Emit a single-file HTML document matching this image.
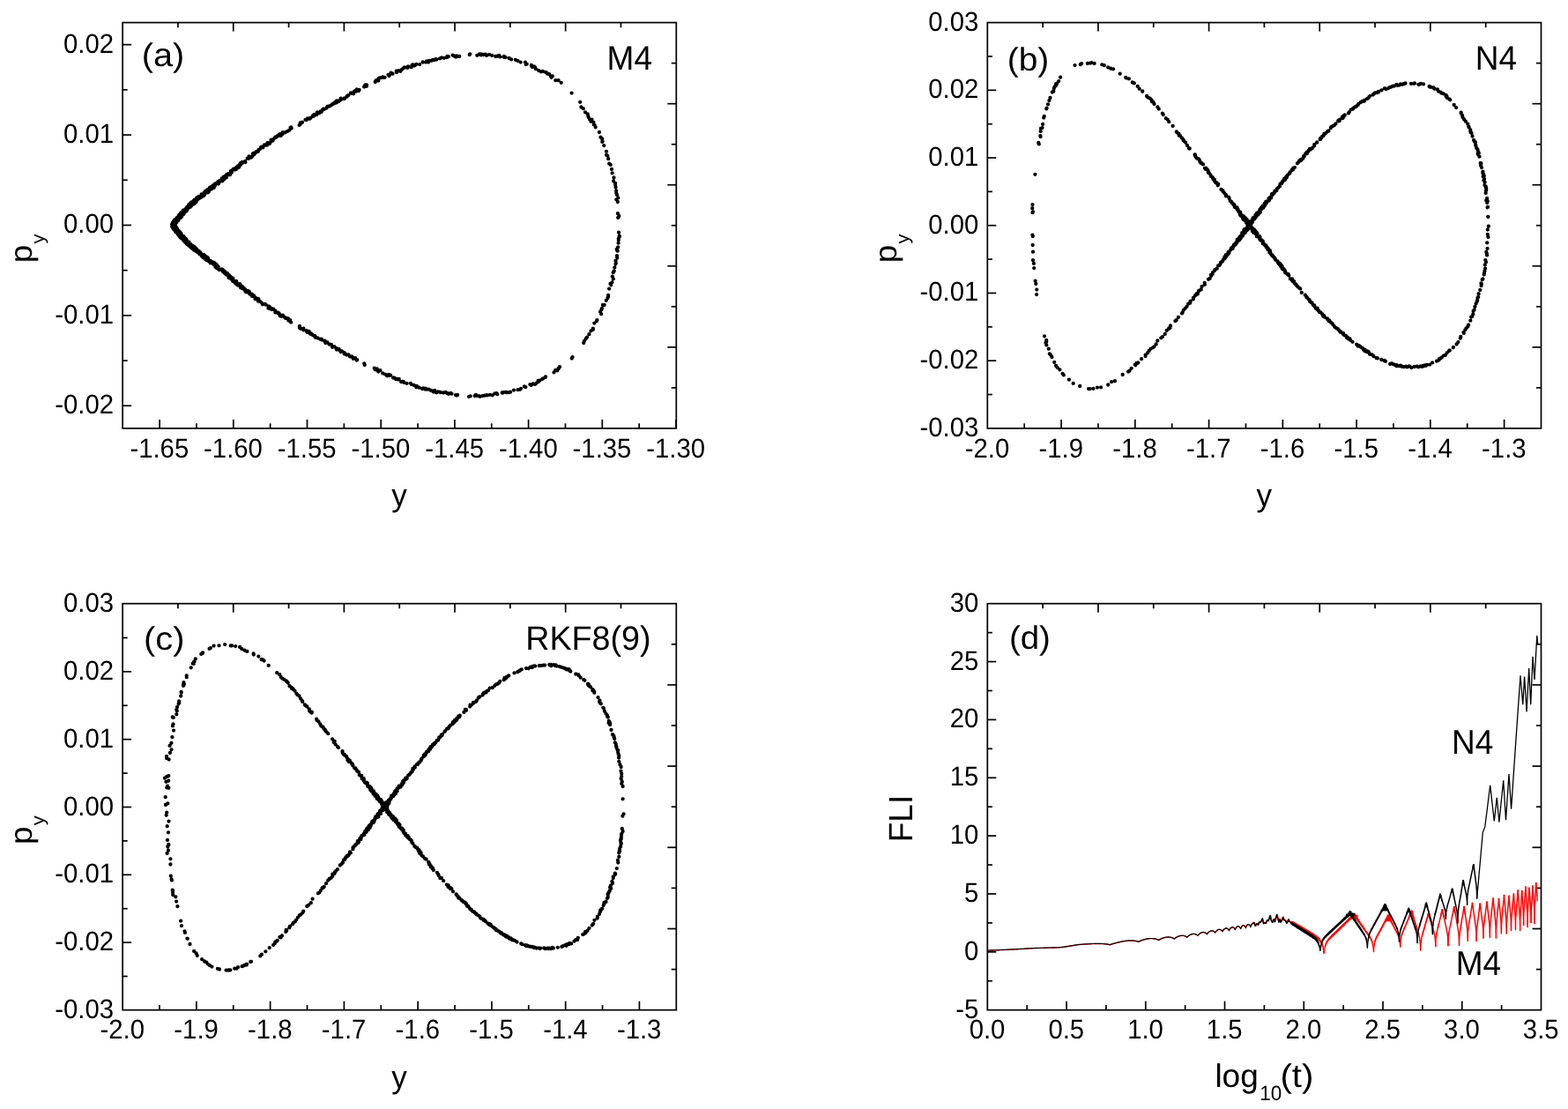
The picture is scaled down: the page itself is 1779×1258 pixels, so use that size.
<!DOCTYPE html>
<html><head><meta charset="utf-8"><title>Figure</title>
<style>
html,body{margin:0;padding:0;background:#fff;}
body{width:1779px;height:1258px;overflow:hidden;}
svg{display:block;}
svg text{font-family:"Liberation Sans",Arial,Helvetica,sans-serif;fill:#000;text-rendering:geometricPrecision;}
</style></head><body>
<svg width="1779" height="1258" viewBox="0 0 1779 1258">
<rect width="1779" height="1258" fill="#fff"/>
<rect x="139.10" y="25.60" width="628.20" height="460.30" fill="none" stroke="#000" stroke-width="1.7"/>
<line x1="181.10" y1="485.90" x2="181.10" y2="475.90" stroke="#000" stroke-width="1.7"/>
<line x1="222.95" y1="485.90" x2="222.95" y2="480.30" stroke="#000" stroke-width="1.7"/>
<line x1="264.80" y1="485.90" x2="264.80" y2="475.90" stroke="#000" stroke-width="1.7"/>
<line x1="306.65" y1="485.90" x2="306.65" y2="480.30" stroke="#000" stroke-width="1.7"/>
<line x1="348.50" y1="485.90" x2="348.50" y2="475.90" stroke="#000" stroke-width="1.7"/>
<line x1="390.35" y1="485.90" x2="390.35" y2="480.30" stroke="#000" stroke-width="1.7"/>
<line x1="432.20" y1="485.90" x2="432.20" y2="475.90" stroke="#000" stroke-width="1.7"/>
<line x1="474.05" y1="485.90" x2="474.05" y2="480.30" stroke="#000" stroke-width="1.7"/>
<line x1="515.90" y1="485.90" x2="515.90" y2="475.90" stroke="#000" stroke-width="1.7"/>
<line x1="557.75" y1="485.90" x2="557.75" y2="480.30" stroke="#000" stroke-width="1.7"/>
<line x1="599.60" y1="485.90" x2="599.60" y2="475.90" stroke="#000" stroke-width="1.7"/>
<line x1="641.45" y1="485.90" x2="641.45" y2="480.30" stroke="#000" stroke-width="1.7"/>
<line x1="683.30" y1="485.90" x2="683.30" y2="475.90" stroke="#000" stroke-width="1.7"/>
<line x1="725.15" y1="485.90" x2="725.15" y2="480.30" stroke="#000" stroke-width="1.7"/>
<line x1="767.00" y1="485.90" x2="767.00" y2="475.90" stroke="#000" stroke-width="1.7"/>
<line x1="139.10" y1="460.25" x2="149.10" y2="460.25" stroke="#000" stroke-width="1.7"/>
<line x1="139.10" y1="409.05" x2="144.70" y2="409.05" stroke="#000" stroke-width="1.7"/>
<line x1="139.10" y1="357.85" x2="149.10" y2="357.85" stroke="#000" stroke-width="1.7"/>
<line x1="139.10" y1="306.65" x2="144.70" y2="306.65" stroke="#000" stroke-width="1.7"/>
<line x1="139.10" y1="255.45" x2="149.10" y2="255.45" stroke="#000" stroke-width="1.7"/>
<line x1="139.10" y1="204.25" x2="144.70" y2="204.25" stroke="#000" stroke-width="1.7"/>
<line x1="139.10" y1="153.05" x2="149.10" y2="153.05" stroke="#000" stroke-width="1.7"/>
<line x1="139.10" y1="101.85" x2="144.70" y2="101.85" stroke="#000" stroke-width="1.7"/>
<line x1="139.10" y1="50.65" x2="149.10" y2="50.65" stroke="#000" stroke-width="1.7"/>
<line x1="201.92" y1="25.60" x2="201.92" y2="31.20" stroke="#000" stroke-width="1.7"/>
<line x1="767.30" y1="71.63" x2="761.70" y2="71.63" stroke="#000" stroke-width="1.7"/>
<line x1="264.74" y1="25.60" x2="264.74" y2="35.60" stroke="#000" stroke-width="1.7"/>
<line x1="767.30" y1="117.66" x2="757.30" y2="117.66" stroke="#000" stroke-width="1.7"/>
<line x1="327.56" y1="25.60" x2="327.56" y2="31.20" stroke="#000" stroke-width="1.7"/>
<line x1="767.30" y1="163.69" x2="761.70" y2="163.69" stroke="#000" stroke-width="1.7"/>
<line x1="390.38" y1="25.60" x2="390.38" y2="35.60" stroke="#000" stroke-width="1.7"/>
<line x1="767.30" y1="209.72" x2="757.30" y2="209.72" stroke="#000" stroke-width="1.7"/>
<line x1="453.20" y1="25.60" x2="453.20" y2="31.20" stroke="#000" stroke-width="1.7"/>
<line x1="767.30" y1="255.75" x2="761.70" y2="255.75" stroke="#000" stroke-width="1.7"/>
<line x1="516.02" y1="25.60" x2="516.02" y2="35.60" stroke="#000" stroke-width="1.7"/>
<line x1="767.30" y1="301.78" x2="757.30" y2="301.78" stroke="#000" stroke-width="1.7"/>
<line x1="578.84" y1="25.60" x2="578.84" y2="31.20" stroke="#000" stroke-width="1.7"/>
<line x1="767.30" y1="347.81" x2="761.70" y2="347.81" stroke="#000" stroke-width="1.7"/>
<line x1="641.66" y1="25.60" x2="641.66" y2="35.60" stroke="#000" stroke-width="1.7"/>
<line x1="767.30" y1="393.84" x2="757.30" y2="393.84" stroke="#000" stroke-width="1.7"/>
<line x1="704.48" y1="25.60" x2="704.48" y2="31.20" stroke="#000" stroke-width="1.7"/>
<line x1="767.30" y1="439.87" x2="761.70" y2="439.87" stroke="#000" stroke-width="1.7"/>
<text transform="translate(180.80,519.20) scale(1,1.055)" font-size="29.3" text-anchor="middle" >-1.65</text>
<text transform="translate(264.50,519.20) scale(1,1.055)" font-size="29.3" text-anchor="middle" >-1.60</text>
<text transform="translate(348.20,519.20) scale(1,1.055)" font-size="29.3" text-anchor="middle" >-1.55</text>
<text transform="translate(431.90,519.20) scale(1,1.055)" font-size="29.3" text-anchor="middle" >-1.50</text>
<text transform="translate(515.60,519.20) scale(1,1.055)" font-size="29.3" text-anchor="middle" >-1.45</text>
<text transform="translate(599.30,519.20) scale(1,1.055)" font-size="29.3" text-anchor="middle" >-1.40</text>
<text transform="translate(683.00,519.20) scale(1,1.055)" font-size="29.3" text-anchor="middle" >-1.35</text>
<text transform="translate(766.70,519.20) scale(1,1.055)" font-size="29.3" text-anchor="middle" >-1.30</text>
<text transform="translate(129.10,59.65) scale(1,1.055)" font-size="29.3" text-anchor="end" >0.02</text>
<text transform="translate(129.10,162.05) scale(1,1.055)" font-size="29.3" text-anchor="end" >0.01</text>
<text transform="translate(129.10,264.45) scale(1,1.055)" font-size="29.3" text-anchor="end" >0.00</text>
<text transform="translate(129.10,366.85) scale(1,1.055)" font-size="29.3" text-anchor="end" >-0.01</text>
<text transform="translate(129.10,469.25) scale(1,1.055)" font-size="29.3" text-anchor="end" >-0.02</text>
<rect x="1120.30" y="25.60" width="628.20" height="460.30" fill="none" stroke="#000" stroke-width="1.7"/>
<line x1="1162.18" y1="485.90" x2="1162.18" y2="480.30" stroke="#000" stroke-width="1.7"/>
<line x1="1204.06" y1="485.90" x2="1204.06" y2="475.90" stroke="#000" stroke-width="1.7"/>
<line x1="1245.94" y1="485.90" x2="1245.94" y2="480.30" stroke="#000" stroke-width="1.7"/>
<line x1="1287.82" y1="485.90" x2="1287.82" y2="475.90" stroke="#000" stroke-width="1.7"/>
<line x1="1329.70" y1="485.90" x2="1329.70" y2="480.30" stroke="#000" stroke-width="1.7"/>
<line x1="1371.58" y1="485.90" x2="1371.58" y2="475.90" stroke="#000" stroke-width="1.7"/>
<line x1="1413.46" y1="485.90" x2="1413.46" y2="480.30" stroke="#000" stroke-width="1.7"/>
<line x1="1455.34" y1="485.90" x2="1455.34" y2="475.90" stroke="#000" stroke-width="1.7"/>
<line x1="1497.22" y1="485.90" x2="1497.22" y2="480.30" stroke="#000" stroke-width="1.7"/>
<line x1="1539.10" y1="485.90" x2="1539.10" y2="475.90" stroke="#000" stroke-width="1.7"/>
<line x1="1580.98" y1="485.90" x2="1580.98" y2="480.30" stroke="#000" stroke-width="1.7"/>
<line x1="1622.86" y1="485.90" x2="1622.86" y2="475.90" stroke="#000" stroke-width="1.7"/>
<line x1="1664.74" y1="485.90" x2="1664.74" y2="480.30" stroke="#000" stroke-width="1.7"/>
<line x1="1706.62" y1="485.90" x2="1706.62" y2="475.90" stroke="#000" stroke-width="1.7"/>
<line x1="1120.30" y1="447.54" x2="1125.90" y2="447.54" stroke="#000" stroke-width="1.7"/>
<line x1="1120.30" y1="409.18" x2="1130.30" y2="409.18" stroke="#000" stroke-width="1.7"/>
<line x1="1120.30" y1="370.82" x2="1125.90" y2="370.82" stroke="#000" stroke-width="1.7"/>
<line x1="1120.30" y1="332.47" x2="1130.30" y2="332.47" stroke="#000" stroke-width="1.7"/>
<line x1="1120.30" y1="294.11" x2="1125.90" y2="294.11" stroke="#000" stroke-width="1.7"/>
<line x1="1120.30" y1="255.75" x2="1130.30" y2="255.75" stroke="#000" stroke-width="1.7"/>
<line x1="1120.30" y1="217.39" x2="1125.90" y2="217.39" stroke="#000" stroke-width="1.7"/>
<line x1="1120.30" y1="179.03" x2="1130.30" y2="179.03" stroke="#000" stroke-width="1.7"/>
<line x1="1120.30" y1="140.68" x2="1125.90" y2="140.68" stroke="#000" stroke-width="1.7"/>
<line x1="1120.30" y1="102.32" x2="1130.30" y2="102.32" stroke="#000" stroke-width="1.7"/>
<line x1="1120.30" y1="63.96" x2="1125.90" y2="63.96" stroke="#000" stroke-width="1.7"/>
<line x1="1183.12" y1="25.60" x2="1183.12" y2="31.20" stroke="#000" stroke-width="1.7"/>
<line x1="1748.50" y1="71.63" x2="1742.90" y2="71.63" stroke="#000" stroke-width="1.7"/>
<line x1="1245.94" y1="25.60" x2="1245.94" y2="35.60" stroke="#000" stroke-width="1.7"/>
<line x1="1748.50" y1="117.66" x2="1738.50" y2="117.66" stroke="#000" stroke-width="1.7"/>
<line x1="1308.76" y1="25.60" x2="1308.76" y2="31.20" stroke="#000" stroke-width="1.7"/>
<line x1="1748.50" y1="163.69" x2="1742.90" y2="163.69" stroke="#000" stroke-width="1.7"/>
<line x1="1371.58" y1="25.60" x2="1371.58" y2="35.60" stroke="#000" stroke-width="1.7"/>
<line x1="1748.50" y1="209.72" x2="1738.50" y2="209.72" stroke="#000" stroke-width="1.7"/>
<line x1="1434.40" y1="25.60" x2="1434.40" y2="31.20" stroke="#000" stroke-width="1.7"/>
<line x1="1748.50" y1="255.75" x2="1742.90" y2="255.75" stroke="#000" stroke-width="1.7"/>
<line x1="1497.22" y1="25.60" x2="1497.22" y2="35.60" stroke="#000" stroke-width="1.7"/>
<line x1="1748.50" y1="301.78" x2="1738.50" y2="301.78" stroke="#000" stroke-width="1.7"/>
<line x1="1560.04" y1="25.60" x2="1560.04" y2="31.20" stroke="#000" stroke-width="1.7"/>
<line x1="1748.50" y1="347.81" x2="1742.90" y2="347.81" stroke="#000" stroke-width="1.7"/>
<line x1="1622.86" y1="25.60" x2="1622.86" y2="35.60" stroke="#000" stroke-width="1.7"/>
<line x1="1748.50" y1="393.84" x2="1738.50" y2="393.84" stroke="#000" stroke-width="1.7"/>
<line x1="1685.68" y1="25.60" x2="1685.68" y2="31.20" stroke="#000" stroke-width="1.7"/>
<line x1="1748.50" y1="439.87" x2="1742.90" y2="439.87" stroke="#000" stroke-width="1.7"/>
<text transform="translate(1120.00,519.20) scale(1,1.055)" font-size="29.3" text-anchor="middle" >-2.0</text>
<text transform="translate(1203.76,519.20) scale(1,1.055)" font-size="29.3" text-anchor="middle" >-1.9</text>
<text transform="translate(1287.52,519.20) scale(1,1.055)" font-size="29.3" text-anchor="middle" >-1.8</text>
<text transform="translate(1371.28,519.20) scale(1,1.055)" font-size="29.3" text-anchor="middle" >-1.7</text>
<text transform="translate(1455.04,519.20) scale(1,1.055)" font-size="29.3" text-anchor="middle" >-1.6</text>
<text transform="translate(1538.80,519.20) scale(1,1.055)" font-size="29.3" text-anchor="middle" >-1.5</text>
<text transform="translate(1622.56,519.20) scale(1,1.055)" font-size="29.3" text-anchor="middle" >-1.4</text>
<text transform="translate(1706.32,519.20) scale(1,1.055)" font-size="29.3" text-anchor="middle" >-1.3</text>
<text transform="translate(1110.30,34.60) scale(1,1.055)" font-size="29.3" text-anchor="end" >0.03</text>
<text transform="translate(1110.30,111.32) scale(1,1.055)" font-size="29.3" text-anchor="end" >0.02</text>
<text transform="translate(1110.30,188.03) scale(1,1.055)" font-size="29.3" text-anchor="end" >0.01</text>
<text transform="translate(1110.30,264.75) scale(1,1.055)" font-size="29.3" text-anchor="end" >0.00</text>
<text transform="translate(1110.30,341.47) scale(1,1.055)" font-size="29.3" text-anchor="end" >-0.01</text>
<text transform="translate(1110.30,418.18) scale(1,1.055)" font-size="29.3" text-anchor="end" >-0.02</text>
<text transform="translate(1110.30,494.90) scale(1,1.055)" font-size="29.3" text-anchor="end" >-0.03</text>
<rect x="139.10" y="684.70" width="628.20" height="461.00" fill="none" stroke="#000" stroke-width="1.7"/>
<line x1="180.98" y1="1145.70" x2="180.98" y2="1140.10" stroke="#000" stroke-width="1.7"/>
<line x1="222.86" y1="1145.70" x2="222.86" y2="1135.70" stroke="#000" stroke-width="1.7"/>
<line x1="264.74" y1="1145.70" x2="264.74" y2="1140.10" stroke="#000" stroke-width="1.7"/>
<line x1="306.62" y1="1145.70" x2="306.62" y2="1135.70" stroke="#000" stroke-width="1.7"/>
<line x1="348.50" y1="1145.70" x2="348.50" y2="1140.10" stroke="#000" stroke-width="1.7"/>
<line x1="390.38" y1="1145.70" x2="390.38" y2="1135.70" stroke="#000" stroke-width="1.7"/>
<line x1="432.26" y1="1145.70" x2="432.26" y2="1140.10" stroke="#000" stroke-width="1.7"/>
<line x1="474.14" y1="1145.70" x2="474.14" y2="1135.70" stroke="#000" stroke-width="1.7"/>
<line x1="516.02" y1="1145.70" x2="516.02" y2="1140.10" stroke="#000" stroke-width="1.7"/>
<line x1="557.90" y1="1145.70" x2="557.90" y2="1135.70" stroke="#000" stroke-width="1.7"/>
<line x1="599.78" y1="1145.70" x2="599.78" y2="1140.10" stroke="#000" stroke-width="1.7"/>
<line x1="641.66" y1="1145.70" x2="641.66" y2="1135.70" stroke="#000" stroke-width="1.7"/>
<line x1="683.54" y1="1145.70" x2="683.54" y2="1140.10" stroke="#000" stroke-width="1.7"/>
<line x1="725.42" y1="1145.70" x2="725.42" y2="1135.70" stroke="#000" stroke-width="1.7"/>
<line x1="139.10" y1="1107.50" x2="144.70" y2="1107.50" stroke="#000" stroke-width="1.7"/>
<line x1="139.10" y1="1069.10" x2="149.10" y2="1069.10" stroke="#000" stroke-width="1.7"/>
<line x1="139.10" y1="1030.70" x2="144.70" y2="1030.70" stroke="#000" stroke-width="1.7"/>
<line x1="139.10" y1="992.30" x2="149.10" y2="992.30" stroke="#000" stroke-width="1.7"/>
<line x1="139.10" y1="953.90" x2="144.70" y2="953.90" stroke="#000" stroke-width="1.7"/>
<line x1="139.10" y1="915.50" x2="149.10" y2="915.50" stroke="#000" stroke-width="1.7"/>
<line x1="139.10" y1="877.10" x2="144.70" y2="877.10" stroke="#000" stroke-width="1.7"/>
<line x1="139.10" y1="838.70" x2="149.10" y2="838.70" stroke="#000" stroke-width="1.7"/>
<line x1="139.10" y1="800.30" x2="144.70" y2="800.30" stroke="#000" stroke-width="1.7"/>
<line x1="139.10" y1="761.90" x2="149.10" y2="761.90" stroke="#000" stroke-width="1.7"/>
<line x1="139.10" y1="723.50" x2="144.70" y2="723.50" stroke="#000" stroke-width="1.7"/>
<line x1="201.92" y1="684.70" x2="201.92" y2="690.30" stroke="#000" stroke-width="1.7"/>
<line x1="767.30" y1="730.80" x2="761.70" y2="730.80" stroke="#000" stroke-width="1.7"/>
<line x1="264.74" y1="684.70" x2="264.74" y2="694.70" stroke="#000" stroke-width="1.7"/>
<line x1="767.30" y1="776.90" x2="757.30" y2="776.90" stroke="#000" stroke-width="1.7"/>
<line x1="327.56" y1="684.70" x2="327.56" y2="690.30" stroke="#000" stroke-width="1.7"/>
<line x1="767.30" y1="823.00" x2="761.70" y2="823.00" stroke="#000" stroke-width="1.7"/>
<line x1="390.38" y1="684.70" x2="390.38" y2="694.70" stroke="#000" stroke-width="1.7"/>
<line x1="767.30" y1="869.10" x2="757.30" y2="869.10" stroke="#000" stroke-width="1.7"/>
<line x1="453.20" y1="684.70" x2="453.20" y2="690.30" stroke="#000" stroke-width="1.7"/>
<line x1="767.30" y1="915.20" x2="761.70" y2="915.20" stroke="#000" stroke-width="1.7"/>
<line x1="516.02" y1="684.70" x2="516.02" y2="694.70" stroke="#000" stroke-width="1.7"/>
<line x1="767.30" y1="961.30" x2="757.30" y2="961.30" stroke="#000" stroke-width="1.7"/>
<line x1="578.84" y1="684.70" x2="578.84" y2="690.30" stroke="#000" stroke-width="1.7"/>
<line x1="767.30" y1="1007.40" x2="761.70" y2="1007.40" stroke="#000" stroke-width="1.7"/>
<line x1="641.66" y1="684.70" x2="641.66" y2="694.70" stroke="#000" stroke-width="1.7"/>
<line x1="767.30" y1="1053.50" x2="757.30" y2="1053.50" stroke="#000" stroke-width="1.7"/>
<line x1="704.48" y1="684.70" x2="704.48" y2="690.30" stroke="#000" stroke-width="1.7"/>
<line x1="767.30" y1="1099.60" x2="761.70" y2="1099.60" stroke="#000" stroke-width="1.7"/>
<text transform="translate(138.80,1178.10) scale(1,1.055)" font-size="29.3" text-anchor="middle" >-2.0</text>
<text transform="translate(222.56,1178.10) scale(1,1.055)" font-size="29.3" text-anchor="middle" >-1.9</text>
<text transform="translate(306.32,1178.10) scale(1,1.055)" font-size="29.3" text-anchor="middle" >-1.8</text>
<text transform="translate(390.08,1178.10) scale(1,1.055)" font-size="29.3" text-anchor="middle" >-1.7</text>
<text transform="translate(473.84,1178.10) scale(1,1.055)" font-size="29.3" text-anchor="middle" >-1.6</text>
<text transform="translate(557.60,1178.10) scale(1,1.055)" font-size="29.3" text-anchor="middle" >-1.5</text>
<text transform="translate(641.36,1178.10) scale(1,1.055)" font-size="29.3" text-anchor="middle" >-1.4</text>
<text transform="translate(725.12,1178.10) scale(1,1.055)" font-size="29.3" text-anchor="middle" >-1.3</text>
<text transform="translate(129.10,694.10) scale(1,1.055)" font-size="29.3" text-anchor="end" >0.03</text>
<text transform="translate(129.10,770.90) scale(1,1.055)" font-size="29.3" text-anchor="end" >0.02</text>
<text transform="translate(129.10,847.70) scale(1,1.055)" font-size="29.3" text-anchor="end" >0.01</text>
<text transform="translate(129.10,924.50) scale(1,1.055)" font-size="29.3" text-anchor="end" >0.00</text>
<text transform="translate(129.10,1001.30) scale(1,1.055)" font-size="29.3" text-anchor="end" >-0.01</text>
<text transform="translate(129.10,1078.10) scale(1,1.055)" font-size="29.3" text-anchor="end" >-0.02</text>
<text transform="translate(129.10,1154.90) scale(1,1.055)" font-size="29.3" text-anchor="end" >-0.03</text>
<rect x="1120.30" y="684.70" width="628.20" height="461.00" fill="none" stroke="#000" stroke-width="1.7"/>
<line x1="1165.17" y1="1145.70" x2="1165.17" y2="1140.10" stroke="#000" stroke-width="1.7"/>
<line x1="1210.04" y1="1145.70" x2="1210.04" y2="1135.70" stroke="#000" stroke-width="1.7"/>
<line x1="1254.91" y1="1145.70" x2="1254.91" y2="1140.10" stroke="#000" stroke-width="1.7"/>
<line x1="1299.79" y1="1145.70" x2="1299.79" y2="1135.70" stroke="#000" stroke-width="1.7"/>
<line x1="1344.66" y1="1145.70" x2="1344.66" y2="1140.10" stroke="#000" stroke-width="1.7"/>
<line x1="1389.53" y1="1145.70" x2="1389.53" y2="1135.70" stroke="#000" stroke-width="1.7"/>
<line x1="1434.40" y1="1145.70" x2="1434.40" y2="1140.10" stroke="#000" stroke-width="1.7"/>
<line x1="1479.27" y1="1145.70" x2="1479.27" y2="1135.70" stroke="#000" stroke-width="1.7"/>
<line x1="1524.14" y1="1145.70" x2="1524.14" y2="1140.10" stroke="#000" stroke-width="1.7"/>
<line x1="1569.01" y1="1145.70" x2="1569.01" y2="1135.70" stroke="#000" stroke-width="1.7"/>
<line x1="1613.89" y1="1145.70" x2="1613.89" y2="1140.10" stroke="#000" stroke-width="1.7"/>
<line x1="1658.76" y1="1145.70" x2="1658.76" y2="1135.70" stroke="#000" stroke-width="1.7"/>
<line x1="1703.63" y1="1145.70" x2="1703.63" y2="1140.10" stroke="#000" stroke-width="1.7"/>
<line x1="1120.30" y1="1112.77" x2="1125.90" y2="1112.77" stroke="#000" stroke-width="1.7"/>
<line x1="1120.30" y1="1079.84" x2="1130.30" y2="1079.84" stroke="#000" stroke-width="1.7"/>
<line x1="1120.30" y1="1046.91" x2="1125.90" y2="1046.91" stroke="#000" stroke-width="1.7"/>
<line x1="1120.30" y1="1013.99" x2="1130.30" y2="1013.99" stroke="#000" stroke-width="1.7"/>
<line x1="1120.30" y1="981.06" x2="1125.90" y2="981.06" stroke="#000" stroke-width="1.7"/>
<line x1="1120.30" y1="948.13" x2="1130.30" y2="948.13" stroke="#000" stroke-width="1.7"/>
<line x1="1120.30" y1="915.20" x2="1125.90" y2="915.20" stroke="#000" stroke-width="1.7"/>
<line x1="1120.30" y1="882.27" x2="1130.30" y2="882.27" stroke="#000" stroke-width="1.7"/>
<line x1="1120.30" y1="849.34" x2="1125.90" y2="849.34" stroke="#000" stroke-width="1.7"/>
<line x1="1120.30" y1="816.41" x2="1130.30" y2="816.41" stroke="#000" stroke-width="1.7"/>
<line x1="1120.30" y1="783.49" x2="1125.90" y2="783.49" stroke="#000" stroke-width="1.7"/>
<line x1="1120.30" y1="750.56" x2="1130.30" y2="750.56" stroke="#000" stroke-width="1.7"/>
<line x1="1120.30" y1="717.63" x2="1125.90" y2="717.63" stroke="#000" stroke-width="1.7"/>
<line x1="1183.12" y1="684.70" x2="1183.12" y2="690.30" stroke="#000" stroke-width="1.7"/>
<line x1="1748.50" y1="730.80" x2="1742.90" y2="730.80" stroke="#000" stroke-width="1.7"/>
<line x1="1245.94" y1="684.70" x2="1245.94" y2="694.70" stroke="#000" stroke-width="1.7"/>
<line x1="1748.50" y1="776.90" x2="1738.50" y2="776.90" stroke="#000" stroke-width="1.7"/>
<line x1="1308.76" y1="684.70" x2="1308.76" y2="690.30" stroke="#000" stroke-width="1.7"/>
<line x1="1748.50" y1="823.00" x2="1742.90" y2="823.00" stroke="#000" stroke-width="1.7"/>
<line x1="1371.58" y1="684.70" x2="1371.58" y2="694.70" stroke="#000" stroke-width="1.7"/>
<line x1="1748.50" y1="869.10" x2="1738.50" y2="869.10" stroke="#000" stroke-width="1.7"/>
<line x1="1434.40" y1="684.70" x2="1434.40" y2="690.30" stroke="#000" stroke-width="1.7"/>
<line x1="1748.50" y1="915.20" x2="1742.90" y2="915.20" stroke="#000" stroke-width="1.7"/>
<line x1="1497.22" y1="684.70" x2="1497.22" y2="694.70" stroke="#000" stroke-width="1.7"/>
<line x1="1748.50" y1="961.30" x2="1738.50" y2="961.30" stroke="#000" stroke-width="1.7"/>
<line x1="1560.04" y1="684.70" x2="1560.04" y2="690.30" stroke="#000" stroke-width="1.7"/>
<line x1="1748.50" y1="1007.40" x2="1742.90" y2="1007.40" stroke="#000" stroke-width="1.7"/>
<line x1="1622.86" y1="684.70" x2="1622.86" y2="694.70" stroke="#000" stroke-width="1.7"/>
<line x1="1748.50" y1="1053.50" x2="1738.50" y2="1053.50" stroke="#000" stroke-width="1.7"/>
<line x1="1685.68" y1="684.70" x2="1685.68" y2="690.30" stroke="#000" stroke-width="1.7"/>
<line x1="1748.50" y1="1099.60" x2="1742.90" y2="1099.60" stroke="#000" stroke-width="1.7"/>
<text transform="translate(1120.00,1178.10) scale(1,1.055)" font-size="29.3" text-anchor="middle" >0.0</text>
<text transform="translate(1209.74,1178.10) scale(1,1.055)" font-size="29.3" text-anchor="middle" >0.5</text>
<text transform="translate(1299.49,1178.10) scale(1,1.055)" font-size="29.3" text-anchor="middle" >1.0</text>
<text transform="translate(1389.23,1178.10) scale(1,1.055)" font-size="29.3" text-anchor="middle" >1.5</text>
<text transform="translate(1478.97,1178.10) scale(1,1.055)" font-size="29.3" text-anchor="middle" >2.0</text>
<text transform="translate(1568.71,1178.10) scale(1,1.055)" font-size="29.3" text-anchor="middle" >2.5</text>
<text transform="translate(1658.46,1178.10) scale(1,1.055)" font-size="29.3" text-anchor="middle" >3.0</text>
<text transform="translate(1748.20,1178.10) scale(1,1.055)" font-size="29.3" text-anchor="middle" >3.5</text>
<text transform="translate(1110.30,693.70) scale(1,1.055)" font-size="29.3" text-anchor="end" >30</text>
<text transform="translate(1110.30,759.56) scale(1,1.055)" font-size="29.3" text-anchor="end" >25</text>
<text transform="translate(1110.30,825.41) scale(1,1.055)" font-size="29.3" text-anchor="end" >20</text>
<text transform="translate(1110.30,891.27) scale(1,1.055)" font-size="29.3" text-anchor="end" >15</text>
<text transform="translate(1110.30,957.13) scale(1,1.055)" font-size="29.3" text-anchor="end" >10</text>
<text transform="translate(1110.30,1022.99) scale(1,1.055)" font-size="29.3" text-anchor="end" >5</text>
<text transform="translate(1110.30,1088.84) scale(1,1.055)" font-size="29.3" text-anchor="end" >0</text>
<text transform="translate(1110.30,1154.70) scale(1,1.055)" font-size="29.3" text-anchor="end" >-5</text>
<text transform="translate(160.80,75.10) scale(1.07,1.0)" font-size="37.0" text-anchor="start">(a)</text>
<text transform="translate(688.60,78.95) scale(1.0,1.045)" font-size="37.0" text-anchor="start">M4</text>
<text transform="translate(1142.80,79.70) scale(1.05,1.0)" font-size="37.0" text-anchor="start">(b)</text>
<text transform="translate(1673.70,78.85) scale(1.0,1.045)" font-size="37.0" text-anchor="start">N4</text>
<text transform="translate(163.00,736.90) scale(1.075,1.0)" font-size="37.0" text-anchor="start">(c)</text>
<text transform="translate(596.20,736.60) scale(1.018,1.035)" font-size="37.0" text-anchor="start">RKF8(9)</text>
<text transform="translate(1144.90,735.90) scale(1.04,1.0)" font-size="37.0" text-anchor="start">(d)</text>
<text transform="translate(1647.00,854.85) scale(1.0,1.05)" font-size="37.0" text-anchor="start">N4</text>
<text transform="translate(1651.80,1105.50) scale(1.0,1.05)" font-size="37.0" text-anchor="start">M4</text>
<text transform="translate(453.00,573.90) scale(0.95,0.975)" font-size="37.0" text-anchor="middle">y</text>
<text transform="translate(1434.30,573.90) scale(0.95,0.975)" font-size="37.0" text-anchor="middle">y</text>
<text transform="translate(453.00,1233.70) scale(0.95,0.975)" font-size="37.0" text-anchor="middle">y</text>
<text transform="translate(1378.40,1233.20) scale(1.0,1.0)" font-size="37.0" text-anchor="start">log</text>
<text transform="translate(1429.30,1247.80) scale(1.0,1.05)" font-size="22.5" text-anchor="start">10</text>
<text transform="translate(1452.40,1233.20) scale(1.09,1.0)" font-size="37.0" text-anchor="start">(t)</text>
<text transform="translate(36.1,298.2) rotate(-90) scale(1.0,0.955)" font-size="37.0" text-anchor="start">p<tspan dx="1.2" dy="14.6" font-size="22">y</tspan></text>
<text transform="translate(1017.3,298.2) rotate(-90) scale(1.0,0.955)" font-size="37.0" text-anchor="start">p<tspan dx="1.2" dy="14.6" font-size="22">y</tspan></text>
<text transform="translate(36.1,958.0) rotate(-90) scale(1.0,0.955)" font-size="37.0" text-anchor="start">p<tspan dx="1.2" dy="14.6" font-size="22">y</tspan></text>
<text transform="translate(1035,955.3) rotate(-90) scale(1.0,1.03)" font-size="37.0" text-anchor="start">FLI</text>
<path d="M197.2 255.4h0M196.2 255.4h0M196.4 255.2h0M198.5 255.3h0M195.8 254.8h0M195.1 254.6h0M197.1 254.8h0M197.6 254.7h0M196.8 254.3h0M197.0 254.0h0M196.5 253.4h0M195.8 252.8h0M196.4 253.1h0M196.3 252.5h0M198.9 253.8h0M197.4 252.7h0M199.1 253.8h0M197.7 252.5h0M196.9 251.9h0M198.1 252.6h0M198.4 252.3h0M199.5 253.1h0M197.0 250.8h0M198.1 251.4h0M199.0 251.9h0M198.1 250.8h0M199.0 251.3h0M198.8 250.8h0M200.5 252.1h0M200.5 251.8h0M198.1 249.5h0M198.1 249.5h0M198.9 249.8h0M199.7 250.2h0M199.7 250.1h0M199.5 249.7h0M200.5 250.5h0M201.1 250.4h0M200.4 249.7h0M200.2 249.3h0M200.5 249.5h0M199.8 248.8h0M201.3 250.0h0M201.5 249.8h0M200.0 248.3h0M202.4 249.9h0M201.2 248.6h0M202.1 249.2h0M201.4 248.5h0M201.3 248.2h0M202.2 248.8h0M200.8 247.3h0M201.6 247.8h0M200.8 246.9h0M202.7 247.8h0M202.2 247.1h0M202.2 246.9h0M202.3 246.4h0M203.5 247.1h0M203.3 246.7h0M203.1 246.1h0M203.0 245.7h0M204.9 247.1h0M204.9 247.0h0M202.6 244.9h0M205.1 246.3h0M204.6 245.7h0M204.5 245.3h0M204.9 245.1h0M203.3 243.7h0M205.9 245.8h0M206.2 245.5h0M205.0 244.2h0M205.2 244.0h0M205.3 244.1h0M204.8 243.3h0M205.9 244.1h0M205.5 243.5h0M204.7 242.7h0M205.2 243.0h0M205.2 242.7h0M205.4 242.6h0M205.7 242.7h0M206.8 243.1h0M206.0 242.2h0M205.4 241.1h0M208.1 243.1h0M206.5 241.3h0M208.6 242.5h0M207.8 241.4h0M208.4 241.2h0M207.4 240.0h0M208.3 240.6h0M208.0 240.1h0M208.3 240.3h0M208.9 240.5h0M208.4 239.6h0M209.7 240.2h0M208.0 238.4h0M208.3 238.7h0M209.7 239.6h0M210.0 239.5h0M210.8 239.5h0M211.4 239.5h0M210.7 238.6h0M211.0 238.8h0M210.7 238.3h0M210.8 238.1h0M210.9 237.6h0M211.2 237.5h0M210.8 236.9h0M211.2 237.2h0M212.0 237.8h0M211.9 237.5h0M212.5 237.9h0M211.7 236.2h0M212.3 235.8h0M213.0 236.3h0M212.1 235.2h0M212.4 234.8h0M213.8 235.8h0M213.4 234.7h0M214.4 235.6h0M214.0 234.8h0M214.0 234.0h0M213.8 233.2h0M215.7 234.9h0M214.8 233.8h0M214.2 233.1h0M214.5 232.0h0M214.9 232.0h0M215.6 232.5h0M216.9 233.7h0M215.5 231.9h0M216.6 232.6h0M216.7 232.4h0M216.0 230.7h0M216.2 230.7h0M218.1 232.0h0M216.9 229.9h0M219.1 231.6h0M218.3 230.6h0M217.4 229.5h0M220.1 231.3h0M219.3 229.6h0M220.6 230.8h0M219.9 229.5h0M219.4 228.6h0M220.7 230.1h0M221.2 230.3h0M221.2 229.9h0M219.8 227.7h0M221.3 228.9h0M220.4 227.2h0M220.9 227.6h0M222.4 229.0h0M220.5 226.8h0M222.6 229.1h0M220.7 226.6h0M221.2 226.4h0M222.7 227.9h0M222.1 227.1h0M222.5 226.9h0M222.0 226.2h0M223.4 227.2h0M223.4 226.6h0M223.6 226.0h0M223.3 225.3h0M223.2 224.6h0M224.2 225.6h0M223.7 224.2h0M224.3 224.6h0M225.5 225.4h0M225.9 225.1h0M226.0 223.6h0M225.5 222.8h0M226.9 224.1h0M227.6 224.0h0M227.8 222.8h0M229.4 223.1h0M229.8 222.5h0M228.6 220.3h0M229.8 220.9h0M229.8 220.5h0M231.5 221.8h0M231.3 221.3h0M231.0 220.3h0M231.8 220.3h0M232.2 220.4h0M231.4 219.0h0M231.9 219.3h0M232.1 219.2h0M232.2 218.7h0M232.4 218.6h0M232.9 219.0h0M232.8 217.1h0M233.4 216.9h0M234.8 218.2h0M235.7 218.4h0M236.8 217.6h0M235.3 215.1h0M237.3 215.7h0M236.8 214.6h0M237.1 214.7h0M237.7 214.6h0M238.2 215.0h0M238.4 215.0h0M237.8 213.1h0M238.5 213.5h0M240.0 214.4h0M239.6 213.6h0M239.4 211.8h0M240.0 211.8h0M240.5 211.7h0M242.1 212.7h0M242.7 212.9h0M241.6 210.5h0M243.3 211.0h0M242.9 210.4h0M243.8 210.8h0M244.2 209.5h0M244.0 208.5h0M245.2 208.1h0M245.6 207.8h0M247.8 208.6h0M247.2 206.4h0M248.8 206.7h0M248.2 205.6h0M248.7 205.3h0M250.0 205.3h0M249.8 204.6h0M252.1 205.4h0M252.4 204.8h0M251.8 202.3h0M253.1 203.3h0M254.1 203.6h0M253.6 200.7h0M255.6 200.1h0M256.8 201.4h0M256.0 199.4h0M256.9 200.4h0M256.8 199.5h0M257.3 199.5h0M257.3 198.0h0M258.9 197.9h0M259.5 197.0h0M260.9 198.3h0M260.6 197.4h0M260.9 196.5h0M261.9 195.6h0M262.8 195.7h0M262.0 193.9h0M262.6 193.8h0M263.6 193.1h0M264.4 192.6h0M264.7 191.8h0M266.2 192.6h0M266.4 191.4h0M267.8 192.2h0M267.2 191.1h0M267.3 190.7h0M268.2 191.0h0M268.6 190.7h0M268.7 189.7h0M269.9 189.8h0M270.5 190.0h0M270.0 188.5h0M271.0 189.7h0M270.5 188.4h0M271.5 188.8h0M271.4 187.8h0M271.8 187.1h0M273.0 186.9h0M272.7 185.5h0M273.3 184.8h0M274.6 185.2h0M274.9 184.8h0M274.7 183.9h0M278.4 184.1h0M278.1 182.9h0M280.6 179.6h0M282.1 179.8h0M282.6 179.4h0M282.5 178.5h0M282.8 178.4h0M282.5 177.4h0M283.7 178.2h0M285.1 178.6h0M285.4 177.9h0M286.5 176.9h0M286.8 174.9h0M287.3 174.0h0M288.6 175.1h0M289.6 173.6h0M290.3 172.6h0M291.1 171.8h0M292.8 171.9h0M293.0 171.4h0M293.8 169.6h0M295.0 169.1h0M296.1 167.0h0M296.8 166.6h0M298.2 167.4h0M299.6 165.3h0M300.0 164.5h0M301.9 164.4h0M302.9 164.7h0M303.4 162.1h0M303.9 162.3h0M304.3 162.1h0M305.9 162.9h0M306.4 161.9h0M308.1 160.0h0M307.5 158.7h0M309.2 159.7h0M309.6 159.2h0M310.0 158.2h0M311.4 156.7h0M312.4 156.3h0M312.5 155.3h0M314.0 155.3h0M314.2 155.1h0M315.0 154.1h0M316.6 153.7h0M316.8 152.6h0M318.5 153.9h0M318.1 152.9h0M318.1 151.9h0M319.1 153.2h0M320.5 152.1h0M320.6 151.0h0M320.8 150.1h0M322.1 150.5h0M323.1 150.4h0M324.8 149.6h0M326.9 148.6h0M328.1 147.8h0M329.5 144.8h0M330.7 145.6h0M330.3 144.4h0M339.6 141.9h0M340.7 140.9h0M340.7 139.5h0M342.9 138.7h0M343.0 138.8h0M346.5 135.8h0M347.1 136.0h0M347.8 135.9h0M349.0 134.5h0M350.4 134.6h0M351.4 134.7h0M352.2 133.9h0M354.6 132.0h0M355.2 131.2h0M356.1 131.5h0M356.3 130.2h0M356.9 129.8h0M359.2 130.2h0M360.0 128.2h0M359.9 127.4h0M361.9 128.3h0M362.0 128.0h0M362.7 128.1h0M363.7 126.3h0M364.8 126.8h0M365.5 125.2h0M366.8 123.6h0M367.7 123.9h0M370.5 122.6h0M371.4 120.8h0M373.4 120.5h0M375.7 119.6h0M376.7 118.4h0M377.9 118.1h0M378.8 117.5h0M379.5 116.4h0M380.8 116.7h0M381.7 116.4h0M381.5 114.7h0M382.9 114.5h0M384.4 115.1h0M385.7 113.9h0M386.7 111.7h0M388.2 112.3h0M390.8 111.9h0M390.9 111.3h0M393.6 109.7h0M394.2 108.6h0M395.3 108.1h0M398.0 105.5h0M399.4 105.8h0M401.1 106.3h0M401.3 104.7h0M402.2 103.4h0M404.2 103.6h0M404.7 101.5h0M406.7 103.2h0M407.6 101.9h0M413.1 98.5h0M413.5 98.2h0M414.4 96.4h0M415.9 97.8h0M416.1 96.5h0M425.7 93.0h0M426.5 91.3h0M427.1 91.5h0M429.3 91.5h0M429.4 89.1h0M430.5 88.4h0M432.5 88.1h0M434.4 87.4h0M434.8 87.8h0M436.6 87.8h0M440.5 84.8h0M441.5 86.1h0M442.7 84.4h0M443.5 82.6h0M444.6 83.4h0M445.5 83.7h0M449.9 82.2h0M449.7 80.7h0M452.3 80.2h0M454.3 80.9h0M455.7 79.1h0M457.4 77.6h0M458.9 76.5h0M461.2 76.6h0M462.6 76.8h0M463.1 75.3h0M466.7 76.2h0M467.5 74.1h0M468.2 73.3h0M470.0 74.5h0M471.6 73.5h0M472.4 73.0h0M476.2 73.1h0M479.7 70.5h0M483.1 70.6h0M484.0 69.3h0M486.1 70.5h0M486.6 69.1h0M487.6 68.9h0M489.8 68.8h0M491.0 68.0h0M492.7 68.0h0M494.1 67.1h0M495.3 67.5h0M499.1 66.3h0M501.1 65.4h0M503.8 65.8h0M506.9 65.2h0M507.3 63.9h0M508.8 64.2h0M513.6 62.6h0M515.4 63.6h0M516.3 64.1h0M517.0 64.5h0M518.0 63.4h0M518.7 64.0h0M521.2 64.0h0M532.7 62.1h0M533.2 61.3h0M541.3 62.8h0M543.9 61.5h0M545.8 62.4h0M546.0 61.5h0M548.7 62.0h0M550.8 61.7h0M552.0 62.9h0M555.1 61.8h0M558.2 62.9h0M562.3 64.0h0M564.7 63.7h0M566.1 62.9h0M567.5 64.4h0M571.6 64.7h0M571.9 63.9h0M573.4 65.1h0M577.5 66.0h0M580.1 67.4h0M584.8 67.8h0M587.6 69.1h0M590.7 70.6h0M595.9 70.7h0M596.7 73.1h0M597.7 72.7h0M602.9 73.9h0M603.1 75.0h0M604.2 76.2h0M606.0 75.5h0M606.9 76.1h0M607.9 78.2h0M611.1 79.9h0M613.8 81.3h0M615.8 81.0h0M618.9 81.8h0M619.9 82.4h0M621.0 83.5h0M623.2 84.2h0M624.8 86.5h0M625.6 87.8h0M626.8 86.4h0M630.3 91.2h0M633.6 91.2h0M636.7 93.8h0M648.6 105.6h0M658.2 115.8h0M659.4 121.5h0M661.8 123.2h0M664.0 127.3h0M666.8 129.4h0M667.3 132.0h0M667.7 133.1h0M669.1 135.5h0M671.5 135.7h0M670.4 137.8h0M673.4 138.8h0M673.8 141.4h0M674.6 141.9h0M675.7 144.3h0M679.9 150.0h0M681.5 155.7h0M683.1 157.5h0M683.6 160.5h0M683.3 160.9h0M685.3 165.1h0M688.0 171.8h0M688.1 175.9h0M689.3 176.8h0M690.2 180.2h0M691.2 185.7h0M692.7 186.9h0M694.0 191.9h0M694.6 196.3h0M696.5 201.5h0M696.1 205.4h0M698.1 207.9h0M698.1 210.1h0M698.5 212.5h0M699.2 216.5h0M699.3 219.1h0M700.0 221.0h0M701.3 224.4h0M699.3 226.3h0M700.8 229.0h0M700.9 242.2h0M702.4 245.1h0M701.2 246.9h0M702.0 263.7h0M702.8 267.7h0M702.7 268.7h0M701.8 270.8h0M701.8 272.2h0M701.6 275.7h0M701.1 280.5h0M699.7 283.0h0M700.6 284.7h0M700.0 290.1h0M700.1 290.9h0M700.2 292.5h0M698.5 295.9h0M698.8 298.4h0M698.5 299.6h0M697.3 303.4h0M696.7 307.5h0M695.7 309.2h0M694.8 313.7h0M695.8 316.4h0M694.4 320.3h0M692.5 321.9h0M693.2 323.3h0M691.1 327.6h0M690.1 334.8h0M690.1 336.4h0M689.4 338.2h0M687.8 340.8h0M685.6 346.0h0M683.9 346.0h0M682.9 350.0h0M682.4 351.3h0M681.1 353.7h0M682.1 356.2h0M677.4 363.1h0M676.9 364.3h0M674.3 366.6h0M672.8 372.7h0M672.9 373.8h0M670.5 375.4h0M668.4 379.2h0M666.0 382.6h0M664.6 384.4h0M663.0 386.8h0M662.2 389.1h0M649.5 405.1h0M648.8 406.5h0M635.1 416.2h0M633.6 417.6h0M633.6 418.4h0M632.3 420.4h0M630.2 419.9h0M628.5 422.4h0M619.0 427.3h0M618.7 428.0h0M616.2 429.3h0M615.1 430.1h0M612.3 431.7h0M611.2 432.8h0M610.6 431.8h0M608.6 434.7h0M607.0 435.9h0M604.8 435.4h0M602.7 437.1h0M601.4 436.2h0M596.4 439.1h0M594.9 438.5h0M591.0 440.8h0M590.0 441.8h0M587.5 442.2h0M583.0 442.6h0M579.1 444.7h0M577.9 445.2h0M575.3 445.2h0M574.2 445.0h0M571.9 444.8h0M570.3 445.7h0M569.7 445.5h0M564.3 447.2h0M563.2 446.2h0M561.3 446.4h0M558.7 448.3h0M555.9 447.8h0M553.0 448.4h0M552.2 448.1h0M549.9 448.7h0M547.3 449.2h0M544.5 449.8h0M543.3 449.2h0M540.9 448.8h0M539.9 448.0h0M539.7 448.4h0M538.7 449.1h0M533.7 449.3h0M532.1 449.9h0M519.1 448.0h0M518.0 448.5h0M517.0 448.1h0M512.5 446.7h0M511.2 445.8h0M509.1 446.8h0M507.2 446.0h0M505.6 444.9h0M503.2 445.5h0M500.0 445.2h0M498.7 444.7h0M496.7 444.5h0M495.1 445.3h0M493.2 442.9h0M491.9 444.6h0M490.2 443.3h0M489.0 442.9h0M486.5 441.6h0M484.4 441.6h0M483.0 441.4h0M482.4 441.6h0M482.6 440.7h0M480.0 440.5h0M479.5 440.7h0M479.0 441.1h0M475.7 439.7h0M472.9 438.0h0M472.3 439.2h0M469.6 436.9h0M466.9 436.1h0M465.8 434.8h0M461.5 434.9h0M458.4 433.9h0M457.7 432.9h0M456.7 432.8h0M455.2 433.2h0M452.7 429.9h0M452.0 430.5h0M450.7 430.0h0M449.3 430.2h0M447.6 428.6h0M446.1 428.5h0M443.1 425.6h0M442.2 425.9h0M441.1 424.8h0M439.3 426.3h0M438.4 425.6h0M437.1 424.6h0M434.2 423.4h0M431.4 420.2h0M430.2 420.7h0M429.3 421.5h0M427.1 419.7h0M427.7 418.4h0M425.6 419.0h0M424.7 417.7h0M413.7 414.0h0M413.2 412.3h0M405.2 408.2h0M404.9 408.3h0M404.7 408.6h0M403.1 406.1h0M400.9 406.9h0M400.3 405.8h0M399.9 405.3h0M399.2 404.3h0M398.4 404.6h0M396.8 404.3h0M395.5 402.3h0M393.2 402.5h0M391.8 401.4h0M390.6 401.4h0M390.5 399.8h0M387.9 398.4h0M386.5 399.1h0M385.6 397.4h0M384.4 396.0h0M382.8 396.3h0M381.9 396.5h0M381.4 395.0h0M379.2 393.1h0M377.1 393.8h0M375.9 391.0h0M373.5 390.5h0M371.5 388.5h0M369.4 389.1h0M368.9 387.0h0M368.4 387.3h0M368.0 386.6h0M365.1 385.6h0M364.8 384.6h0M363.2 384.7h0M360.4 383.4h0M358.4 382.8h0M357.7 382.7h0M357.4 381.2h0M356.0 380.8h0M354.2 379.5h0M353.9 379.5h0M353.0 378.4h0M352.3 378.3h0M351.7 378.5h0M351.1 376.9h0M350.5 375.8h0M348.8 377.1h0M348.1 376.2h0M347.9 375.2h0M344.5 374.4h0M344.4 372.7h0M342.0 372.9h0M341.1 372.8h0M339.8 371.8h0M339.9 370.0h0M330.1 365.6h0M329.1 363.2h0M327.3 363.5h0M327.0 361.5h0M325.2 360.9h0M323.7 360.8h0M323.0 359.8h0M321.1 358.6h0M320.5 358.5h0M320.9 357.6h0M319.4 358.9h0M318.2 358.6h0M317.8 358.4h0M317.5 357.0h0M316.8 356.4h0M316.5 355.5h0M315.6 354.6h0M315.0 354.9h0M314.5 354.7h0M312.3 354.3h0M312.2 352.3h0M310.3 350.7h0M308.5 351.0h0M308.1 349.8h0M306.8 350.3h0M307.0 349.8h0M305.9 348.9h0M305.9 348.2h0M304.4 349.5h0M304.7 348.1h0M304.6 347.3h0M301.6 345.7h0M300.8 344.9h0M298.0 345.3h0M297.0 343.8h0M296.0 342.6h0M294.6 341.9h0M292.9 341.7h0M293.4 339.2h0M291.5 338.6h0M289.5 339.2h0M289.5 337.9h0M289.4 337.3h0M288.0 335.3h0M287.1 334.9h0M286.0 335.9h0M285.7 335.2h0M285.6 334.3h0M285.8 333.6h0M284.6 334.3h0M283.3 333.4h0M283.2 332.0h0M282.4 331.9h0M282.6 330.7h0M281.6 330.9h0M281.2 330.0h0M279.4 331.4h0M278.9 330.8h0M278.4 330.6h0M278.5 329.8h0M278.3 328.5h0M277.2 328.3h0M276.7 327.0h0M275.4 327.4h0M275.3 325.4h0M275.1 325.3h0M273.2 326.4h0M273.2 325.9h0M272.7 325.0h0M273.3 323.9h0M272.2 323.0h0M272.1 322.1h0M269.7 323.6h0M270.5 322.3h0M269.9 322.1h0M269.7 322.2h0M269.1 321.5h0M268.0 322.2h0M268.4 320.5h0M267.6 320.6h0M266.8 320.9h0M268.0 318.8h0M266.6 320.1h0M266.6 319.1h0M265.5 319.2h0M264.3 319.1h0M264.2 317.9h0M264.4 317.1h0M263.4 317.8h0M264.0 316.6h0M264.2 315.6h0M263.2 315.1h0M261.5 315.4h0M260.9 315.5h0M261.5 314.0h0M259.5 315.1h0M259.6 314.7h0M259.8 311.9h0M258.9 312.4h0M258.7 312.1h0M257.1 311.7h0M257.8 310.2h0M257.6 310.0h0M256.3 310.9h0M256.4 309.7h0M254.7 309.7h0M254.8 308.8h0M254.7 307.7h0M254.5 307.6h0M252.9 308.1h0M252.6 307.1h0M252.6 305.8h0M252.0 305.9h0M251.8 305.3h0M251.1 305.6h0M250.1 305.7h0M249.0 306.0h0M248.3 305.3h0M247.8 305.5h0M247.2 304.5h0M247.2 304.2h0M247.6 302.6h0M245.7 303.9h0M246.2 301.8h0M244.4 302.9h0M246.0 300.6h0M244.5 301.7h0M244.5 300.8h0M244.7 299.5h0M243.8 300.7h0M243.6 300.2h0M243.2 299.9h0M243.2 299.3h0M242.1 299.8h0M243.1 298.2h0M242.5 298.1h0M241.7 298.6h0M242.1 297.6h0M240.7 298.2h0M239.9 298.1h0M239.7 297.4h0M240.0 296.9h0M238.6 298.3h0M239.1 297.2h0M239.4 296.5h0M237.7 297.1h0M238.4 295.9h0M237.0 296.6h0M236.9 294.9h0M236.5 294.9h0M236.2 294.1h0M235.2 294.7h0M234.4 295.2h0M234.3 295.1h0M235.9 292.6h0M233.9 294.7h0M234.2 294.2h0M233.2 294.2h0M234.8 291.7h0M234.2 292.1h0M233.9 291.7h0M232.1 292.9h0M232.8 290.6h0M231.6 292.0h0M232.5 290.2h0M231.4 291.0h0M230.4 292.1h0M230.9 290.6h0M230.0 290.9h0M231.3 289.0h0M229.3 290.9h0M229.8 290.0h0M229.2 289.5h0M228.4 289.7h0M228.4 289.5h0M228.5 288.7h0M228.5 288.1h0M227.8 288.7h0M227.6 288.3h0M227.4 287.7h0M226.4 288.2h0M226.7 287.5h0M226.5 287.0h0M227.0 286.1h0M226.5 286.1h0M226.0 285.9h0M226.0 285.4h0M224.3 286.3h0M225.4 284.6h0M223.9 285.4h0M223.9 285.1h0M223.6 285.3h0M224.3 284.4h0M223.4 285.4h0M223.8 284.0h0M222.7 284.4h0M222.5 284.5h0M223.1 283.7h0M221.9 284.5h0M222.9 282.5h0M221.5 283.9h0M221.5 283.6h0M222.0 281.7h0M220.0 283.7h0M221.3 281.5h0M220.6 282.1h0M220.4 281.9h0M220.4 281.7h0M219.4 282.4h0M220.9 280.4h0M220.1 281.0h0M220.0 280.7h0M219.9 280.5h0M219.9 280.2h0M219.3 280.6h0M218.2 281.5h0M217.7 281.5h0M217.4 281.4h0M217.7 280.4h0M218.6 279.0h0M216.5 280.5h0M217.1 279.6h0M217.5 278.7h0M216.4 279.1h0M216.3 278.8h0M215.6 279.4h0M216.5 278.4h0M215.8 278.9h0M215.5 278.8h0M215.5 278.3h0M216.0 277.6h0M216.4 277.1h0M214.8 278.8h0M215.7 277.2h0M214.5 278.5h0M214.1 278.6h0M214.4 277.7h0M214.4 276.7h0M213.7 276.2h0M214.0 275.8h0M212.4 277.0h0M214.4 274.7h0M213.8 274.9h0M213.4 274.8h0M211.7 276.4h0M213.0 274.7h0M212.1 275.4h0M211.8 275.0h0M212.0 274.5h0M210.4 275.1h0M211.7 272.5h0M211.6 272.5h0M211.3 272.5h0M211.6 271.8h0M209.0 273.8h0M209.7 272.6h0M209.6 272.6h0M208.8 273.2h0M210.2 271.4h0M210.6 270.6h0M208.0 272.2h0M209.2 270.7h0M208.6 270.9h0M208.5 270.6h0M208.3 270.5h0M208.6 269.9h0M207.5 270.8h0M207.5 270.5h0M208.9 268.8h0M207.5 269.8h0M207.4 269.8h0M206.0 270.6h0M207.4 269.0h0M207.4 268.7h0M207.1 268.9h0M208.0 267.8h0M205.1 269.8h0M207.1 267.9h0M205.0 269.6h0M205.3 269.3h0M204.8 269.4h0M206.7 267.6h0M205.7 268.2h0M205.3 268.3h0M205.5 267.7h0M204.2 268.7h0M204.7 268.0h0M205.2 267.1h0M204.5 267.7h0M204.9 267.2h0M203.5 267.9h0M204.6 266.5h0M204.0 266.6h0M204.4 266.2h0M205.5 265.1h0M204.1 266.1h0M203.5 266.6h0M204.1 265.5h0M202.7 266.6h0M205.0 264.4h0M203.4 265.4h0M203.3 265.3h0M203.6 264.8h0M202.0 266.1h0M203.0 265.0h0M202.5 264.9h0M204.1 263.4h0M203.9 263.4h0M203.8 263.0h0M202.3 264.1h0M202.2 263.8h0M202.9 262.9h0M201.1 264.0h0M200.8 264.0h0M202.8 261.9h0M201.7 262.6h0M201.4 262.2h0M199.5 263.3h0M200.3 262.6h0M200.1 262.3h0M199.7 262.3h0M200.4 261.2h0M199.0 261.9h0M198.7 262.0h0M201.3 259.9h0M200.1 260.5h0M198.5 261.4h0M201.0 259.5h0M199.8 259.8h0M199.5 259.9h0M197.4 260.6h0M200.1 258.3h0M198.7 259.1h0M199.7 258.3h0M200.0 257.9h0M197.0 259.8h0M199.8 257.6h0M198.9 258.0h0M198.0 258.1h0M196.3 259.1h0M199.3 257.0h0M197.9 257.5h0M198.1 257.2h0M196.1 258.1h0M197.8 256.6h0M197.7 256.4h0M198.7 255.9h0M195.9 256.9h0M195.2 257.0h0M196.1 256.4h0M195.6 256.4h0M197.1 256.0h0M196.6 255.8h0M197.0 255.7h0M198.3 255.4h0" fill="none" stroke="#000" stroke-width="4.3" stroke-linecap="round"/>
<path d="M1171.5 241.2h0M1171.9 240.2h0M1171.2 236.2h0M1171.5 232.1h0M1174.4 197.8h0M1178.8 163.4h0M1178.2 162.0h0M1180.6 155.0h0M1180.3 154.1h0M1180.7 149.0h0M1181.0 145.7h0M1182.5 145.1h0M1183.1 140.9h0M1184.2 133.6h0M1184.7 132.0h0M1187.3 123.4h0M1187.6 122.6h0M1189.0 118.3h0M1190.4 114.1h0M1191.5 111.0h0M1193.8 104.5h0M1195.3 103.7h0M1195.8 100.5h0M1196.6 98.4h0M1197.9 97.2h0M1198.0 95.5h0M1198.8 95.4h0M1199.1 94.6h0M1201.2 92.1h0M1203.1 87.7h0M1219.5 74.1h0M1225.8 73.2h0M1227.1 72.1h0M1233.9 72.0h0M1237.0 71.6h0M1238.3 71.1h0M1241.6 71.9h0M1250.3 73.3h0M1252.9 74.2h0M1257.2 76.4h0M1260.1 77.7h0M1263.1 78.3h0M1270.7 83.7h0M1277.2 87.8h0M1277.6 88.4h0M1280.9 89.3h0M1284.8 93.5h0M1286.8 94.4h0M1290.7 97.9h0M1292.7 100.8h0M1296.2 103.4h0M1296.2 103.8h0M1301.1 109.0h0M1302.6 110.7h0M1304.8 111.6h0M1306.5 113.5h0M1306.8 114.8h0M1307.2 115.4h0M1308.3 115.6h0M1309.5 117.9h0M1313.4 121.5h0M1314.8 123.6h0M1318.9 128.7h0M1319.7 130.0h0M1322.8 134.2h0M1324.6 135.6h0M1326.3 138.2h0M1330.6 142.9h0M1334.8 149.5h0M1335.6 150.4h0M1337.5 151.9h0M1337.7 153.7h0M1339.0 154.2h0M1340.9 156.5h0M1342.5 158.4h0M1342.7 159.4h0M1343.5 160.2h0M1345.2 161.8h0M1347.1 165.1h0M1348.9 167.9h0M1349.2 168.5h0M1349.7 168.5h0M1355.6 175.4h0M1355.9 175.4h0M1355.8 176.3h0M1356.6 177.9h0M1357.9 179.6h0M1359.1 179.9h0M1359.8 180.2h0M1360.7 181.4h0M1361.5 183.5h0M1362.3 184.8h0M1363.5 185.2h0M1364.5 186.2h0M1365.1 186.4h0M1366.9 190.8h0M1368.2 190.6h0M1367.9 191.9h0M1368.5 192.0h0M1369.9 192.5h0M1370.9 194.2h0M1370.8 195.8h0M1371.8 196.4h0M1373.4 198.3h0M1374.0 200.1h0M1375.3 200.8h0M1376.0 201.8h0M1376.1 201.9h0M1376.4 202.3h0M1376.5 203.4h0M1377.8 203.6h0M1378.3 205.7h0M1379.2 207.1h0M1380.6 207.3h0M1380.5 207.9h0M1382.2 208.8h0M1382.1 209.6h0M1381.8 210.3h0M1385.5 214.9h0M1387.4 216.1h0M1387.6 217.2h0M1389.0 218.9h0M1390.5 220.6h0M1391.0 221.2h0M1391.0 222.4h0M1394.1 223.6h0M1394.7 225.3h0M1395.7 228.1h0M1397.0 228.7h0M1397.7 230.1h0M1397.9 230.4h0M1399.2 231.5h0M1399.3 231.9h0M1400.4 232.5h0M1400.9 233.9h0M1400.7 234.5h0M1401.0 235.1h0M1401.6 235.4h0M1402.3 235.4h0M1402.5 235.5h0M1403.5 235.4h0M1403.6 237.2h0M1404.4 237.3h0M1404.6 237.8h0M1404.6 238.3h0M1404.8 239.1h0M1405.4 239.9h0M1405.9 240.3h0M1407.2 240.7h0M1406.9 241.1h0M1406.6 242.1h0M1407.2 241.9h0M1407.2 242.6h0M1407.6 242.6h0M1407.0 243.8h0M1407.1 243.9h0M1407.5 244.5h0M1409.4 244.4h0M1409.0 245.6h0M1411.1 245.3h0M1410.3 247.1h0M1410.6 247.1h0M1411.3 246.8h0M1410.1 248.1h0M1411.4 247.8h0M1412.9 247.2h0M1411.0 249.3h0M1412.0 248.6h0M1411.7 249.2h0M1412.9 248.5h0M1413.1 248.6h0M1413.5 248.4h0M1413.6 248.7h0M1412.5 250.1h0M1412.7 250.2h0M1414.6 249.0h0M1413.4 250.2h0M1413.8 250.7h0M1414.8 250.6h0M1414.0 251.5h0M1415.1 250.9h0M1413.9 252.5h0M1415.0 251.7h0M1414.7 252.1h0M1416.4 251.1h0M1415.6 252.0h0M1415.3 252.5h0M1416.3 252.6h0M1416.2 253.2h0M1417.0 252.8h0M1415.6 254.4h0M1417.5 253.3h0M1416.9 253.8h0M1415.5 255.4h0M1416.1 255.7h0M1417.4 255.0h0M1418.8 254.3h0M1419.4 254.6h0M1417.7 256.2h0M1418.4 256.7h0M1419.3 256.9h0M1419.3 256.9h0M1417.6 258.4h0M1418.8 258.5h0M1420.1 258.6h0M1420.5 258.7h0M1420.6 258.6h0M1420.4 259.6h0M1421.2 259.5h0M1421.1 260.1h0M1421.6 259.8h0M1420.8 260.7h0M1421.6 261.0h0M1423.0 260.5h0M1420.9 262.3h0M1422.3 261.9h0M1423.0 261.6h0M1424.0 261.8h0M1423.1 262.6h0M1423.8 262.4h0M1422.3 263.9h0M1423.6 264.0h0M1424.7 263.7h0M1425.4 263.3h0M1423.9 264.7h0M1425.8 263.8h0M1424.7 265.3h0M1425.1 265.3h0M1426.5 264.8h0M1426.5 266.6h0M1425.9 268.3h0M1428.1 267.8h0M1429.0 268.2h0M1429.5 268.9h0M1429.0 270.1h0M1429.1 270.7h0M1429.6 272.0h0M1430.0 271.8h0M1431.6 272.4h0M1431.4 272.8h0M1431.6 273.3h0M1431.8 273.6h0M1432.8 273.7h0M1432.8 275.8h0M1432.9 276.4h0M1433.9 276.4h0M1434.9 278.0h0M1436.3 278.3h0M1436.7 280.4h0M1437.7 280.6h0M1438.9 282.2h0M1438.4 283.1h0M1438.7 283.0h0M1439.4 283.2h0M1440.9 284.2h0M1440.8 285.5h0M1440.3 286.3h0M1441.1 286.2h0M1441.4 286.6h0M1441.5 287.6h0M1442.7 289.4h0M1443.5 289.5h0M1443.9 290.5h0M1445.4 291.7h0M1445.9 292.6h0M1446.7 293.5h0M1447.1 294.7h0M1449.5 296.4h0M1449.5 297.1h0M1449.7 297.3h0M1450.6 298.2h0M1450.9 298.1h0M1450.6 299.0h0M1451.5 299.1h0M1452.3 299.1h0M1451.7 300.2h0M1453.3 300.5h0M1453.3 302.4h0M1454.5 302.0h0M1454.9 303.8h0M1454.7 304.8h0M1455.5 304.3h0M1455.5 305.4h0M1456.6 305.5h0M1457.5 306.4h0M1458.0 307.4h0M1458.0 308.5h0M1457.9 308.7h0M1458.3 309.3h0M1459.3 310.1h0M1460.6 310.9h0M1461.5 310.8h0M1462.3 312.5h0M1464.0 316.4h0M1466.0 316.4h0M1466.0 318.1h0M1466.9 319.2h0M1468.2 319.1h0M1468.5 321.1h0M1470.0 322.2h0M1470.7 323.6h0M1471.3 324.1h0M1472.5 325.4h0M1474.1 326.7h0M1475.2 327.6h0M1476.8 331.9h0M1480.8 334.7h0M1482.3 336.9h0M1483.0 337.6h0M1484.5 339.3h0M1485.8 340.5h0M1486.2 342.0h0M1487.3 342.8h0M1488.0 343.2h0M1488.6 343.7h0M1489.9 346.0h0M1491.2 346.4h0M1491.5 347.8h0M1492.8 349.7h0M1493.0 349.8h0M1493.7 350.2h0M1494.6 349.6h0M1495.0 351.6h0M1496.0 352.4h0M1496.9 354.1h0M1498.4 354.3h0M1500.1 356.2h0M1501.2 358.6h0M1502.2 358.1h0M1501.7 358.9h0M1503.1 359.8h0M1506.1 361.4h0M1506.0 362.1h0M1507.2 363.2h0M1507.7 363.1h0M1508.0 363.3h0M1507.8 364.2h0M1509.8 365.3h0M1510.1 365.9h0M1511.2 366.8h0M1512.1 368.0h0M1513.8 370.1h0M1515.1 371.6h0M1515.9 372.1h0M1517.6 373.0h0M1519.1 374.5h0M1520.2 376.0h0M1520.5 376.7h0M1521.3 376.5h0M1523.9 377.9h0M1523.8 378.9h0M1525.0 380.1h0M1526.9 381.0h0M1527.9 382.9h0M1528.6 382.3h0M1529.4 383.3h0M1529.4 383.5h0M1529.5 384.3h0M1531.3 384.1h0M1532.2 385.9h0M1534.5 387.8h0M1539.1 390.7h0M1540.6 392.5h0M1541.3 392.0h0M1542.2 392.3h0M1542.9 392.8h0M1543.6 393.6h0M1545.9 395.0h0M1547.0 396.7h0M1547.5 396.7h0M1548.6 396.6h0M1548.6 398.3h0M1550.7 399.0h0M1551.4 398.4h0M1552.7 399.2h0M1553.4 400.6h0M1554.1 401.8h0M1556.7 402.4h0M1558.5 404.2h0M1561.7 406.2h0M1562.9 406.4h0M1567.3 408.0h0M1570.7 409.0h0M1572.0 409.9h0M1577.1 412.9h0M1578.2 412.6h0M1579.3 412.4h0M1580.6 413.1h0M1581.9 413.6h0M1583.9 414.8h0M1584.6 414.1h0M1584.8 415.2h0M1586.1 414.8h0M1587.4 415.2h0M1589.0 414.7h0M1590.1 415.7h0M1591.7 415.8h0M1592.7 416.2h0M1595.2 415.7h0M1596.4 416.3h0M1598.8 415.5h0M1599.8 415.8h0M1601.4 417.0h0M1604.6 416.0h0M1607.5 415.6h0M1609.3 416.3h0M1611.8 415.4h0M1613.4 415.9h0M1614.7 415.0h0M1615.7 415.1h0M1616.2 414.5h0M1617.9 414.8h0M1618.9 413.9h0M1622.2 413.6h0M1625.1 411.4h0M1630.0 409.7h0M1632.5 408.5h0M1633.0 407.1h0M1634.5 406.4h0M1635.8 405.4h0M1638.1 403.3h0M1640.0 402.8h0M1641.6 400.3h0M1644.0 398.2h0M1644.8 397.5h0M1648.8 394.3h0M1649.0 393.8h0M1652.6 390.4h0M1654.4 388.1h0M1656.8 383.7h0M1657.3 382.0h0M1660.8 377.9h0M1660.4 377.1h0M1662.3 374.3h0M1663.5 372.3h0M1665.3 370.5h0M1666.1 368.7h0M1668.3 363.7h0M1669.2 359.6h0M1670.2 359.0h0M1671.3 356.5h0M1671.6 352.8h0M1672.6 351.6h0M1673.4 347.9h0M1674.6 344.5h0M1675.7 342.1h0M1676.2 340.4h0M1676.5 337.9h0M1677.2 336.9h0M1677.6 333.2h0M1679.3 328.9h0M1680.6 324.1h0M1680.8 321.9h0M1680.4 321.3h0M1681.7 317.2h0M1682.4 316.5h0M1683.7 311.6h0M1684.0 310.0h0M1684.5 307.3h0M1685.1 304.7h0M1684.8 300.4h0M1686.0 297.3h0M1685.3 295.1h0M1687.1 289.4h0M1687.0 288.1h0M1686.3 285.9h0M1687.5 281.9h0M1687.2 275.4h0M1688.4 268.9h0M1687.8 265.8h0M1687.8 260.6h0M1688.9 256.7h0M1688.4 246.1h0M1688.2 245.8h0M1687.6 235.3h0M1688.0 234.8h0M1687.2 230.0h0M1687.8 228.2h0M1686.3 227.4h0M1687.1 225.0h0M1685.7 218.9h0M1686.0 216.5h0M1686.2 216.1h0M1686.3 214.6h0M1685.8 212.7h0M1685.9 212.0h0M1684.5 210.0h0M1684.6 206.7h0M1683.4 204.6h0M1684.1 203.0h0M1682.7 200.4h0M1683.8 199.5h0M1683.0 197.6h0M1682.6 196.9h0M1682.3 196.3h0M1682.4 194.7h0M1681.0 190.1h0M1680.1 187.7h0M1680.4 185.2h0M1679.7 184.9h0M1678.5 177.7h0M1677.1 175.6h0M1676.7 174.7h0M1677.8 173.4h0M1676.8 171.6h0M1676.4 169.4h0M1675.2 168.0h0M1674.4 165.3h0M1674.2 164.6h0M1673.9 161.5h0M1673.2 160.7h0M1672.6 159.9h0M1672.1 158.9h0M1670.5 154.5h0M1669.5 150.8h0M1668.8 150.4h0M1668.3 149.1h0M1668.3 147.5h0M1666.7 144.4h0M1666.3 143.7h0M1665.3 140.7h0M1662.9 137.7h0M1661.1 135.5h0M1659.5 133.0h0M1659.0 130.8h0M1657.7 128.4h0M1657.7 127.7h0M1652.2 122.1h0M1649.7 119.0h0M1645.3 113.3h0M1644.2 112.3h0M1641.8 110.9h0M1641.3 109.7h0M1641.5 109.3h0M1640.6 109.2h0M1640.6 108.0h0M1637.8 106.3h0M1635.6 105.7h0M1634.6 104.7h0M1631.9 103.6h0M1631.0 101.4h0M1627.9 100.8h0M1627.2 100.5h0M1626.4 99.5h0M1623.5 98.8h0M1622.2 98.5h0M1621.6 97.9h0M1615.0 95.4h0M1612.1 94.9h0M1610.3 95.8h0M1609.4 95.8h0M1605.0 94.4h0M1604.4 94.8h0M1601.1 94.9h0M1594.5 94.5h0M1593.1 95.0h0M1590.9 95.8h0M1589.1 95.5h0M1587.4 96.5h0M1585.4 96.9h0M1584.4 96.0h0M1581.8 97.6h0M1580.2 97.7h0M1578.5 98.6h0M1576.6 99.2h0M1575.4 100.1h0M1572.8 101.1h0M1571.5 100.3h0M1570.8 100.4h0M1567.3 102.4h0M1563.9 104.0h0M1563.9 104.7h0M1562.5 105.1h0M1560.5 105.3h0M1559.6 105.7h0M1558.6 106.7h0M1557.6 107.5h0M1554.2 109.1h0M1553.3 110.1h0M1552.3 111.3h0M1551.1 112.1h0M1548.2 113.7h0M1548.1 113.9h0M1548.0 114.6h0M1547.7 114.8h0M1545.5 114.9h0M1544.0 115.9h0M1541.4 117.9h0M1540.6 119.1h0M1539.1 120.5h0M1537.4 121.4h0M1535.5 122.7h0M1535.1 123.6h0M1532.9 124.3h0M1530.9 127.1h0M1530.0 128.4h0M1525.8 130.5h0M1524.6 131.4h0M1524.7 132.1h0M1523.6 132.2h0M1522.8 132.8h0M1523.5 134.0h0M1520.1 135.7h0M1519.7 137.1h0M1519.1 136.4h0M1518.5 137.3h0M1518.2 137.2h0M1515.5 140.4h0M1513.9 142.1h0M1512.3 142.9h0M1510.2 144.1h0M1510.0 145.0h0M1507.5 148.5h0M1506.4 148.8h0M1504.5 150.8h0M1502.4 151.9h0M1502.1 153.0h0M1501.3 154.1h0M1499.8 155.2h0M1499.4 156.3h0M1498.0 156.9h0M1497.8 158.2h0M1494.2 161.5h0M1491.3 164.0h0M1491.0 165.6h0M1488.7 168.1h0M1487.0 169.5h0M1485.9 169.0h0M1485.1 170.3h0M1484.3 171.8h0M1483.0 172.5h0M1482.5 173.1h0M1482.9 173.8h0M1482.9 174.3h0M1481.1 174.5h0M1479.7 177.5h0M1479.1 177.1h0M1478.2 179.9h0M1476.6 180.6h0M1476.3 181.8h0M1475.2 181.5h0M1474.2 182.6h0M1473.5 183.8h0M1471.9 185.3h0M1468.9 189.9h0M1467.6 190.7h0M1467.0 191.2h0M1467.0 192.4h0M1466.2 192.2h0M1465.5 193.3h0M1463.6 195.5h0M1462.9 196.9h0M1462.4 197.3h0M1460.7 199.0h0M1460.6 199.3h0M1460.2 199.5h0M1459.8 201.5h0M1458.5 201.3h0M1458.4 202.8h0M1457.0 203.0h0M1457.9 204.0h0M1456.8 204.7h0M1456.1 204.8h0M1454.9 206.2h0M1454.7 207.2h0M1454.2 208.2h0M1452.9 208.5h0M1452.5 208.7h0M1452.1 210.9h0M1451.9 211.4h0M1450.1 213.1h0M1448.9 214.1h0M1448.3 216.2h0M1447.8 216.4h0M1446.4 216.7h0M1445.8 218.7h0M1445.3 219.5h0M1443.4 219.8h0M1443.3 220.3h0M1442.9 220.4h0M1443.2 221.4h0M1442.8 222.1h0M1442.5 222.7h0M1442.3 224.0h0M1442.0 224.5h0M1441.1 224.3h0M1441.3 224.6h0M1440.4 224.4h0M1439.5 225.2h0M1440.0 227.0h0M1439.4 227.7h0M1437.4 228.6h0M1436.4 228.8h0M1436.2 229.0h0M1436.9 230.3h0M1436.3 230.3h0M1434.7 230.9h0M1435.3 232.5h0M1434.5 233.7h0M1432.6 233.6h0M1433.2 235.3h0M1433.3 235.7h0M1431.1 235.4h0M1431.8 236.7h0M1431.6 236.9h0M1430.3 237.4h0M1429.5 237.5h0M1429.4 238.3h0M1429.7 238.7h0M1429.1 239.2h0M1429.0 239.3h0M1429.1 239.4h0M1430.0 240.6h0M1428.5 240.2h0M1429.4 241.2h0M1428.8 241.1h0M1427.9 241.2h0M1427.9 241.5h0M1427.3 241.6h0M1427.5 241.9h0M1427.0 241.8h0M1426.2 241.6h0M1427.4 243.5h0M1425.6 242.8h0M1424.3 244.0h0M1425.2 245.5h0M1425.1 245.6h0M1424.6 245.8h0M1424.1 245.7h0M1424.6 246.8h0M1424.2 246.8h0M1423.6 247.1h0M1423.3 247.3h0M1421.8 247.1h0M1423.1 248.5h0M1421.0 249.0h0M1420.7 249.4h0M1421.0 250.1h0M1420.6 250.7h0M1420.9 252.0h0M1420.8 252.0h0M1419.4 251.8h0M1419.3 252.1h0M1419.7 252.6h0M1418.4 251.6h0M1418.9 252.9h0M1418.5 253.6h0M1418.4 254.1h0M1417.1 253.4h0M1417.2 254.2h0M1417.2 254.7h0M1418.6 256.3h0M1415.7 254.5h0M1418.1 257.1h0M1416.2 256.0h0M1417.7 257.3h0M1417.8 257.8h0M1417.3 258.6h0M1415.4 257.7h0M1415.2 257.6h0M1415.7 258.3h0M1415.7 258.5h0M1416.0 259.8h0M1414.6 259.2h0M1414.7 259.5h0M1415.6 260.5h0M1414.7 259.9h0M1414.2 260.3h0M1414.7 261.1h0M1412.5 259.9h0M1414.5 261.6h0M1411.8 260.3h0M1411.9 260.8h0M1413.0 262.0h0M1411.3 261.0h0M1411.4 261.5h0M1411.3 261.5h0M1412.0 262.3h0M1412.5 263.6h0M1412.7 264.0h0M1411.3 263.1h0M1410.8 264.4h0M1410.8 265.1h0M1409.2 264.1h0M1409.2 265.6h0M1410.2 267.1h0M1408.4 267.5h0M1407.6 267.7h0M1408.8 268.6h0M1407.5 268.4h0M1407.4 269.2h0M1408.1 269.8h0M1406.8 268.9h0M1406.2 269.4h0M1407.1 271.0h0M1405.8 270.3h0M1406.1 271.2h0M1405.6 271.6h0M1405.9 272.6h0M1405.5 272.5h0M1403.8 271.6h0M1404.2 272.1h0M1404.1 273.3h0M1403.3 274.0h0M1403.5 274.9h0M1402.4 275.5h0M1402.4 276.4h0M1401.4 276.3h0M1401.7 277.6h0M1400.6 277.5h0M1399.9 277.8h0M1400.1 278.8h0M1399.5 279.1h0M1398.4 280.4h0M1398.8 280.7h0M1398.6 281.9h0M1397.1 281.3h0M1396.2 283.5h0M1394.5 286.1h0M1393.6 285.8h0M1394.3 287.0h0M1393.9 287.1h0M1393.9 287.3h0M1393.7 287.9h0M1392.8 288.2h0M1392.4 289.2h0M1390.9 289.2h0M1391.2 290.9h0M1389.4 291.4h0M1389.8 292.9h0M1389.0 293.4h0M1387.9 294.5h0M1387.0 296.6h0M1385.1 297.7h0M1384.5 299.6h0M1383.6 300.9h0M1382.1 301.5h0M1380.7 304.7h0M1379.1 305.6h0M1378.5 306.0h0M1377.7 307.3h0M1376.1 308.8h0M1375.7 310.9h0M1374.0 311.7h0M1374.1 313.1h0M1372.6 315.9h0M1371.0 316.8h0M1366.7 321.0h0M1366.9 322.8h0M1363.6 325.0h0M1362.7 328.5h0M1360.3 329.7h0M1359.9 330.6h0M1358.7 332.9h0M1358.8 333.6h0M1357.5 333.5h0M1356.1 335.2h0M1356.0 335.5h0M1354.0 337.6h0M1353.8 339.4h0M1350.5 341.7h0M1350.5 342.2h0M1350.3 343.7h0M1348.1 344.7h0M1346.5 347.8h0M1344.6 349.8h0M1342.7 351.9h0M1341.6 354.6h0M1341.0 355.4h0M1336.9 359.9h0M1334.7 363.2h0M1333.4 364.2h0M1328.0 369.4h0M1327.5 371.9h0M1326.2 372.5h0M1326.4 372.8h0M1323.7 375.0h0M1321.7 378.9h0M1318.9 382.1h0M1317.3 383.3h0M1313.3 386.5h0M1311.6 390.4h0M1309.4 393.3h0M1308.4 394.1h0M1305.8 395.6h0M1303.6 397.9h0M1302.0 400.4h0M1299.6 402.7h0M1299.5 404.0h0M1295.1 407.2h0M1291.2 411.4h0M1290.7 412.1h0M1289.6 412.0h0M1287.8 413.7h0M1288.2 414.3h0M1283.7 417.8h0M1281.5 420.7h0M1280.1 421.6h0M1273.7 425.0h0M1265.0 432.2h0M1264.7 432.3h0M1261.0 433.2h0M1257.2 436.5h0M1249.1 439.3h0M1245.0 439.6h0M1240.4 440.8h0M1236.7 441.1h0M1235.1 441.1h0M1225.2 438.0h0M1217.7 434.9h0M1212.9 430.7h0M1206.8 425.4h0M1205.6 424.0h0M1202.4 419.4h0M1199.6 416.8h0M1198.1 415.0h0M1196.2 411.0h0M1193.4 405.0h0M1192.0 402.5h0M1190.8 401.3h0M1189.8 395.7h0M1187.3 391.4h0M1186.5 388.9h0M1187.3 387.5h0M1187.2 385.9h0M1185.0 381.3h0M1176.1 334.1h0M1176.3 328.6h0M1175.3 321.9h0M1174.6 318.7h0M1173.2 304.1h0M1172.9 298.9h0M1172.0 295.2h0M1172.0 285.7h0M1171.7 278.0h0M1171.8 268.0h0M1171.4 266.6h0" fill="none" stroke="#000" stroke-width="4.3" stroke-linecap="round"/>
<path d="M187.9 913.0h0M190.3 911.5h0M187.7 904.2h0M191.4 893.8h0M189.3 893.4h0M190.0 891.7h0M188.4 886.8h0M191.1 885.7h0M186.9 882.7h0M189.3 880.9h0M191.3 880.1h0M191.6 861.5h0M189.0 860.1h0M189.0 857.9h0M192.9 854.0h0M194.5 850.3h0M192.6 845.9h0M194.4 842.8h0M195.4 836.2h0M197.0 828.6h0M196.0 823.4h0M196.5 821.4h0M196.8 813.9h0M195.8 813.5h0M200.3 810.3h0M200.8 806.6h0M200.3 805.1h0M201.0 802.1h0M202.6 798.6h0M203.2 797.4h0M203.1 795.5h0M205.2 789.6h0M205.7 785.7h0M205.6 784.8h0M208.0 777.9h0M208.0 776.5h0M208.9 776.2h0M208.4 774.2h0M211.7 768.2h0M211.7 766.5h0M216.7 757.3h0M218.8 752.7h0M219.7 752.9h0M219.8 751.2h0M220.6 750.4h0M221.8 747.4h0M228.3 741.9h0M230.0 740.9h0M230.0 740.5h0M237.6 735.9h0M238.9 735.1h0M242.6 732.6h0M248.5 732.3h0M255.2 731.1h0M261.7 732.4h0M263.0 732.4h0M267.2 733.1h0M272.1 734.0h0M274.2 736.0h0M277.4 737.7h0M280.4 738.9h0M287.6 741.5h0M287.8 742.6h0M293.3 744.6h0M296.6 748.0h0M297.8 748.2h0M299.5 749.5h0M304.7 754.9h0M314.2 763.2h0M317.3 765.2h0M318.7 767.9h0M320.2 769.6h0M322.2 770.7h0M324.7 772.5h0M325.5 773.2h0M326.7 774.5h0M328.5 778.2h0M330.5 779.7h0M331.0 781.1h0M331.9 780.9h0M332.9 782.1h0M334.4 783.6h0M336.4 786.7h0M337.2 787.9h0M339.4 789.5h0M341.1 792.4h0M342.7 794.8h0M343.2 796.0h0M345.9 799.4h0M346.8 800.6h0M348.4 801.5h0M350.8 804.4h0M351.1 806.4h0M351.9 807.3h0M352.2 807.6h0M353.8 807.7h0M353.6 808.7h0M359.2 815.7h0M359.5 817.0h0M361.4 818.5h0M363.3 821.3h0M364.3 823.5h0M366.5 824.7h0M367.5 826.7h0M368.8 827.9h0M369.2 829.0h0M370.5 830.3h0M372.2 832.2h0M377.1 838.5h0M379.7 840.8h0M378.7 841.9h0M380.6 844.4h0M383.0 847.0h0M384.0 848.1h0M388.5 852.1h0M388.5 852.7h0M388.7 853.9h0M389.6 855.3h0M390.8 855.9h0M390.6 856.6h0M392.9 858.0h0M393.7 859.6h0M394.6 861.0h0M394.4 862.3h0M395.1 862.4h0M396.7 862.6h0M395.7 863.9h0M397.3 864.0h0M399.3 866.4h0M399.7 866.5h0M400.4 868.4h0M402.2 871.3h0M403.3 871.3h0M404.4 873.3h0M404.7 873.7h0M405.1 874.7h0M405.9 875.2h0M407.0 875.9h0M407.7 878.9h0M408.0 879.3h0M408.5 879.4h0M409.0 879.8h0M410.2 880.0h0M410.6 881.8h0M411.0 883.0h0M410.6 883.3h0M412.7 883.1h0M412.7 883.9h0M412.9 884.6h0M412.7 885.6h0M413.7 887.3h0M414.7 888.0h0M415.8 887.6h0M416.8 888.3h0M416.5 889.8h0M417.1 890.4h0M417.3 891.4h0M417.4 892.2h0M418.4 891.9h0M419.4 892.1h0M419.1 892.9h0M419.5 893.7h0M420.6 893.5h0M420.3 894.1h0M421.5 894.4h0M421.4 894.7h0M420.2 895.9h0M421.5 895.9h0M421.4 897.6h0M423.9 897.5h0M423.3 898.1h0M424.2 898.7h0M424.0 900.0h0M423.6 900.6h0M425.1 900.5h0M426.2 900.6h0M426.6 901.0h0M425.5 902.9h0M426.1 902.7h0M427.6 902.2h0M427.0 902.9h0M427.2 903.4h0M428.3 902.7h0M428.5 902.9h0M428.1 903.6h0M428.5 904.5h0M427.6 905.9h0M429.3 905.0h0M428.8 906.4h0M429.6 906.1h0M429.3 906.8h0M430.5 907.0h0M429.9 907.6h0M431.1 907.3h0M430.6 907.8h0M431.8 906.9h0M430.6 908.9h0M431.4 909.3h0M432.9 908.4h0M432.8 910.0h0M432.6 910.9h0M433.7 910.6h0M433.8 911.4h0M435.1 910.8h0M433.6 913.1h0M434.4 912.5h0M435.7 911.9h0M435.9 912.1h0M435.9 912.3h0M435.3 913.1h0M434.7 913.6h0M435.8 914.0h0M437.0 914.8h0M435.0 916.6h0M437.4 915.3h0M437.7 915.2h0M437.4 915.7h0M437.8 915.7h0M436.4 917.4h0M436.4 917.4h0M437.7 916.8h0M439.2 915.9h0M438.2 917.0h0M438.5 917.2h0M437.7 918.1h0M438.0 918.0h0M438.9 918.0h0M439.0 918.5h0M439.8 919.0h0M439.3 920.0h0M439.1 921.2h0M439.7 921.5h0M440.7 921.0h0M440.5 921.7h0M441.9 921.7h0M441.9 922.0h0M441.9 922.4h0M441.2 923.9h0M442.9 923.6h0M443.3 924.1h0M443.3 924.7h0M443.4 924.9h0M443.3 925.4h0M444.5 925.3h0M443.7 926.5h0M444.0 926.9h0M446.0 926.3h0M445.7 927.0h0M444.8 928.2h0M444.8 928.2h0M446.1 928.0h0M446.5 928.6h0M446.6 928.9h0M447.1 928.8h0M448.1 928.5h0M446.4 930.0h0M448.5 929.8h0M449.1 929.8h0M449.6 930.5h0M450.0 931.0h0M449.0 932.2h0M450.1 932.6h0M450.2 933.5h0M450.7 934.1h0M452.0 934.1h0M452.4 934.3h0M451.5 935.4h0M452.1 935.9h0M452.4 936.2h0M453.5 935.7h0M452.8 936.7h0M452.8 937.9h0M454.1 939.1h0M455.5 939.3h0M456.2 940.0h0M455.5 940.7h0M456.4 940.3h0M457.7 941.6h0M457.6 942.1h0M457.8 942.5h0M457.4 942.9h0M458.2 944.7h0M459.1 945.6h0M460.1 945.7h0M460.2 947.5h0M461.5 948.3h0M462.6 948.2h0M462.0 949.4h0M463.2 949.4h0M463.7 949.6h0M463.5 950.8h0M465.1 952.3h0M466.0 952.6h0M467.0 953.9h0M467.4 955.8h0M468.3 956.7h0M470.3 959.9h0M470.4 960.0h0M470.8 960.2h0M471.9 961.3h0M473.1 961.6h0M473.8 962.8h0M475.2 964.1h0M474.7 964.6h0M474.9 965.6h0M476.3 965.5h0M476.7 967.1h0M476.2 967.9h0M477.7 967.4h0M477.2 968.7h0M478.6 970.6h0M479.9 971.5h0M482.1 973.9h0M483.6 974.7h0M486.2 978.0h0M486.3 978.1h0M486.7 978.6h0M487.0 980.7h0M487.6 980.4h0M488.8 982.2h0M488.8 983.5h0M490.8 984.4h0M490.9 985.5h0M491.8 987.0h0M495.9 989.8h0M497.2 991.8h0M497.8 993.3h0M499.3 996.0h0M500.9 995.8h0M503.1 999.2h0M506.9 1003.6h0M508.5 1004.1h0M508.5 1005.2h0M508.5 1006.0h0M509.7 1006.4h0M510.8 1006.8h0M510.9 1008.2h0M512.3 1008.2h0M514.0 1011.3h0M517.6 1014.4h0M518.2 1015.5h0M519.5 1016.6h0M520.3 1018.7h0M520.9 1018.7h0M521.5 1019.1h0M523.4 1020.9h0M524.4 1021.6h0M525.4 1022.8h0M527.1 1023.4h0M527.1 1023.6h0M528.2 1024.4h0M528.3 1025.0h0M529.2 1025.3h0M529.9 1027.8h0M530.6 1027.6h0M531.4 1028.2h0M532.7 1030.1h0M533.5 1031.3h0M534.7 1031.8h0M535.0 1032.4h0M536.2 1033.8h0M538.2 1034.3h0M538.9 1035.5h0M540.0 1036.6h0M540.5 1036.7h0M540.8 1037.4h0M543.0 1038.6h0M544.2 1039.6h0M545.1 1041.3h0M546.1 1041.9h0M548.5 1042.8h0M548.6 1043.7h0M549.7 1044.1h0M550.1 1044.1h0M550.3 1044.7h0M551.1 1045.3h0M553.7 1047.7h0M554.8 1047.9h0M555.2 1049.1h0M556.7 1048.8h0M557.1 1050.0h0M559.4 1051.7h0M560.8 1052.7h0M561.5 1053.4h0M562.4 1053.8h0M562.7 1054.9h0M564.8 1055.7h0M565.0 1056.1h0M566.6 1056.9h0M568.3 1058.7h0M568.9 1058.1h0M569.7 1059.2h0M571.3 1060.6h0M572.4 1060.4h0M573.5 1061.1h0M573.8 1062.2h0M574.8 1061.6h0M574.6 1062.7h0M575.4 1062.1h0M576.7 1062.8h0M577.2 1063.7h0M578.0 1064.6h0M578.3 1064.8h0M579.7 1064.4h0M580.9 1066.2h0M581.9 1066.2h0M584.0 1066.9h0M586.5 1068.5h0M591.2 1070.3h0M592.4 1071.2h0M595.9 1072.2h0M597.0 1073.0h0M597.8 1072.5h0M599.1 1073.2h0M599.9 1073.3h0M601.0 1073.7h0M601.9 1073.8h0M603.9 1074.0h0M605.6 1075.0h0M606.5 1074.6h0M606.8 1074.9h0M608.7 1075.5h0M611.6 1075.3h0M612.6 1076.0h0M613.1 1075.6h0M617.2 1075.5h0M618.5 1076.2h0M620.1 1075.9h0M621.5 1075.7h0M622.6 1076.1h0M622.8 1076.1h0M623.5 1075.6h0M625.2 1076.2h0M626.7 1075.0h0M627.9 1075.6h0M632.8 1074.8h0M637.4 1073.9h0M638.7 1073.1h0M641.2 1072.1h0M642.6 1072.8h0M643.1 1071.1h0M645.3 1071.2h0M646.2 1069.8h0M648.1 1070.4h0M651.6 1067.7h0M653.2 1066.1h0M655.2 1066.0h0M655.8 1063.8h0M661.2 1060.1h0M662.0 1059.7h0M662.5 1059.6h0M663.8 1058.7h0M664.6 1058.0h0M664.1 1057.0h0M666.5 1055.7h0M668.5 1052.8h0M671.8 1049.5h0M673.2 1047.8h0M674.4 1043.8h0M677.7 1041.6h0M677.8 1039.9h0M680.0 1036.9h0M680.9 1034.2h0M681.2 1032.5h0M682.0 1032.0h0M683.1 1030.7h0M684.7 1027.0h0M685.3 1025.4h0M685.5 1023.8h0M687.5 1023.0h0M688.9 1019.1h0M689.7 1017.7h0M689.8 1015.3h0M689.6 1014.4h0M690.3 1013.0h0M690.7 1012.5h0M691.7 1010.5h0M693.1 1007.9h0M692.1 1006.6h0M692.4 1005.8h0M693.0 1004.3h0M695.0 1001.9h0M694.4 999.9h0M695.7 996.1h0M695.8 994.6h0M697.5 992.3h0M698.2 991.6h0M697.8 990.7h0M699.8 985.1h0M701.3 978.5h0M700.9 975.8h0M702.3 971.9h0M702.3 967.5h0M703.1 965.4h0M702.8 965.1h0M703.2 962.6h0M704.1 960.3h0M704.6 957.5h0M704.9 956.8h0M704.4 955.7h0M704.0 953.4h0M704.3 952.0h0M704.8 951.5h0M704.9 949.4h0M705.0 946.8h0M705.4 945.6h0M706.6 943.0h0M705.8 940.0h0M706.4 925.7h0M707.6 923.3h0M706.6 906.3h0M706.6 892.0h0M705.3 888.9h0M705.8 886.8h0M704.8 883.7h0M704.7 883.1h0M705.2 880.9h0M705.2 877.6h0M704.5 874.7h0M704.6 870.0h0M703.4 867.2h0M702.3 863.8h0M702.1 859.5h0M702.2 857.2h0M701.5 855.0h0M700.9 852.5h0M701.2 851.1h0M700.5 850.6h0M699.4 848.1h0M699.4 847.2h0M699.0 846.0h0M698.8 844.1h0M697.8 842.4h0M697.2 838.1h0M696.7 836.6h0M696.5 835.6h0M696.2 834.5h0M695.0 833.2h0M693.5 828.0h0M692.1 822.2h0M692.1 821.2h0M690.6 820.0h0M691.7 819.3h0M690.8 818.0h0M689.8 813.6h0M689.1 812.8h0M688.9 811.3h0M687.5 809.6h0M685.9 806.7h0M684.9 803.3h0M684.3 802.8h0M681.8 798.3h0M680.6 796.9h0M680.1 796.1h0M680.5 794.6h0M678.5 791.1h0M674.3 785.8h0M674.2 785.0h0M673.5 783.5h0M672.8 783.3h0M672.4 783.4h0M672.7 782.4h0M672.4 782.1h0M670.1 779.3h0M668.7 778.3h0M667.8 777.5h0M668.1 776.6h0M667.1 776.4h0M667.1 775.7h0M663.4 771.8h0M662.3 771.2h0M658.7 768.7h0M656.9 766.6h0M656.0 765.2h0M653.3 764.7h0M647.3 761.5h0M646.6 761.0h0M645.6 759.2h0M644.8 759.8h0M644.6 759.7h0M642.8 758.9h0M642.5 759.3h0M640.8 758.2h0M638.8 757.4h0M636.1 756.7h0M634.8 756.1h0M631.5 755.5h0M630.4 754.5h0M630.1 755.2h0M628.3 754.2h0M626.1 754.3h0M625.3 755.3h0M625.0 754.0h0M623.3 754.0h0M618.2 754.6h0M616.4 754.7h0M613.7 755.2h0M611.8 755.2h0M607.2 755.6h0M606.0 755.5h0M605.1 755.8h0M603.7 757.2h0M602.8 756.4h0M601.5 756.8h0M599.6 758.3h0M596.9 758.1h0M591.8 759.4h0M590.0 760.3h0M589.1 761.2h0M587.3 762.2h0M583.5 763.4h0M577.2 766.5h0M575.1 767.7h0M574.8 768.2h0M574.2 768.9h0M573.1 769.0h0M573.4 769.8h0M572.5 769.0h0M572.5 770.2h0M571.7 771.2h0M567.3 772.8h0M566.2 774.7h0M564.3 775.9h0M562.4 776.6h0M561.3 777.8h0M558.7 780.2h0M555.8 780.6h0M554.0 783.1h0M552.6 783.8h0M551.5 785.5h0M550.2 785.4h0M549.3 785.8h0M548.6 786.4h0M547.9 787.5h0M547.7 788.4h0M544.2 790.4h0M543.5 791.3h0M542.7 791.4h0M540.9 794.6h0M540.0 795.9h0M537.0 797.0h0M537.3 797.6h0M535.0 799.6h0M533.5 799.7h0M533.5 800.6h0M533.2 801.5h0M528.8 804.9h0M529.0 805.7h0M527.9 804.9h0M527.8 806.2h0M526.4 807.9h0M521.8 811.6h0M521.4 812.9h0M520.2 812.5h0M519.5 814.3h0M518.1 815.2h0M518.1 816.8h0M516.2 816.7h0M515.8 818.9h0M514.2 819.0h0M513.7 819.7h0M513.9 820.2h0M513.9 820.4h0M513.6 821.2h0M511.4 822.6h0M510.5 823.3h0M510.2 823.7h0M509.4 825.0h0M508.7 826.3h0M507.2 826.6h0M505.2 829.1h0M504.5 829.8h0M502.0 832.8h0M500.8 833.6h0M501.2 834.6h0M500.6 834.7h0M499.2 836.3h0M498.8 836.1h0M498.3 836.5h0M498.1 837.0h0M497.1 839.5h0M495.8 840.0h0M494.5 841.8h0M493.9 842.6h0M492.5 843.5h0M492.9 844.1h0M491.0 844.7h0M490.6 845.9h0M489.5 847.7h0M488.5 847.2h0M487.8 848.6h0M488.1 849.7h0M486.3 850.5h0M486.2 851.3h0M486.4 852.1h0M484.0 852.8h0M484.1 853.3h0M483.2 855.1h0M482.3 855.2h0M482.6 856.6h0M480.8 856.7h0M480.7 858.2h0M478.5 860.5h0M478.0 861.3h0M477.7 862.5h0M476.2 864.5h0M474.7 865.4h0M474.1 867.0h0M473.1 866.8h0M470.6 869.4h0M470.8 870.4h0M468.5 871.6h0M469.1 872.6h0M468.5 872.8h0M468.3 873.0h0M468.0 873.5h0M467.7 874.5h0M467.5 875.5h0M466.8 875.9h0M465.6 877.2h0M464.5 878.7h0M463.2 879.6h0M461.7 882.1h0M461.5 883.3h0M460.2 882.7h0M460.7 883.8h0M458.0 885.4h0M458.4 886.0h0M457.2 886.3h0M458.0 887.2h0M457.8 888.0h0M456.8 888.4h0M456.8 889.1h0M455.8 889.1h0M456.4 890.1h0M456.0 890.7h0M454.6 891.5h0M454.5 892.7h0M452.7 891.7h0M453.3 893.1h0M452.2 893.3h0M451.6 894.0h0M451.3 894.5h0M450.6 894.4h0M450.7 894.8h0M450.1 895.9h0M450.6 897.4h0M450.0 897.4h0M449.8 897.5h0M448.9 897.0h0M448.2 897.6h0M449.1 898.8h0M448.4 898.8h0M449.0 899.5h0M447.8 899.1h0M448.9 900.3h0M448.1 900.0h0M447.1 900.0h0M446.7 901.1h0M447.0 902.0h0M446.2 901.9h0M446.0 902.5h0M446.0 903.2h0M444.2 902.7h0M444.9 903.6h0M444.3 903.9h0M444.6 904.3h0M444.2 904.8h0M443.9 904.8h0M443.4 905.2h0M443.3 906.5h0M442.4 907.0h0M441.5 907.4h0M441.1 907.6h0M441.9 908.3h0M440.4 908.9h0M440.3 909.6h0M440.3 910.0h0M441.4 911.0h0M441.2 911.1h0M439.9 911.0h0M438.4 910.2h0M439.7 911.6h0M439.4 911.7h0M438.0 911.3h0M438.2 911.5h0M438.4 911.9h0M439.8 913.3h0M439.6 913.6h0M439.3 913.5h0M437.5 912.7h0M437.1 912.6h0M437.1 913.1h0M436.1 912.5h0M438.7 915.0h0M437.9 914.9h0M437.2 914.6h0M436.9 914.7h0M435.1 913.6h0M436.6 915.2h0M436.5 915.6h0M437.3 916.9h0M435.3 915.6h0M436.4 916.6h0M436.2 916.8h0M434.5 915.8h0M433.9 916.2h0M433.7 916.3h0M435.8 918.0h0M434.1 916.9h0M433.6 917.3h0M434.8 918.9h0M432.9 918.5h0M432.6 920.0h0M431.2 919.6h0M431.3 920.2h0M431.0 920.7h0M431.8 921.8h0M430.8 921.2h0M431.9 922.9h0M430.9 922.6h0M430.3 922.5h0M429.4 923.0h0M429.8 924.1h0M428.5 923.4h0M428.7 924.0h0M428.9 924.7h0M428.5 925.3h0M429.3 926.6h0M427.6 926.0h0M428.5 926.7h0M427.6 927.1h0M427.2 926.9h0M426.1 926.5h0M426.5 927.0h0M426.2 928.1h0M425.3 928.7h0M425.2 929.4h0M424.9 930.1h0M424.8 930.3h0M424.7 930.6h0M424.4 931.2h0M424.5 931.8h0M422.9 931.5h0M422.4 931.8h0M423.7 933.0h0M422.4 933.0h0M421.7 933.3h0M421.3 934.8h0M420.4 935.3h0M420.7 935.7h0M420.5 937.0h0M419.1 936.4h0M419.8 937.2h0M419.8 938.0h0M418.5 937.3h0M419.6 939.0h0M418.8 939.1h0M418.3 939.4h0M418.3 939.5h0M417.9 939.8h0M416.8 939.4h0M417.8 941.2h0M416.6 940.6h0M416.0 940.5h0M415.8 942.5h0M415.9 943.2h0M414.5 942.6h0M414.3 942.8h0M414.9 944.4h0M413.1 945.4h0M413.3 947.1h0M412.5 947.0h0M410.5 947.9h0M410.3 949.0h0M409.6 949.8h0M409.5 950.8h0M409.0 951.1h0M408.4 951.2h0M409.3 952.2h0M408.2 951.9h0M408.1 952.6h0M407.0 953.7h0M405.9 954.1h0M407.0 955.3h0M406.4 956.1h0M405.4 956.1h0M404.1 957.8h0M403.3 958.1h0M403.0 959.0h0M402.6 959.4h0M401.0 961.0h0M400.5 961.3h0M400.4 963.2h0M397.1 966.5h0M397.8 967.4h0M396.7 968.2h0M395.6 969.9h0M394.6 970.9h0M393.8 970.8h0M393.9 971.5h0M392.5 972.3h0M392.0 973.3h0M391.2 974.9h0M390.1 975.5h0M389.0 978.2h0M387.9 979.8h0M385.8 981.5h0M382.9 986.2h0M381.3 987.9h0M379.9 989.5h0M379.5 991.0h0M377.3 991.6h0M377.2 993.9h0M375.7 995.8h0M373.7 996.9h0M372.2 998.6h0M370.0 1002.2h0M367.7 1005.9h0M366.5 1007.2h0M365.5 1007.5h0M363.7 1010.4h0M362.3 1012.6h0M360.9 1013.3h0M354.6 1019.7h0M352.8 1024.2h0M350.1 1026.7h0M348.3 1028.0h0M344.2 1033.7h0M343.3 1035.6h0M341.0 1037.6h0M339.7 1038.5h0M337.9 1040.8h0M336.0 1043.6h0M334.8 1045.4h0M333.0 1046.6h0M332.0 1048.2h0M329.0 1050.7h0M328.3 1052.4h0M324.7 1054.8h0M324.9 1055.2h0M325.1 1055.9h0M324.3 1056.9h0M320.0 1061.5h0M318.5 1063.4h0M317.4 1063.0h0M314.7 1066.9h0M313.4 1067.9h0M313.0 1068.2h0M312.4 1068.5h0M311.8 1070.3h0M310.1 1071.9h0M305.7 1075.2h0M301.3 1079.3h0M296.9 1082.7h0M295.3 1084.4h0M285.0 1090.8h0M284.3 1091.0h0M280.1 1093.7h0M279.7 1094.5h0M278.1 1094.6h0M276.1 1095.7h0M274.6 1096.2h0M270.0 1097.2h0M268.5 1098.6h0M266.2 1098.7h0M261.3 1100.3h0M259.1 1100.4h0M256.6 1100.6h0M249.0 1099.5h0M246.9 1098.8h0M240.4 1096.6h0M237.9 1095.1h0M235.9 1093.6h0M234.2 1091.7h0M232.0 1090.5h0M229.1 1088.2h0M223.7 1084.0h0M222.6 1081.5h0M220.1 1078.9h0M215.5 1070.9h0M212.8 1064.8h0M212.4 1064.6h0M209.9 1057.9h0M209.5 1056.5h0M206.0 1050.2h0M205.1 1044.7h0M201.4 1028.2h0M200.1 1022.6h0M199.3 1017.3h0M196.2 1015.1h0M196.1 1012.4h0M196.0 1010.0h0M195.7 1009.7h0M194.9 998.4h0M194.6 997.3h0M193.8 993.7h0M193.4 980.5h0M193.4 974.3h0M189.6 968.0h0M191.0 964.7h0M190.3 960.5h0M191.4 958.2h0M191.3 957.8h0M189.9 952.9h0M191.0 944.3h0M189.7 937.2h0M191.5 931.6h0M188.7 924.8h0M189.2 921.7h0" fill="none" stroke="#000" stroke-width="4.3" stroke-linecap="round"/>
<path d="M1120.5 1078.3 L1120.6 1078.3 L1120.7 1078.3 L1120.8 1078.2 L1121.0 1078.2 L1121.1 1078.2 L1121.2 1078.2 L1121.3 1078.2 L1121.4 1078.2 L1121.5 1078.2 L1121.7 1078.2 L1121.8 1078.2 L1121.9 1078.2 L1122.0 1078.2 L1122.1 1078.2 L1122.2 1078.2 L1122.3 1078.2 L1122.5 1078.2 L1122.6 1078.2 L1122.7 1078.2 L1122.8 1078.2 L1122.9 1078.2 L1123.0 1078.2 L1123.2 1078.2 L1123.3 1078.2 L1123.4 1078.2 L1123.5 1078.2 L1123.6 1078.1 L1123.7 1078.1 L1123.8 1078.1 L1124.0 1078.1 L1124.1 1078.1 L1124.2 1078.1 L1124.3 1078.1 L1124.4 1078.1 L1124.5 1078.1 L1124.7 1078.1 L1124.8 1078.1 L1124.9 1078.1 L1125.0 1078.1 L1125.1 1078.1 L1125.2 1078.1 L1125.3 1078.1 L1125.5 1078.1 L1125.6 1078.1 L1125.7 1078.1 L1125.8 1078.1 L1125.9 1078.1 L1126.0 1078.1 L1126.2 1078.1 L1126.3 1078.1 L1126.4 1078.0 L1126.5 1078.0 L1126.6 1078.0 L1126.7 1078.0 L1126.8 1078.0 L1127.0 1078.0 L1127.1 1078.0 L1127.2 1078.0 L1127.3 1078.0 L1127.4 1078.0 L1127.5 1078.0 L1127.6 1078.0 L1127.8 1078.0 L1127.9 1078.0 L1128.0 1078.0 L1128.1 1078.0 L1128.2 1078.0 L1128.3 1078.0 L1128.5 1078.0 L1128.6 1078.0 L1128.7 1078.0 L1128.8 1078.0 L1128.9 1077.9 L1129.0 1077.9 L1129.1 1077.9 L1129.3 1077.9 L1129.4 1077.9 L1129.5 1077.9 L1129.6 1077.9 L1129.7 1077.9 L1129.8 1077.9 L1130.0 1077.9 L1130.1 1077.9 L1130.2 1077.9 L1130.3 1077.9 L1130.4 1077.9 L1130.5 1077.9 L1130.6 1077.9 L1130.8 1077.9 L1130.9 1077.9 L1131.0 1077.9 L1131.1 1077.9 L1131.2 1077.9 L1131.3 1077.9 L1131.5 1077.8 L1131.6 1077.8 L1131.7 1077.8 L1131.8 1077.8 L1131.9 1077.8 L1132.0 1077.8 L1132.1 1077.8 L1132.3 1077.8 L1132.4 1077.8 L1132.5 1077.8 L1132.6 1077.8 L1132.7 1077.8 L1132.8 1077.8 L1133.0 1077.8 L1133.1 1077.8 L1133.2 1077.8 L1133.3 1077.8 L1133.4 1077.8 L1133.5 1077.8 L1133.6 1077.8 L1133.8 1077.8 L1133.9 1077.7 L1134.0 1077.7 L1134.1 1077.7 L1134.2 1077.7 L1134.3 1077.7 L1134.5 1077.7 L1134.6 1077.7 L1134.7 1077.7 L1134.8 1077.7 L1134.9 1077.7 L1135.0 1077.7 L1135.1 1077.7 L1135.3 1077.7 L1135.4 1077.7 L1135.5 1077.7 L1135.6 1077.7 L1135.7 1077.7 L1135.8 1077.7 L1136.0 1077.7 L1136.1 1077.7 L1136.2 1077.6 L1136.3 1077.6 L1136.4 1077.6 L1136.5 1077.6 L1136.6 1077.6 L1136.8 1077.6 L1136.9 1077.6 L1137.0 1077.6 L1137.1 1077.6 L1137.2 1077.6 L1137.3 1077.6 L1137.5 1077.6 L1137.6 1077.6 L1137.7 1077.6 L1137.8 1077.6 L1137.9 1077.6 L1138.0 1077.6 L1138.1 1077.6 L1138.3 1077.6 L1138.4 1077.6 L1138.5 1077.5 L1138.6 1077.5 L1138.7 1077.5 L1138.8 1077.5 L1139.0 1077.5 L1139.1 1077.5 L1139.2 1077.5 L1139.3 1077.5 L1139.4 1077.5 L1139.5 1077.5 L1139.6 1077.5 L1139.8 1077.5 L1139.9 1077.5 L1140.0 1077.5 L1140.1 1077.5 L1140.2 1077.5 L1140.3 1077.5 L1140.4 1077.5 L1140.6 1077.5 L1140.7 1077.4 L1140.8 1077.4 L1140.9 1077.4 L1141.0 1077.4 L1141.1 1077.4 L1141.3 1077.4 L1141.4 1077.4 L1141.5 1077.4 L1141.6 1077.4 L1141.7 1077.4 L1141.8 1077.4 L1141.9 1077.4 L1142.1 1077.4 L1142.2 1077.4 L1142.3 1077.4 L1142.4 1077.4 L1142.5 1077.4 L1142.6 1077.4 L1142.8 1077.4 L1142.9 1077.3 L1143.0 1077.3 L1143.1 1077.3 L1143.2 1077.3 L1143.3 1077.3 L1143.4 1077.3 L1143.6 1077.3 L1143.7 1077.3 L1143.8 1077.3 L1143.9 1077.3 L1144.0 1077.3 L1144.1 1077.3 L1144.3 1077.3 L1144.4 1077.3 L1144.5 1077.3 L1144.6 1077.3 L1144.7 1077.3 L1144.8 1077.3 L1144.9 1077.2 L1145.1 1077.2 L1145.2 1077.2 L1145.3 1077.2 L1145.4 1077.2 L1145.5 1077.2 L1145.6 1077.2 L1145.8 1077.2 L1145.9 1077.2 L1146.0 1077.2 L1146.1 1077.2 L1146.2 1077.2 L1146.3 1077.2 L1146.4 1077.2 L1146.6 1077.2 L1146.7 1077.2 L1146.8 1077.2 L1146.9 1077.2 L1147.0 1077.1 L1147.1 1077.1 L1147.3 1077.1 L1147.4 1077.1 L1147.5 1077.1 L1147.6 1077.1 L1147.7 1077.1 L1147.8 1077.1 L1147.9 1077.1 L1148.1 1077.1 L1148.2 1077.1 L1148.3 1077.1 L1148.4 1077.1 L1148.5 1077.1 L1148.6 1077.1 L1148.8 1077.1 L1148.9 1077.1 L1149.0 1077.1 L1149.1 1077.0 L1149.2 1077.0 L1149.3 1077.0 L1149.4 1077.0 L1149.6 1077.0 L1149.7 1077.0 L1149.8 1077.0 L1149.9 1077.0 L1150.0 1077.0 L1150.1 1077.0 L1150.3 1077.0 L1150.4 1077.0 L1150.5 1077.0 L1150.6 1077.0 L1150.7 1077.0 L1150.8 1077.0 L1150.9 1077.0 L1151.1 1077.0 L1151.2 1076.9 L1151.3 1076.9 L1151.4 1076.9 L1151.5 1076.9 L1151.6 1076.9 L1151.7 1076.9 L1151.9 1076.9 L1152.0 1076.9 L1152.1 1076.9 L1152.2 1076.9 L1152.3 1076.9 L1152.4 1076.9 L1152.6 1076.9 L1152.7 1076.9 L1152.8 1076.9 L1152.9 1076.9 L1153.0 1076.9 L1153.1 1076.8 L1153.2 1076.8 L1153.4 1076.8 L1153.5 1076.8 L1153.6 1076.8 L1153.7 1076.8 L1153.8 1076.8 L1153.9 1076.8 L1154.1 1076.8 L1154.2 1076.8 L1154.3 1076.8 L1154.4 1076.8 L1154.5 1076.8 L1154.6 1076.8 L1154.7 1076.8 L1154.9 1076.8 L1155.0 1076.8 L1155.1 1076.7 L1155.2 1076.7 L1155.3 1076.7 L1155.4 1076.7 L1155.6 1076.7 L1155.7 1076.7 L1155.8 1076.7 L1155.9 1076.7 L1156.0 1076.7 L1156.1 1076.7 L1156.2 1076.7 L1156.4 1076.7 L1156.5 1076.7 L1156.6 1076.7 L1156.7 1076.7 L1156.8 1076.7 L1156.9 1076.7 L1157.1 1076.6 L1157.2 1076.6 L1157.3 1076.6 L1157.4 1076.6 L1157.5 1076.6 L1157.6 1076.6 L1157.7 1076.6 L1157.9 1076.6 L1158.0 1076.6 L1158.1 1076.6 L1158.2 1076.6 L1158.3 1076.6 L1158.4 1076.6 L1158.6 1076.6 L1158.7 1076.6 L1158.8 1076.6 L1158.9 1076.5 L1159.0 1076.5 L1159.1 1076.5 L1159.2 1076.5 L1159.4 1076.5 L1159.5 1076.5 L1159.6 1076.5 L1159.7 1076.5 L1159.8 1076.5 L1159.9 1076.5 L1160.1 1076.5 L1160.2 1076.5 L1160.3 1076.5 L1160.4 1076.5 L1160.5 1076.4 L1160.6 1076.4 L1160.7 1076.4 L1160.9 1076.4 L1161.0 1076.4 L1161.1 1076.4 L1161.2 1076.4 L1161.3 1076.4 L1161.4 1076.4 L1161.6 1076.4 L1161.7 1076.4 L1161.8 1076.4 L1161.9 1076.4 L1162.0 1076.4 L1162.1 1076.3 L1162.2 1076.3 L1162.4 1076.3 L1162.5 1076.3 L1162.6 1076.3 L1162.7 1076.3 L1162.8 1076.3 L1162.9 1076.3 L1163.1 1076.3 L1163.2 1076.3 L1163.3 1076.3 L1163.4 1076.3 L1163.5 1076.3 L1163.6 1076.2 L1163.7 1076.2 L1163.9 1076.2 L1164.0 1076.2 L1164.1 1076.2 L1164.2 1076.2 L1164.3 1076.2 L1164.4 1076.2 L1164.5 1076.2 L1164.7 1076.2 L1164.8 1076.2 L1164.9 1076.2 L1165.0 1076.2 L1165.1 1076.1 L1165.2 1076.1 L1165.4 1076.1 L1165.5 1076.1 L1165.6 1076.1 L1165.7 1076.1 L1165.8 1076.1 L1165.9 1076.1 L1166.0 1076.1 L1166.2 1076.1 L1166.3 1076.1 L1166.4 1076.1 L1166.5 1076.1 L1166.6 1076.1 L1166.7 1076.0 L1166.9 1076.0 L1167.0 1076.0 L1167.1 1076.0 L1167.2 1076.0 L1167.3 1076.0 L1167.4 1076.0 L1167.5 1076.0 L1167.7 1076.0 L1167.8 1076.0 L1167.9 1076.0 L1168.0 1076.0 L1168.1 1076.0 L1168.2 1076.0 L1168.4 1075.9 L1168.5 1075.9 L1168.6 1075.9 L1168.7 1075.9 L1168.8 1075.9 L1168.9 1075.9 L1169.0 1075.9 L1169.2 1075.9 L1169.3 1075.9 L1169.4 1075.9 L1169.5 1075.9 L1169.6 1075.9 L1169.7 1075.9 L1169.9 1075.9 L1170.0 1075.8 L1170.1 1075.8 L1170.2 1075.8 L1170.3 1075.8 L1170.4 1075.8 L1170.5 1075.8 L1170.7 1075.8 L1170.8 1075.8 L1170.9 1075.8 L1171.0 1075.8 L1171.1 1075.8 L1171.2 1075.8 L1171.4 1075.8 L1171.5 1075.8 L1171.6 1075.8 L1171.7 1075.8 L1171.8 1075.7 L1171.9 1075.7 L1172.0 1075.7 L1172.2 1075.7 L1172.3 1075.7 L1172.4 1075.7 L1172.5 1075.7 L1172.6 1075.7 L1172.7 1075.7 L1172.9 1075.7 L1173.0 1075.7 L1173.1 1075.7 L1173.2 1075.7 L1173.3 1075.7 L1173.4 1075.7 L1173.5 1075.7 L1173.7 1075.7 L1173.8 1075.7 L1173.9 1075.7 L1174.0 1075.6 L1174.1 1075.6 L1174.2 1075.6 L1174.4 1075.6 L1174.5 1075.6 L1174.6 1075.6 L1174.7 1075.6 L1174.8 1075.6 L1174.9 1075.6 L1175.0 1075.6 L1175.2 1075.6 L1175.3 1075.6 L1175.4 1075.6 L1175.5 1075.6 L1175.6 1075.6 L1175.7 1075.6 L1175.9 1075.6 L1176.0 1075.6 L1176.1 1075.6 L1176.2 1075.6 L1176.3 1075.6 L1176.4 1075.6 L1176.5 1075.6 L1176.7 1075.5 L1176.8 1075.5 L1176.9 1075.5 L1177.0 1075.5 L1177.1 1075.5 L1177.2 1075.5 L1177.3 1075.5 L1177.5 1075.5 L1177.6 1075.5 L1177.7 1075.5 L1177.8 1075.5 L1177.9 1075.5 L1178.0 1075.5 L1178.2 1075.5 L1178.3 1075.5 L1178.4 1075.5 L1178.5 1075.5 L1178.6 1075.5 L1178.7 1075.5 L1178.8 1075.5 L1179.0 1075.5 L1179.1 1075.5 L1179.2 1075.5 L1179.3 1075.5 L1179.4 1075.5 L1179.5 1075.5 L1179.7 1075.5 L1179.8 1075.5 L1179.9 1075.5 L1180.0 1075.4 L1180.1 1075.4 L1180.2 1075.4 L1180.3 1075.4 L1180.5 1075.4 L1180.6 1075.4 L1180.7 1075.4 L1180.8 1075.4 L1180.9 1075.4 L1181.0 1075.4 L1181.2 1075.4 L1181.3 1075.4 L1181.4 1075.4 L1181.5 1075.4 L1181.6 1075.4 L1181.7 1075.4 L1181.8 1075.4 L1182.0 1075.4 L1182.1 1075.4 L1182.2 1075.4 L1182.3 1075.4 L1182.4 1075.4 L1182.5 1075.4 L1182.7 1075.4 L1182.8 1075.4 L1182.9 1075.4 L1183.0 1075.4 L1183.1 1075.4 L1183.2 1075.4 L1183.3 1075.4 L1183.5 1075.4 L1183.6 1075.4 L1183.7 1075.4 L1183.8 1075.4 L1183.9 1075.4 L1184.0 1075.4 L1184.2 1075.3 L1184.3 1075.3 L1184.4 1075.3 L1184.5 1075.3 L1184.6 1075.3 L1184.7 1075.3 L1184.8 1075.3 L1185.0 1075.3 L1185.1 1075.3 L1185.2 1075.3 L1185.3 1075.3 L1185.4 1075.3 L1185.5 1075.3 L1185.7 1075.3 L1185.8 1075.3 L1185.9 1075.3 L1186.0 1075.3 L1186.1 1075.3 L1186.2 1075.3 L1186.3 1075.3 L1186.5 1075.3 L1186.6 1075.3 L1186.7 1075.3 L1186.8 1075.3 L1186.9 1075.3 L1187.0 1075.3 L1187.2 1075.3 L1187.3 1075.3 L1187.4 1075.3 L1187.5 1075.3 L1187.6 1075.3 L1187.7 1075.3 L1187.8 1075.3 L1188.0 1075.3 L1188.1 1075.3 L1188.2 1075.3 L1188.3 1075.3 L1188.4 1075.3 L1188.5 1075.3 L1188.7 1075.3 L1188.8 1075.2 L1188.9 1075.2 L1189.0 1075.2 L1189.1 1075.2 L1189.2 1075.2 L1189.3 1075.2 L1189.5 1075.2 L1189.6 1075.2 L1189.7 1075.2 L1189.8 1075.2 L1189.9 1075.2 L1190.0 1075.2 L1190.1 1075.2 L1190.3 1075.2 L1190.4 1075.2 L1190.5 1075.2 L1190.6 1075.2 L1190.7 1075.2 L1190.8 1075.2 L1191.0 1075.2 L1191.1 1075.2 L1191.2 1075.2 L1191.3 1075.2 L1191.4 1075.2 L1191.5 1075.2 L1191.6 1075.2 L1191.8 1075.2 L1191.9 1075.2 L1192.0 1075.2 L1192.1 1075.2 L1192.2 1075.2 L1192.3 1075.2 L1192.5 1075.2 L1192.6 1075.2 L1192.7 1075.2 L1192.8 1075.2 L1192.9 1075.1 L1193.0 1075.1 L1193.1 1075.1 L1193.3 1075.1 L1193.4 1075.1 L1193.5 1075.1 L1193.6 1075.1 L1193.7 1075.1 L1193.8 1075.1 L1194.0 1075.1 L1194.1 1075.1 L1194.2 1075.1 L1194.3 1075.1 L1194.4 1075.1 L1194.5 1075.1 L1194.6 1075.1 L1194.8 1075.1 L1194.9 1075.1 L1195.0 1075.1 L1195.1 1075.1 L1195.2 1075.1 L1195.3 1075.1 L1195.5 1075.1 L1195.6 1075.1 L1195.7 1075.1 L1195.8 1075.1 L1195.9 1075.1 L1196.0 1075.1 L1196.1 1075.1 L1196.3 1075.0 L1196.4 1075.0 L1196.5 1075.0 L1196.6 1075.0 L1196.7 1075.0 L1196.8 1075.0 L1197.0 1075.0 L1197.1 1075.0 L1197.2 1075.0 L1197.3 1075.0 L1197.4 1075.0 L1197.5 1075.0 L1197.6 1075.0 L1197.8 1075.0 L1197.9 1075.0 L1198.0 1075.0 L1198.1 1075.0 L1198.2 1075.0 L1198.3 1075.0 L1198.5 1075.0 L1198.6 1075.0 L1198.7 1075.0 L1198.8 1075.0 L1198.9 1075.0 L1199.0 1074.9 L1199.1 1074.9 L1199.3 1074.9 L1199.4 1074.9 L1199.5 1074.9 L1199.6 1074.9 L1199.7 1074.9 L1199.8 1074.9 L1200.0 1074.9 L1200.1 1074.9 L1200.2 1074.9 L1200.3 1074.9 L1200.4 1074.9 L1200.5 1074.9 L1200.6 1074.9 L1200.8 1074.9 L1200.9 1074.9 L1201.0 1074.9 L1201.1 1074.9 L1201.2 1074.8 L1201.3 1074.8 L1201.5 1074.8 L1201.6 1074.8 L1201.7 1074.8 L1201.8 1074.8 L1201.9 1074.8 L1202.0 1074.8 L1202.1 1074.8 L1202.3 1074.8 L1202.4 1074.8 L1202.5 1074.8 L1202.6 1074.8 L1202.7 1074.8 L1202.8 1074.7 L1202.9 1074.7 L1203.1 1074.7 L1203.2 1074.7 L1203.3 1074.7 L1203.4 1074.7 L1203.5 1074.7 L1203.6 1074.7 L1203.8 1074.7 L1203.9 1074.7 L1204.0 1074.7 L1204.1 1074.6 L1204.2 1074.6 L1204.3 1074.6 L1204.4 1074.6 L1204.6 1074.6 L1204.7 1074.6 L1204.8 1074.6 L1204.9 1074.6 L1205.0 1074.5 L1205.1 1074.5 L1205.3 1074.5 L1205.4 1074.5 L1205.5 1074.5 L1205.6 1074.5 L1205.7 1074.5 L1205.8 1074.5 L1205.9 1074.4 L1206.1 1074.4 L1206.2 1074.4 L1206.3 1074.4 L1206.4 1074.4 L1206.5 1074.4 L1206.6 1074.4 L1206.8 1074.3 L1206.9 1074.3 L1207.0 1074.3 L1207.1 1074.3 L1207.2 1074.3 L1207.3 1074.3 L1207.4 1074.3 L1207.6 1074.2 L1207.7 1074.2 L1207.8 1074.2 L1207.9 1074.2 L1208.0 1074.2 L1208.1 1074.2 L1208.3 1074.1 L1208.4 1074.1 L1208.5 1074.1 L1208.6 1074.1 L1208.7 1074.1 L1208.8 1074.1 L1208.9 1074.0 L1209.1 1074.0 L1209.2 1074.0 L1209.3 1074.0 L1209.4 1074.0 L1209.5 1074.0 L1209.6 1073.9 L1209.8 1073.9 L1209.9 1073.9 L1210.0 1073.9 L1210.1 1073.9 L1210.2 1073.8 L1210.3 1073.8 L1210.4 1073.8 L1210.6 1073.8 L1210.7 1073.8 L1210.8 1073.8 L1210.9 1073.7 L1211.0 1073.7 L1211.1 1073.7 L1211.3 1073.7 L1211.4 1073.7 L1211.5 1073.6 L1211.6 1073.6 L1211.7 1073.6 L1211.8 1073.6 L1211.9 1073.6 L1212.1 1073.5 L1212.2 1073.5 L1212.3 1073.5 L1212.4 1073.5 L1212.5 1073.5 L1212.6 1073.4 L1212.8 1073.4 L1212.9 1073.4 L1213.0 1073.4 L1213.1 1073.4 L1213.2 1073.3 L1213.3 1073.3 L1213.4 1073.3 L1213.6 1073.3 L1213.7 1073.3 L1213.8 1073.2 L1213.9 1073.2 L1214.0 1073.2 L1214.1 1073.2 L1214.2 1073.2 L1214.4 1073.2 L1214.5 1073.1 L1214.6 1073.1 L1214.7 1073.1 L1214.8 1073.1 L1214.9 1073.1 L1215.1 1073.0 L1215.2 1073.0 L1215.3 1073.0 L1215.4 1073.0 L1215.5 1073.0 L1215.6 1072.9 L1215.7 1072.9 L1215.9 1072.9 L1216.0 1072.9 L1216.1 1072.9 L1216.2 1072.8 L1216.3 1072.8 L1216.4 1072.8 L1216.6 1072.8 L1216.7 1072.8 L1216.8 1072.7 L1216.9 1072.7 L1217.0 1072.7 L1217.1 1072.7 L1217.2 1072.7 L1217.4 1072.6 L1217.5 1072.6 L1217.6 1072.6 L1217.7 1072.6 L1217.8 1072.6 L1217.9 1072.5 L1218.1 1072.5 L1218.2 1072.5 L1218.3 1072.5 L1218.4 1072.5 L1218.5 1072.5 L1218.6 1072.4 L1218.7 1072.4 L1218.9 1072.4 L1219.0 1072.4 L1219.1 1072.4 L1219.2 1072.3 L1219.3 1072.3 L1219.4 1072.3 L1219.6 1072.3 L1219.7 1072.3 L1219.8 1072.3 L1219.9 1072.2 L1220.0 1072.2 L1220.1 1072.2 L1220.2 1072.2 L1220.4 1072.2 L1220.5 1072.1 L1220.6 1072.1 L1220.7 1072.1 L1220.8 1072.1 L1220.9 1072.1 L1221.1 1072.1 L1221.2 1072.0 L1221.3 1072.0 L1221.4 1072.0 L1221.5 1072.0 L1221.6 1072.0 L1221.7 1072.0 L1221.9 1071.9 L1222.0 1071.9 L1222.1 1071.9 L1222.2 1071.9 L1222.3 1071.9 L1222.4 1071.9 L1222.6 1071.9 L1222.7 1071.8 L1222.8 1071.8 L1222.9 1071.8 L1223.0 1071.8 L1223.1 1071.8 L1223.2 1071.8 L1223.4 1071.8 L1223.5 1071.7 L1223.6 1071.7 L1223.7 1071.7 L1223.8 1071.7 L1223.9 1071.7 L1224.1 1071.7 L1224.2 1071.7 L1224.3 1071.7 L1224.4 1071.6 L1224.5 1071.6 L1224.6 1071.6 L1224.7 1071.6 L1224.9 1071.6 L1225.0 1071.6 L1225.1 1071.6 L1225.2 1071.6 L1225.3 1071.5 L1225.4 1071.5 L1225.6 1071.5 L1225.7 1071.5 L1225.8 1071.5 L1225.9 1071.5 L1226.0 1071.5 L1226.1 1071.5 L1226.2 1071.5 L1226.4 1071.5 L1226.5 1071.4 L1226.6 1071.4 L1226.7 1071.4 L1226.8 1071.4 L1226.9 1071.4 L1227.0 1071.4 L1227.2 1071.4 L1227.3 1071.4 L1227.4 1071.4 L1227.5 1071.4 L1227.6 1071.4 L1227.7 1071.4 L1227.9 1071.3 L1228.0 1071.3 L1228.1 1071.3 L1228.2 1071.3 L1228.3 1071.3 L1228.4 1071.3 L1228.5 1071.3 L1228.7 1071.3 L1228.8 1071.3 L1228.9 1071.3 L1229.0 1071.3 L1229.1 1071.3 L1229.2 1071.3 L1229.4 1071.2 L1229.5 1071.2 L1229.6 1071.2 L1229.7 1071.2 L1229.8 1071.2 L1229.9 1071.2 L1230.0 1071.2 L1230.2 1071.2 L1230.3 1071.2 L1230.4 1071.2 L1230.5 1071.2 L1230.6 1071.2 L1230.7 1071.2 L1230.9 1071.2 L1231.0 1071.1 L1231.1 1071.1 L1231.2 1071.1 L1231.3 1071.1 L1231.4 1071.1 L1231.5 1071.1 L1231.7 1071.1 L1231.8 1071.1 L1231.9 1071.1 L1232.0 1071.1 L1232.1 1071.1 L1232.2 1071.1 L1232.4 1071.1 L1232.5 1071.1 L1232.6 1071.0 L1232.7 1071.0 L1232.8 1071.0 L1232.9 1071.0 L1233.0 1071.0 L1233.2 1071.0 L1233.3 1071.0 L1233.4 1071.0 L1233.5 1071.0 L1233.6 1071.0 L1233.7 1071.0 L1233.9 1071.0 L1234.0 1071.0 L1234.1 1071.0 L1234.2 1071.0 L1234.3 1070.9 L1234.4 1070.9 L1234.5 1070.9 L1234.7 1070.9 L1234.8 1070.9 L1234.9 1070.9 L1235.0 1070.9 L1235.1 1070.9 L1235.2 1070.9 L1235.4 1070.9 L1235.5 1070.9 L1235.6 1070.9 L1235.7 1070.9 L1235.8 1070.9 L1235.9 1070.9 L1236.0 1070.9 L1236.2 1070.9 L1236.3 1070.8 L1236.4 1070.8 L1236.5 1070.8 L1236.6 1070.8 L1236.7 1070.8 L1236.9 1070.8 L1237.0 1070.8 L1237.1 1070.8 L1237.2 1070.8 L1237.3 1070.8 L1237.4 1070.8 L1237.5 1070.8 L1237.7 1070.8 L1237.8 1070.8 L1237.9 1070.8 L1238.0 1070.8 L1238.1 1070.8 L1238.2 1070.8 L1238.4 1070.7 L1238.5 1070.7 L1238.6 1070.7 L1238.7 1070.7 L1238.8 1070.7 L1238.9 1070.7 L1239.0 1070.7 L1239.2 1070.7 L1239.3 1070.7 L1239.4 1070.7 L1239.5 1070.7 L1239.6 1070.7 L1239.7 1070.7 L1239.8 1070.7 L1240.0 1070.7 L1240.1 1070.7 L1240.2 1070.7 L1240.3 1070.7 L1240.4 1070.7 L1240.5 1070.7 L1240.7 1070.7 L1240.8 1070.7 L1240.9 1070.7 L1241.0 1070.6 L1241.1 1070.6 L1241.2 1070.6 L1241.3 1070.6 L1241.5 1070.6 L1241.6 1070.6 L1241.7 1070.6 L1241.8 1070.6 L1241.9 1070.6 L1242.0 1070.6 L1242.2 1070.6 L1242.3 1070.6 L1242.4 1070.6 L1242.5 1070.6 L1242.6 1070.6 L1242.7 1070.6 L1242.8 1070.6 L1243.0 1070.6 L1243.1 1070.6 L1243.2 1070.6 L1243.3 1070.6 L1243.4 1070.6 L1243.5 1070.6 L1243.7 1070.6 L1243.8 1070.6 L1243.9 1070.6 L1244.0 1070.6 L1244.1 1070.6 L1244.2 1070.6 L1244.3 1070.6 L1244.5 1070.6 L1244.6 1070.6 L1244.7 1070.6 L1244.8 1070.6 L1244.9 1070.6 L1245.0 1070.6 L1245.2 1070.6 L1245.3 1070.6 L1245.4 1070.6 L1245.5 1070.6 L1245.6 1070.6 L1245.7 1070.6 L1245.8 1070.6 L1246.0 1070.6 L1246.1 1070.6 L1246.2 1070.6 L1246.3 1070.6 L1246.4 1070.6 L1246.5 1070.6 L1246.7 1070.6 L1246.8 1070.6 L1246.9 1070.6 L1247.0 1070.6 L1247.1 1070.6 L1247.2 1070.6 L1247.3 1070.6 L1247.5 1070.6 L1247.6 1070.6 L1247.7 1070.6 L1247.8 1070.6 L1247.9 1070.6 L1248.0 1070.6 L1248.2 1070.6 L1248.3 1070.6 L1248.4 1070.6 L1248.5 1070.6 L1248.6 1070.6 L1248.7 1070.6 L1248.8 1070.6 L1249.0 1070.6 L1249.1 1070.6 L1249.2 1070.6 L1249.3 1070.6 L1249.4 1070.6 L1249.5 1070.6 L1249.7 1070.6 L1249.8 1070.6 L1249.9 1070.7 L1250.0 1070.7 L1250.1 1070.7 L1250.2 1070.7 L1250.3 1070.7 L1250.5 1070.7 L1250.6 1070.7 L1250.7 1070.7 L1250.8 1070.7 L1250.9 1070.7 L1251.0 1070.7 L1251.2 1070.7 L1251.3 1070.7 L1251.4 1070.7 L1251.5 1070.7 L1251.6 1070.7 L1251.7 1070.7 L1251.8 1070.7 L1252.0 1070.8 L1252.1 1070.8 L1252.2 1070.8 L1252.3 1070.8 L1252.4 1070.8 L1252.5 1070.8 L1252.6 1070.8 L1252.8 1070.8 L1252.9 1070.8 L1253.0 1070.8 L1253.1 1070.8 L1253.2 1070.8 L1253.3 1070.9 L1253.5 1070.9 L1253.6 1070.9 L1253.7 1070.9 L1253.8 1070.9 L1253.9 1070.9 L1254.0 1070.9 L1254.1 1070.9 L1254.3 1070.9 L1254.4 1070.9 L1254.5 1071.0 L1254.6 1071.0 L1254.7 1071.0 L1254.8 1071.0 L1255.0 1071.0 L1255.1 1071.0 L1255.2 1071.0 L1255.3 1071.0 L1255.4 1071.1 L1255.5 1071.1 L1255.6 1071.1 L1255.8 1071.1 L1255.9 1071.1 L1256.0 1071.1 L1256.1 1071.1 L1256.2 1071.2 L1256.3 1071.2 L1256.5 1071.2 L1256.6 1071.2 L1256.7 1071.2 L1256.8 1071.2 L1256.9 1071.3 L1257.0 1071.3 L1257.1 1071.3 L1257.3 1071.3 L1257.4 1071.3 L1257.5 1071.4 L1257.6 1071.4 L1257.7 1071.4 L1257.8 1071.4 L1258.0 1071.4 L1258.1 1071.5 L1258.2 1071.5 L1258.3 1071.5 L1258.4 1071.5 L1258.5 1071.6 L1258.6 1071.6 L1258.8 1071.6 L1258.9 1071.7 L1259.0 1071.7 L1259.1 1071.7 L1259.2 1071.8 L1259.3 1071.8 L1259.5 1071.8 L1259.6 1071.7 L1259.7 1071.7 L1259.8 1071.6 L1259.9 1071.6 L1260.0 1071.5 L1260.1 1071.5 L1260.3 1071.4 L1260.4 1071.4 L1260.5 1071.4 L1260.6 1071.3 L1260.7 1071.3 L1260.8 1071.2 L1261.0 1071.2 L1261.1 1071.2 L1261.2 1071.1 L1261.3 1071.1 L1261.4 1071.1 L1261.5 1071.0 L1261.6 1071.0 L1261.8 1071.0 L1261.9 1070.9 L1262.0 1070.9 L1262.1 1070.9 L1262.2 1070.8 L1262.3 1070.8 L1262.5 1070.8 L1262.6 1070.7 L1262.7 1070.7 L1262.8 1070.7 L1262.9 1070.6 L1263.0 1070.6 L1263.1 1070.6 L1263.3 1070.5 L1263.4 1070.5 L1263.5 1070.5 L1263.6 1070.4 L1263.7 1070.4 L1263.8 1070.4 L1264.0 1070.3 L1264.1 1070.3 L1264.2 1070.3 L1264.3 1070.3 L1264.4 1070.2 L1264.5 1070.2 L1264.6 1070.2 L1264.8 1070.1 L1264.9 1070.1 L1265.0 1070.1 L1265.1 1070.0 L1265.2 1070.0 L1265.3 1070.0 L1265.4 1070.0 L1265.6 1069.9 L1265.7 1069.9 L1265.8 1069.9 L1265.9 1069.8 L1266.0 1069.8 L1266.1 1069.8 L1266.3 1069.7 L1266.4 1069.7 L1266.5 1069.7 L1266.6 1069.7 L1266.7 1069.6 L1266.8 1069.6 L1266.9 1069.6 L1267.1 1069.5 L1267.2 1069.5 L1267.3 1069.5 L1267.4 1069.4 L1267.5 1069.4 L1267.6 1069.4 L1267.8 1069.4 L1267.9 1069.3 L1268.0 1069.3 L1268.1 1069.3 L1268.2 1069.2 L1268.3 1069.2 L1268.4 1069.2 L1268.6 1069.2 L1268.7 1069.1 L1268.8 1069.1 L1268.9 1069.1 L1269.0 1069.0 L1269.1 1069.0 L1269.3 1069.0 L1269.4 1069.0 L1269.5 1068.9 L1269.6 1068.9 L1269.7 1068.9 L1269.8 1068.9 L1269.9 1068.8 L1270.1 1068.8 L1270.2 1068.8 L1270.3 1068.7 L1270.4 1068.7 L1270.5 1068.7 L1270.6 1068.7 L1270.8 1068.6 L1270.9 1068.6 L1271.0 1068.6 L1271.1 1068.6 L1271.2 1068.5 L1271.3 1068.5 L1271.4 1068.5 L1271.6 1068.5 L1271.7 1068.4 L1271.8 1068.4 L1271.9 1068.4 L1272.0 1068.4 L1272.1 1068.3 L1272.3 1068.3 L1272.4 1068.3 L1272.5 1068.3 L1272.6 1068.2 L1272.7 1068.2 L1272.8 1068.2 L1272.9 1068.2 L1273.1 1068.1 L1273.2 1068.1 L1273.3 1068.1 L1273.4 1068.1 L1273.5 1068.1 L1273.6 1068.0 L1273.8 1068.0 L1273.9 1068.0 L1274.0 1068.0 L1274.1 1067.9 L1274.2 1067.9 L1274.3 1067.9 L1274.4 1067.9 L1274.6 1067.9 L1274.7 1067.8 L1274.8 1067.8 L1274.9 1067.8 L1275.0 1067.8 L1275.1 1067.8 L1275.3 1067.7 L1275.4 1067.7 L1275.5 1067.7 L1275.6 1067.7 L1275.7 1067.7 L1275.8 1067.6 L1275.9 1067.6 L1276.1 1067.6 L1276.2 1067.6 L1276.3 1067.6 L1276.4 1067.6 L1276.5 1067.5 L1276.6 1067.5 L1276.7 1067.5 L1276.9 1067.5 L1277.0 1067.5 L1277.1 1067.5 L1277.2 1067.4 L1277.3 1067.4 L1277.4 1067.4 L1277.6 1067.4 L1277.7 1067.4 L1277.8 1067.4 L1277.9 1067.4 L1278.0 1067.3 L1278.1 1067.3 L1278.2 1067.3 L1278.4 1067.3 L1278.5 1067.3 L1278.6 1067.3 L1278.7 1067.3 L1278.8 1067.3 L1278.9 1067.3 L1279.1 1067.2 L1279.2 1067.2 L1279.3 1067.2 L1279.4 1067.2 L1279.5 1067.2 L1279.6 1067.2 L1279.7 1067.2 L1279.9 1067.2 L1280.0 1067.2 L1280.1 1067.2 L1280.2 1067.2 L1280.3 1067.2 L1280.4 1067.1 L1280.6 1067.1 L1280.7 1067.1 L1280.8 1067.1 L1280.9 1067.1 L1281.0 1067.1 L1281.1 1067.1 L1281.2 1067.1 L1281.4 1067.1 L1281.5 1067.1 L1281.6 1067.1 L1281.7 1067.1 L1281.8 1067.1 L1281.9 1067.1 L1282.1 1067.1 L1282.2 1067.1 L1282.3 1067.1 L1282.4 1067.1 L1282.5 1067.1 L1282.6 1067.1 L1282.7 1067.1 L1282.9 1067.1 L1283.0 1067.1 L1283.1 1067.1 L1283.2 1067.1 L1283.3 1067.1 L1283.4 1067.1 L1283.6 1067.1 L1283.7 1067.1 L1283.8 1067.1 L1283.9 1067.1 L1284.0 1067.1 L1284.1 1067.1 L1284.2 1067.1 L1284.4 1067.1 L1284.5 1067.1 L1284.6 1067.1 L1284.7 1067.1 L1284.8 1067.1 L1284.9 1067.1 L1285.1 1067.1 L1285.2 1067.1 L1285.3 1067.2 L1285.4 1067.2 L1285.5 1067.2 L1285.6 1067.2 L1285.7 1067.2 L1285.9 1067.2 L1286.0 1067.2 L1286.1 1067.2 L1286.2 1067.2 L1286.3 1067.2 L1286.4 1067.2 L1286.6 1067.3 L1286.7 1067.3 L1286.8 1067.3 L1286.9 1067.3 L1287.0 1067.3 L1287.1 1067.3 L1287.2 1067.3 L1287.4 1067.3 L1287.5 1067.4 L1287.6 1067.4 L1287.7 1067.4 L1287.8 1067.4 L1287.9 1067.4 L1288.1 1067.4 L1288.2 1067.4 L1288.3 1067.5 L1288.4 1067.5 L1288.5 1067.5 L1288.6 1067.5 L1288.7 1067.5 L1288.9 1067.6 L1289.0 1067.6 L1289.1 1067.6 L1289.2 1067.6 L1289.3 1067.6 L1289.4 1067.7 L1289.5 1067.7 L1289.7 1067.7 L1289.8 1067.7 L1289.9 1067.8 L1290.0 1067.8 L1290.1 1067.8 L1290.2 1067.8 L1290.4 1067.9 L1290.5 1067.9 L1290.6 1067.9 L1290.7 1068.0 L1290.8 1068.0 L1290.9 1068.0 L1291.0 1068.1 L1291.2 1068.1 L1291.3 1068.2 L1291.4 1068.2 L1291.5 1068.2 L1291.6 1068.3 L1291.7 1068.4 L1291.9 1068.4 L1292.0 1068.5 L1292.1 1068.4 L1292.2 1068.3 L1292.3 1068.2 L1292.4 1068.1 L1292.5 1068.1 L1292.7 1068.0 L1292.8 1067.9 L1292.9 1067.9 L1293.0 1067.8 L1293.1 1067.8 L1293.2 1067.7 L1293.4 1067.7 L1293.5 1067.6 L1293.6 1067.5 L1293.7 1067.5 L1293.8 1067.4 L1293.9 1067.4 L1294.0 1067.3 L1294.2 1067.3 L1294.3 1067.3 L1294.4 1067.2 L1294.5 1067.2 L1294.6 1067.1 L1294.7 1067.1 L1294.9 1067.0 L1295.0 1067.0 L1295.1 1066.9 L1295.2 1066.9 L1295.3 1066.8 L1295.4 1066.8 L1295.5 1066.8 L1295.7 1066.7 L1295.8 1066.7 L1295.9 1066.6 L1296.0 1066.6 L1296.1 1066.6 L1296.2 1066.5 L1296.4 1066.5 L1296.5 1066.4 L1296.6 1066.4 L1296.7 1066.4 L1296.8 1066.3 L1296.9 1066.3 L1297.0 1066.3 L1297.2 1066.2 L1297.3 1066.2 L1297.4 1066.1 L1297.5 1066.1 L1297.6 1066.1 L1297.7 1066.0 L1297.9 1066.0 L1298.0 1066.0 L1298.1 1065.9 L1298.2 1065.9 L1298.3 1065.9 L1298.4 1065.8 L1298.5 1065.8 L1298.7 1065.8 L1298.8 1065.7 L1298.9 1065.7 L1299.0 1065.7 L1299.1 1065.7 L1299.2 1065.6 L1299.4 1065.6 L1299.5 1065.6 L1299.6 1065.5 L1299.7 1065.5 L1299.8 1065.5 L1299.9 1065.5 L1300.0 1065.4 L1300.2 1065.4 L1300.3 1065.4 L1300.4 1065.4 L1300.5 1065.3 L1300.6 1065.3 L1300.7 1065.3 L1300.9 1065.3 L1301.0 1065.2 L1301.1 1065.2 L1301.2 1065.2 L1301.3 1065.2 L1301.4 1065.1 L1301.5 1065.1 L1301.7 1065.1 L1301.8 1065.1 L1301.9 1065.1 L1302.0 1065.0 L1302.1 1065.0 L1302.2 1065.0 L1302.3 1065.0 L1302.5 1065.0 L1302.6 1065.0 L1302.7 1064.9 L1302.8 1064.9 L1302.9 1064.9 L1303.0 1064.9 L1303.2 1064.9 L1303.3 1064.9 L1303.4 1064.8 L1303.5 1064.8 L1303.6 1064.8 L1303.7 1064.8 L1303.8 1064.8 L1304.0 1064.8 L1304.1 1064.8 L1304.2 1064.8 L1304.3 1064.8 L1304.4 1064.8 L1304.5 1064.7 L1304.7 1064.7 L1304.8 1064.7 L1304.9 1064.7 L1305.0 1064.7 L1305.1 1064.7 L1305.2 1064.7 L1305.3 1064.7 L1305.5 1064.7 L1305.6 1064.7 L1305.7 1064.7 L1305.8 1064.7 L1305.9 1064.7 L1306.0 1064.7 L1306.2 1064.7 L1306.3 1064.7 L1306.4 1064.7 L1306.5 1064.7 L1306.6 1064.7 L1306.7 1064.7 L1306.8 1064.7 L1307.0 1064.7 L1307.1 1064.7 L1307.2 1064.7 L1307.3 1064.7 L1307.4 1064.7 L1307.5 1064.7 L1307.7 1064.7 L1307.8 1064.7 L1307.9 1064.7 L1308.0 1064.7 L1308.1 1064.7 L1308.2 1064.8 L1308.3 1064.8 L1308.5 1064.8 L1308.6 1064.8 L1308.7 1064.8 L1308.8 1064.8 L1308.9 1064.8 L1309.0 1064.8 L1309.2 1064.8 L1309.3 1064.9 L1309.4 1064.9 L1309.5 1064.9 L1309.6 1064.9 L1309.7 1064.9 L1309.8 1064.9 L1310.0 1065.0 L1310.1 1065.0 L1310.2 1065.0 L1310.3 1065.0 L1310.4 1065.0 L1310.5 1065.1 L1310.7 1065.1 L1310.8 1065.1 L1310.9 1065.1 L1311.0 1065.2 L1311.1 1065.2 L1311.2 1065.2 L1311.3 1065.2 L1311.5 1065.3 L1311.6 1065.3 L1311.7 1065.3 L1311.8 1065.4 L1311.9 1065.4 L1312.0 1065.4 L1312.2 1065.4 L1312.3 1065.5 L1312.4 1065.5 L1312.5 1065.5 L1312.6 1065.6 L1312.7 1065.6 L1312.8 1065.7 L1313.0 1065.7 L1313.1 1065.7 L1313.2 1065.8 L1313.3 1065.8 L1313.4 1065.9 L1313.5 1065.9 L1313.7 1066.0 L1313.8 1066.0 L1313.9 1066.1 L1314.0 1066.1 L1314.1 1066.2 L1314.2 1066.2 L1314.3 1066.3 L1314.5 1066.4 L1314.6 1066.4 L1314.7 1066.5 L1314.8 1066.7 L1314.9 1066.6 L1315.0 1066.5 L1315.1 1066.4 L1315.3 1066.3 L1315.4 1066.2 L1315.5 1066.1 L1315.6 1066.0 L1315.7 1066.0 L1315.8 1065.9 L1316.0 1065.8 L1316.1 1065.8 L1316.2 1065.7 L1316.3 1065.6 L1316.4 1065.6 L1316.5 1065.5 L1316.6 1065.4 L1316.8 1065.4 L1316.9 1065.3 L1317.0 1065.3 L1317.1 1065.2 L1317.2 1065.2 L1317.3 1065.1 L1317.5 1065.1 L1317.6 1065.0 L1317.7 1064.9 L1317.8 1064.9 L1317.9 1064.8 L1318.0 1064.8 L1318.1 1064.7 L1318.3 1064.7 L1318.4 1064.7 L1318.5 1064.6 L1318.6 1064.6 L1318.7 1064.5 L1318.8 1064.5 L1319.0 1064.4 L1319.1 1064.4 L1319.2 1064.3 L1319.3 1064.3 L1319.4 1064.3 L1319.5 1064.2 L1319.6 1064.2 L1319.8 1064.1 L1319.9 1064.1 L1320.0 1064.1 L1320.1 1064.0 L1320.2 1064.0 L1320.3 1064.0 L1320.5 1063.9 L1320.6 1063.9 L1320.7 1063.9 L1320.8 1063.8 L1320.9 1063.8 L1321.0 1063.8 L1321.1 1063.7 L1321.3 1063.7 L1321.4 1063.7 L1321.5 1063.6 L1321.6 1063.6 L1321.7 1063.6 L1321.8 1063.6 L1322.0 1063.5 L1322.1 1063.5 L1322.2 1063.5 L1322.3 1063.5 L1322.4 1063.4 L1322.5 1063.4 L1322.6 1063.4 L1322.8 1063.4 L1322.9 1063.4 L1323.0 1063.3 L1323.1 1063.3 L1323.2 1063.3 L1323.3 1063.3 L1323.5 1063.3 L1323.6 1063.3 L1323.7 1063.2 L1323.8 1063.2 L1323.9 1063.2 L1324.0 1063.2 L1324.1 1063.2 L1324.3 1063.2 L1324.4 1063.2 L1324.5 1063.2 L1324.6 1063.2 L1324.7 1063.2 L1324.8 1063.2 L1325.0 1063.1 L1325.1 1063.1 L1325.2 1063.1 L1325.3 1063.1 L1325.4 1063.1 L1325.5 1063.1 L1325.6 1063.1 L1325.8 1063.1 L1325.9 1063.1 L1326.0 1063.1 L1326.1 1063.1 L1326.2 1063.2 L1326.3 1063.2 L1326.5 1063.2 L1326.6 1063.2 L1326.7 1063.2 L1326.8 1063.2 L1326.9 1063.2 L1327.0 1063.2 L1327.1 1063.2 L1327.3 1063.2 L1327.4 1063.2 L1327.5 1063.3 L1327.6 1063.3 L1327.7 1063.3 L1327.8 1063.3 L1327.9 1063.3 L1328.1 1063.3 L1328.2 1063.4 L1328.3 1063.4 L1328.4 1063.4 L1328.5 1063.4 L1328.6 1063.5 L1328.8 1063.5 L1328.9 1063.5 L1329.0 1063.5 L1329.1 1063.6 L1329.2 1063.6 L1329.3 1063.6 L1329.4 1063.7 L1329.6 1063.7 L1329.7 1063.7 L1329.8 1063.8 L1329.9 1063.8 L1330.0 1063.8 L1330.1 1063.9 L1330.3 1063.9 L1330.4 1064.0 L1330.5 1064.0 L1330.6 1064.0 L1330.7 1064.1 L1330.8 1064.1 L1330.9 1064.2 L1331.1 1064.2 L1331.2 1064.3 L1331.3 1064.3 L1331.4 1064.4 L1331.5 1064.5 L1331.6 1064.5 L1331.8 1064.6 L1331.9 1064.7 L1332.0 1064.7 L1332.1 1064.8 L1332.2 1064.9 L1332.3 1065.0 L1332.4 1065.1 L1332.6 1065.2 L1332.7 1065.0 L1332.8 1064.9 L1332.9 1064.7 L1333.0 1064.6 L1333.1 1064.5 L1333.3 1064.4 L1333.4 1064.3 L1333.5 1064.3 L1333.6 1064.2 L1333.7 1064.1 L1333.8 1064.0 L1333.9 1063.9 L1334.1 1063.8 L1334.2 1063.8 L1334.3 1063.7 L1334.4 1063.6 L1334.5 1063.6 L1334.6 1063.5 L1334.8 1063.4 L1334.9 1063.3 L1335.0 1063.3 L1335.1 1063.2 L1335.2 1063.2 L1335.3 1063.1 L1335.4 1063.0 L1335.6 1063.0 L1335.7 1062.9 L1335.8 1062.8 L1335.9 1062.8 L1336.0 1062.7 L1336.1 1062.7 L1336.3 1062.6 L1336.4 1062.6 L1336.5 1062.5 L1336.6 1062.5 L1336.7 1062.4 L1336.8 1062.4 L1336.9 1062.3 L1337.1 1062.3 L1337.2 1062.2 L1337.3 1062.2 L1337.4 1062.1 L1337.5 1062.1 L1337.6 1062.1 L1337.8 1062.0 L1337.9 1062.0 L1338.0 1061.9 L1338.1 1061.9 L1338.2 1061.9 L1338.3 1061.8 L1338.4 1061.8 L1338.6 1061.8 L1338.7 1061.7 L1338.8 1061.7 L1338.9 1061.7 L1339.0 1061.7 L1339.1 1061.6 L1339.2 1061.6 L1339.4 1061.6 L1339.5 1061.6 L1339.6 1061.6 L1339.7 1061.5 L1339.8 1061.5 L1339.9 1061.5 L1340.1 1061.5 L1340.2 1061.5 L1340.3 1061.5 L1340.4 1061.4 L1340.5 1061.4 L1340.6 1061.4 L1340.7 1061.4 L1340.9 1061.4 L1341.0 1061.4 L1341.1 1061.4 L1341.2 1061.4 L1341.3 1061.4 L1341.4 1061.4 L1341.6 1061.4 L1341.7 1061.4 L1341.8 1061.4 L1341.9 1061.4 L1342.0 1061.4 L1342.1 1061.4 L1342.2 1061.4 L1342.4 1061.4 L1342.5 1061.5 L1342.6 1061.5 L1342.7 1061.5 L1342.8 1061.5 L1342.9 1061.5 L1343.1 1061.5 L1343.2 1061.6 L1343.3 1061.6 L1343.4 1061.6 L1343.5 1061.6 L1343.6 1061.7 L1343.7 1061.7 L1343.9 1061.7 L1344.0 1061.7 L1344.1 1061.8 L1344.2 1061.8 L1344.3 1061.9 L1344.4 1061.9 L1344.6 1061.9 L1344.7 1062.0 L1344.8 1062.0 L1344.9 1062.1 L1345.0 1062.1 L1345.1 1062.2 L1345.2 1062.2 L1345.4 1062.3 L1345.5 1062.3 L1345.6 1062.4 L1345.7 1062.4 L1345.8 1062.5 L1345.9 1062.6 L1346.1 1062.6 L1346.2 1062.7 L1346.3 1062.8 L1346.4 1062.9 L1346.5 1063.0 L1346.6 1063.1 L1346.7 1063.2 L1346.9 1063.3 L1347.0 1063.3 L1347.1 1063.1 L1347.2 1063.0 L1347.3 1062.9 L1347.4 1062.7 L1347.6 1062.6 L1347.7 1062.5 L1347.8 1062.4 L1347.9 1062.3 L1348.0 1062.2 L1348.1 1062.1 L1348.2 1062.0 L1348.4 1061.9 L1348.5 1061.8 L1348.6 1061.7 L1348.7 1061.6 L1348.8 1061.5 L1348.9 1061.5 L1349.1 1061.4 L1349.2 1061.3 L1349.3 1061.2 L1349.4 1061.1 L1349.5 1061.1 L1349.6 1061.0 L1349.7 1060.9 L1349.9 1060.9 L1350.0 1060.8 L1350.1 1060.7 L1350.2 1060.7 L1350.3 1060.6 L1350.4 1060.5 L1350.6 1060.5 L1350.7 1060.4 L1350.8 1060.4 L1350.9 1060.3 L1351.0 1060.3 L1351.1 1060.2 L1351.2 1060.2 L1351.4 1060.1 L1351.5 1060.1 L1351.6 1060.0 L1351.7 1060.0 L1351.8 1059.9 L1351.9 1059.9 L1352.0 1059.9 L1352.2 1059.8 L1352.3 1059.8 L1352.4 1059.8 L1352.5 1059.7 L1352.6 1059.7 L1352.7 1059.7 L1352.9 1059.6 L1353.0 1059.6 L1353.1 1059.6 L1353.2 1059.6 L1353.3 1059.6 L1353.4 1059.5 L1353.5 1059.5 L1353.7 1059.5 L1353.8 1059.5 L1353.9 1059.5 L1354.0 1059.5 L1354.1 1059.5 L1354.2 1059.5 L1354.4 1059.5 L1354.5 1059.5 L1354.6 1059.5 L1354.7 1059.5 L1354.8 1059.5 L1354.9 1059.5 L1355.0 1059.5 L1355.2 1059.5 L1355.3 1059.5 L1355.4 1059.6 L1355.5 1059.6 L1355.6 1059.6 L1355.7 1059.6 L1355.9 1059.7 L1356.0 1059.7 L1356.1 1059.7 L1356.2 1059.7 L1356.3 1059.8 L1356.4 1059.8 L1356.5 1059.8 L1356.7 1059.9 L1356.8 1059.9 L1356.9 1060.0 L1357.0 1060.0 L1357.1 1060.1 L1357.2 1060.1 L1357.4 1060.2 L1357.5 1060.2 L1357.6 1060.3 L1357.7 1060.4 L1357.8 1060.4 L1357.9 1060.5 L1358.0 1060.6 L1358.2 1060.6 L1358.3 1060.7 L1358.4 1060.8 L1358.5 1060.9 L1358.6 1061.0 L1358.7 1061.1 L1358.9 1061.3 L1359.0 1061.4 L1359.1 1061.6 L1359.2 1061.3 L1359.3 1061.1 L1359.4 1061.0 L1359.5 1060.8 L1359.7 1060.7 L1359.8 1060.6 L1359.9 1060.4 L1360.0 1060.3 L1360.1 1060.2 L1360.2 1060.1 L1360.4 1060.0 L1360.5 1059.9 L1360.6 1059.8 L1360.7 1059.7 L1360.8 1059.6 L1360.9 1059.5 L1361.0 1059.4 L1361.2 1059.3 L1361.3 1059.2 L1361.4 1059.1 L1361.5 1059.0 L1361.6 1059.0 L1361.7 1058.9 L1361.9 1058.8 L1362.0 1058.7 L1362.1 1058.7 L1362.2 1058.6 L1362.3 1058.5 L1362.4 1058.5 L1362.5 1058.4 L1362.7 1058.3 L1362.8 1058.3 L1362.9 1058.2 L1363.0 1058.2 L1363.1 1058.1 L1363.2 1058.1 L1363.4 1058.0 L1363.5 1058.0 L1363.6 1057.9 L1363.7 1057.9 L1363.8 1057.9 L1363.9 1057.8 L1364.0 1057.8 L1364.2 1057.8 L1364.3 1057.8 L1364.4 1057.7 L1364.5 1057.7 L1364.6 1057.7 L1364.7 1057.7 L1364.8 1057.7 L1365.0 1057.7 L1365.1 1057.6 L1365.2 1057.6 L1365.3 1057.6 L1365.4 1057.6 L1365.5 1057.6 L1365.7 1057.6 L1365.8 1057.6 L1365.9 1057.7 L1366.0 1057.7 L1366.1 1057.7 L1366.2 1057.7 L1366.3 1057.7 L1366.5 1057.7 L1366.6 1057.8 L1366.7 1057.8 L1366.8 1057.8 L1366.9 1057.9 L1367.0 1057.9 L1367.2 1057.9 L1367.3 1058.0 L1367.4 1058.0 L1367.5 1058.1 L1367.6 1058.1 L1367.7 1058.2 L1367.8 1058.3 L1368.0 1058.3 L1368.1 1058.4 L1368.2 1058.5 L1368.3 1058.5 L1368.4 1058.6 L1368.5 1058.7 L1368.7 1058.8 L1368.8 1058.9 L1368.9 1059.0 L1369.0 1059.1 L1369.1 1059.2 L1369.2 1059.3 L1369.3 1059.4 L1369.5 1059.6 L1369.6 1059.9 L1369.7 1059.6 L1369.8 1059.4 L1369.9 1059.2 L1370.0 1059.0 L1370.2 1058.9 L1370.3 1058.7 L1370.4 1058.6 L1370.5 1058.4 L1370.6 1058.3 L1370.7 1058.2 L1370.8 1058.1 L1371.0 1058.0 L1371.1 1057.8 L1371.2 1057.7 L1371.3 1057.6 L1371.4 1057.5 L1371.5 1057.4 L1371.7 1057.3 L1371.8 1057.2 L1371.9 1057.2 L1372.0 1057.1 L1372.1 1057.0 L1372.2 1056.9 L1372.3 1056.8 L1372.5 1056.8 L1372.6 1056.7 L1372.7 1056.6 L1372.8 1056.6 L1372.9 1056.5 L1373.0 1056.4 L1373.2 1056.4 L1373.3 1056.3 L1373.4 1056.3 L1373.5 1056.2 L1373.6 1056.2 L1373.7 1056.2 L1373.8 1056.1 L1374.0 1056.1 L1374.1 1056.1 L1374.2 1056.0 L1374.3 1056.0 L1374.4 1056.0 L1374.5 1056.0 L1374.7 1056.0 L1374.8 1055.9 L1374.9 1055.9 L1375.0 1055.9 L1375.1 1055.9 L1375.2 1055.9 L1375.3 1055.9 L1375.5 1056.0 L1375.6 1056.0 L1375.7 1056.0 L1375.8 1056.0 L1375.9 1056.0 L1376.0 1056.1 L1376.2 1056.1 L1376.3 1056.1 L1376.4 1056.2 L1376.5 1056.2 L1376.6 1056.3 L1376.7 1056.3 L1376.8 1056.4 L1377.0 1056.4 L1377.1 1056.5 L1377.2 1056.5 L1377.3 1056.6 L1377.4 1056.7 L1377.5 1056.8 L1377.6 1056.9 L1377.8 1056.9 L1377.9 1057.0 L1378.0 1057.1 L1378.1 1057.2 L1378.2 1057.4 L1378.3 1057.5 L1378.5 1057.6 L1378.6 1057.8 L1378.7 1057.9 L1378.8 1058.2 L1378.9 1058.1 L1379.0 1057.8 L1379.1 1057.6 L1379.3 1057.4 L1379.4 1057.2 L1379.5 1057.1 L1379.6 1056.9 L1379.7 1056.8 L1379.8 1056.6 L1380.0 1056.5 L1380.1 1056.4 L1380.2 1056.3 L1380.3 1056.1 L1380.4 1056.0 L1380.5 1055.9 L1380.6 1055.8 L1380.8 1055.7 L1380.9 1055.6 L1381.0 1055.5 L1381.1 1055.4 L1381.2 1055.3 L1381.3 1055.2 L1381.5 1055.2 L1381.6 1055.1 L1381.7 1055.0 L1381.8 1054.9 L1381.9 1054.9 L1382.0 1054.8 L1382.1 1054.8 L1382.3 1054.7 L1382.4 1054.7 L1382.5 1054.6 L1382.6 1054.6 L1382.7 1054.5 L1382.8 1054.5 L1383.0 1054.5 L1383.1 1054.5 L1383.2 1054.5 L1383.3 1054.4 L1383.4 1054.4 L1383.5 1054.4 L1383.6 1054.4 L1383.8 1054.4 L1383.9 1054.4 L1384.0 1054.4 L1384.1 1054.5 L1384.2 1054.5 L1384.3 1054.5 L1384.5 1054.5 L1384.6 1054.6 L1384.7 1054.6 L1384.8 1054.6 L1384.9 1054.7 L1385.0 1054.7 L1385.1 1054.8 L1385.3 1054.9 L1385.4 1054.9 L1385.5 1055.0 L1385.6 1055.1 L1385.7 1055.2 L1385.8 1055.2 L1386.0 1055.3 L1386.1 1055.4 L1386.2 1055.5 L1386.3 1055.6 L1386.4 1055.8 L1386.5 1055.9 L1386.6 1056.0 L1386.8 1056.2 L1386.9 1056.4 L1387.0 1056.6 L1387.1 1056.9 L1387.2 1056.6 L1387.3 1056.3 L1387.5 1056.1 L1387.6 1055.9 L1387.7 1055.7 L1387.8 1055.5 L1387.9 1055.4 L1388.0 1055.2 L1388.1 1055.1 L1388.3 1054.9 L1388.4 1054.8 L1388.5 1054.7 L1388.6 1054.6 L1388.7 1054.4 L1388.8 1054.3 L1389.0 1054.2 L1389.1 1054.1 L1389.2 1054.0 L1389.3 1053.9 L1389.4 1053.8 L1389.5 1053.7 L1389.6 1053.7 L1389.8 1053.6 L1389.9 1053.5 L1390.0 1053.5 L1390.1 1053.4 L1390.2 1053.3 L1390.3 1053.3 L1390.4 1053.3 L1390.6 1053.2 L1390.7 1053.2 L1390.8 1053.2 L1390.9 1053.1 L1391.0 1053.1 L1391.1 1053.1 L1391.3 1053.1 L1391.4 1053.1 L1391.5 1053.1 L1391.6 1053.1 L1391.7 1053.1 L1391.8 1053.1 L1391.9 1053.2 L1392.1 1053.2 L1392.2 1053.2 L1392.3 1053.3 L1392.4 1053.3 L1392.5 1053.4 L1392.6 1053.4 L1392.8 1053.5 L1392.9 1053.6 L1393.0 1053.6 L1393.1 1053.7 L1393.2 1053.8 L1393.3 1053.9 L1393.4 1054.0 L1393.6 1054.1 L1393.7 1054.2 L1393.8 1054.4 L1393.9 1054.5 L1394.0 1054.7 L1394.1 1054.8 L1394.3 1055.0 L1394.4 1055.2 L1394.5 1055.4 L1394.6 1055.8 L1394.7 1055.4 L1394.8 1055.1 L1394.9 1054.9 L1395.1 1054.7 L1395.2 1054.5 L1395.3 1054.3 L1395.4 1054.1 L1395.5 1053.9 L1395.6 1053.8 L1395.8 1053.6 L1395.9 1053.5 L1396.0 1053.3 L1396.1 1053.2 L1396.2 1053.1 L1396.3 1053.0 L1396.4 1052.9 L1396.6 1052.8 L1396.7 1052.7 L1396.8 1052.6 L1396.9 1052.5 L1397.0 1052.4 L1397.1 1052.3 L1397.3 1052.2 L1397.4 1052.2 L1397.5 1052.1 L1397.6 1052.1 L1397.7 1052.0 L1397.8 1052.0 L1397.9 1052.0 L1398.1 1051.9 L1398.2 1051.9 L1398.3 1051.9 L1398.4 1051.9 L1398.5 1051.9 L1398.6 1051.9 L1398.8 1051.9 L1398.9 1052.0 L1399.0 1052.0 L1399.1 1052.0 L1399.2 1052.1 L1399.3 1052.1 L1399.4 1052.2 L1399.6 1052.3 L1399.7 1052.3 L1399.8 1052.4 L1399.9 1052.5 L1400.0 1052.6 L1400.1 1052.7 L1400.3 1052.8 L1400.4 1052.9 L1400.5 1053.1 L1400.6 1053.2 L1400.7 1053.4 L1400.8 1053.5 L1400.9 1053.7 L1401.1 1053.9 L1401.2 1054.1 L1401.3 1054.4 L1401.4 1054.7 L1401.5 1054.4 L1401.6 1054.1 L1401.7 1053.8 L1401.9 1053.6 L1402.0 1053.4 L1402.1 1053.2 L1402.2 1053.0 L1402.3 1052.8 L1402.4 1052.6 L1402.6 1052.5 L1402.7 1052.3 L1402.8 1052.2 L1402.9 1052.0 L1403.0 1051.9 L1403.1 1051.8 L1403.2 1051.6 L1403.4 1051.5 L1403.5 1051.4 L1403.6 1051.3 L1403.7 1051.3 L1403.8 1051.2 L1403.9 1051.1 L1404.1 1051.0 L1404.2 1051.0 L1404.3 1050.9 L1404.4 1050.9 L1404.5 1050.9 L1404.6 1050.8 L1404.7 1050.8 L1404.9 1050.8 L1405.0 1050.8 L1405.1 1050.8 L1405.2 1050.9 L1405.3 1050.9 L1405.4 1050.9 L1405.6 1051.0 L1405.7 1051.0 L1405.8 1051.1 L1405.9 1051.1 L1406.0 1051.2 L1406.1 1051.3 L1406.2 1051.4 L1406.4 1051.5 L1406.5 1051.6 L1406.6 1051.8 L1406.7 1051.9 L1406.8 1052.0 L1406.9 1052.2 L1407.1 1052.4 L1407.2 1052.6 L1407.3 1052.8 L1407.4 1053.0 L1407.5 1053.3 L1407.6 1053.6 L1407.7 1053.6 L1407.9 1053.3 L1408.0 1052.9 L1408.1 1052.7 L1408.2 1052.4 L1408.3 1052.2 L1408.4 1052.0 L1408.6 1051.8 L1408.7 1051.6 L1408.8 1051.4 L1408.9 1051.2 L1409.0 1051.1 L1409.1 1050.9 L1409.2 1050.8 L1409.4 1050.6 L1409.5 1050.5 L1409.6 1050.4 L1409.7 1050.3 L1409.8 1050.2 L1409.9 1050.1 L1410.1 1050.0 L1410.2 1049.9 L1410.3 1049.9 L1410.4 1049.8 L1410.5 1049.8 L1410.6 1049.8 L1410.7 1049.8 L1410.9 1049.7 L1411.0 1049.7 L1411.1 1049.8 L1411.2 1049.8 L1411.3 1049.8 L1411.4 1049.9 L1411.6 1049.9 L1411.7 1050.0 L1411.8 1050.1 L1411.9 1050.1 L1412.0 1050.2 L1412.1 1050.3 L1412.2 1050.5 L1412.4 1050.6 L1412.5 1050.7 L1412.6 1050.9 L1412.7 1051.1 L1412.8 1051.2 L1412.9 1051.4 L1413.1 1051.7 L1413.2 1051.9 L1413.3 1052.2 L1413.4 1052.5 L1413.5 1052.9 L1413.6 1052.4 L1413.7 1052.0 L1413.9 1051.7 L1414.0 1051.4 L1414.1 1051.2 L1414.2 1050.9 L1414.3 1050.7 L1414.4 1050.5 L1414.5 1050.3 L1414.7 1050.1 L1414.8 1049.9 L1414.9 1049.8 L1415.0 1049.6 L1415.1 1049.5 L1415.2 1049.3 L1415.4 1049.2 L1415.5 1049.1 L1415.6 1049.0 L1415.7 1048.9 L1415.8 1048.9 L1415.9 1048.8 L1416.0 1048.7 L1416.2 1048.7 L1416.3 1048.7 L1416.4 1048.7 L1416.5 1048.7 L1416.6 1048.7 L1416.7 1048.7 L1416.9 1048.7 L1417.0 1048.8 L1417.1 1048.8 L1417.2 1048.9 L1417.3 1049.0 L1417.4 1049.1 L1417.5 1049.2 L1417.7 1049.3 L1417.8 1049.5 L1417.9 1049.6 L1418.0 1049.8 L1418.1 1050.0 L1418.2 1050.2 L1418.4 1050.4 L1418.5 1050.6 L1418.6 1050.9 L1418.7 1051.2 L1418.8 1051.5 L1418.9 1051.8 L1419.0 1051.3 L1419.2 1050.9 L1419.3 1050.6 L1419.4 1050.3 L1419.5 1050.0 L1419.6 1049.8 L1419.7 1049.5 L1419.9 1049.3 L1420.0 1049.1 L1420.1 1048.9 L1420.2 1048.7 L1420.6 1048.3 L1423.1 1046.3 L1424.8 1050.3 L1426.2 1047.5 L1427.9 1049.1 L1429.1 1045.8 L1430.8 1046.0 L1432.7 1041.8 L1434.1 1047.5 L1435.6 1046.3 L1436.7 1047.2 L1438.1 1043.5 L1439.5 1044.6 L1441.5 1038.4 L1442.9 1044.1 L1444.3 1046.3 L1445.7 1042.4 L1446.8 1045.5 L1449.1 1037.3 L1451.4 1045.8 L1452.5 1042.4 L1453.6 1046.0 L1455.0 1043.5 L1456.2 1040.1 L1457.3 1043.5 L1458.7 1043.8 L1460.4 1047.2 L1462.4 1042.7 L1463.5 1045.5 L1465.2 1046.0" fill="none" stroke="#ff0000" stroke-width="1.20" stroke-linejoin="round" stroke-linecap="round"/>
<path d="M1466.2 1045.6 L1466.7 1046.2" fill="none" stroke="#ff0000" stroke-width="1.50" stroke-linejoin="round" stroke-linecap="round"/>
<path d="M1466.7 1046.2 L1467.2 1046.7" fill="none" stroke="#ff0000" stroke-width="2.10" stroke-linejoin="round" stroke-linecap="round"/>
<path d="M1467.2 1046.7 L1467.6 1047.0 L1468.1 1047.2 L1468.5 1047.5 L1469.0 1047.7 L1469.4 1048.0 L1469.8 1048.2 L1470.3 1048.5 L1470.7 1048.8 L1471.1 1049.0 L1471.6 1049.3 L1472.0 1049.5 L1472.5 1049.8 L1472.9 1050.1 L1473.3 1050.3 L1473.8 1050.6 L1474.2 1050.8 L1474.7 1051.1" fill="none" stroke="#ff0000" stroke-width="2.70" stroke-linejoin="round" stroke-linecap="round"/>
<path d="M1474.7 1051.1 L1475.1 1051.3 L1475.5 1051.6 L1476.0 1051.9 L1476.4 1052.1 L1476.8 1052.4 L1477.3 1052.6 L1477.7 1052.9 L1478.2 1053.1 L1478.6 1053.4 L1479.0 1053.7 L1479.5 1053.9 L1479.9 1054.2 L1480.4 1054.5 L1480.8 1054.7 L1481.3 1055.0 L1481.7 1055.3 L1482.1 1055.6 L1482.6 1055.8 L1483.0 1056.1 L1483.5 1056.4 L1483.9 1056.6 L1484.3 1056.9 L1484.8 1057.2 L1485.2 1057.4 L1485.7 1057.7 L1486.1 1058.0 L1486.6 1058.2 L1487.0 1058.5 L1487.4 1058.8 L1487.9 1059.1 L1488.3 1059.3 L1488.8 1059.6 L1489.2 1059.9 L1489.7 1060.1 L1490.1 1060.4 L1490.5 1060.7 L1490.9 1061.0 L1491.4 1061.3 L1491.8 1061.6 L1492.2 1061.9 L1492.6 1062.2" fill="none" stroke="#ff0000" stroke-width="3.00" stroke-linejoin="round" stroke-linecap="round"/>
<path d="M1492.6 1062.2 L1493.0 1062.5 L1493.5 1062.8 L1493.9 1063.1 L1494.3 1063.4 L1494.7 1063.7 L1495.2 1064.0 L1495.6 1064.3 L1496.0 1064.6 L1496.3 1065.0" fill="none" stroke="#ff0000" stroke-width="2.70" stroke-linejoin="round" stroke-linecap="round"/>
<path d="M1496.3 1065.0 L1496.6 1065.5 L1496.9 1065.9 L1497.2 1066.4 L1497.5 1066.8 L1497.8 1067.3 L1498.1 1067.7" fill="none" stroke="#ff0000" stroke-width="2.40" stroke-linejoin="round" stroke-linecap="round"/>
<path d="M1498.1 1067.7 L1498.4 1068.2 L1498.7 1068.6 L1499.0 1069.1 L1499.3 1069.5 L1499.5 1070.0 L1499.6 1070.5" fill="none" stroke="#ff0000" stroke-width="2.10" stroke-linejoin="round" stroke-linecap="round"/>
<path d="M1499.6 1070.5 L1499.8 1071.0 L1500.0 1071.5 L1500.2 1072.0 L1500.3 1072.5 L1500.5 1073.0 L1500.7 1073.5" fill="none" stroke="#ff0000" stroke-width="1.80" stroke-linejoin="round" stroke-linecap="round"/>
<path d="M1500.7 1073.5 L1500.9 1074.0 L1501.0 1074.5 L1501.2 1075.0 L1501.3 1075.5 L1501.3 1076.0 L1501.4 1076.5 L1501.5 1077.0 L1501.5 1077.5 L1501.6 1078.0 L1501.7 1078.5 L1501.8 1079.0 L1501.8 1079.5 L1501.9 1080.0" fill="none" stroke="#ff0000" stroke-width="1.50" stroke-linejoin="round" stroke-linecap="round"/>
<path d="M1501.9 1080.0 L1502.0 1080.5 L1502.0 1081.0 L1502.1 1081.5" fill="none" stroke="#ff0000" stroke-width="1.20" stroke-linejoin="round" stroke-linecap="round"/>
<path d="M1571.6 1045.1 L1572.0 1044.3 L1572.4 1043.5 L1572.8 1042.7 L1573.2 1042.0 L1573.7 1041.2 L1574.1 1040.3 L1574.6 1039.5 L1575.0 1038.7 L1575.0 1038.7 L1575.4 1039.4 L1575.7 1040.1 L1576.1 1040.8 L1576.5 1041.5 L1576.8 1042.2 L1577.2 1042.9 L1577.5 1043.6 L1577.8 1044.2 L1578.2 1044.9Z" fill="#ff0000" stroke="#ff0000" stroke-width="0.8" stroke-linejoin="round"/>
<path d="M1600.2 1036.8 L1600.6 1036.0 L1600.9 1035.2 L1601.3 1034.4 L1601.6 1033.6 L1601.6 1033.6 L1601.9 1034.5 L1602.1 1035.4 L1602.4 1036.3 L1602.7 1037.1Z" fill="#ff0000" stroke="#ff0000" stroke-width="0.8" stroke-linejoin="round"/>
<path d="M1620.2 1038.1 L1620.5 1037.2 L1620.7 1036.4 L1620.7 1036.4 L1620.9 1037.2 L1621.1 1037.9 L1621.3 1038.6Z" fill="#ff0000" stroke="#ff0000" stroke-width="0.8" stroke-linejoin="round"/>
<path d="M1636.2 1032.8 L1636.4 1032.0 L1636.4 1032.0 L1636.6 1032.8Z" fill="#ff0000" stroke="#ff0000" stroke-width="0.8" stroke-linejoin="round"/>
<path d="M1649.7 1029.5 L1649.9 1028.6 L1649.9 1028.6 L1650.1 1029.5Z" fill="#ff0000" stroke="#ff0000" stroke-width="0.8" stroke-linejoin="round"/>
<path d="M1661.0 1029.5 L1661.2 1028.6 L1661.2 1028.6 L1661.3 1029.4Z" fill="#ff0000" stroke="#ff0000" stroke-width="0.8" stroke-linejoin="round"/>
<path d="M1502.1 1081.5 L1502.1 1081.3 L1502.2 1081.0 L1502.2 1080.5 L1502.3 1080.0 L1502.4 1079.4 L1502.5 1078.8 L1502.6 1078.1 L1502.7 1077.4 L1502.8 1076.7 L1502.9 1076.0 L1503.1 1075.4 L1503.2 1074.7 L1503.4 1074.0" fill="none" stroke="#ff0000" stroke-width="1.30" stroke-linejoin="round" stroke-linecap="round"/>
<path d="M1503.4 1074.0 L1503.5 1073.4 L1503.7 1072.8 L1503.9 1072.2 L1504.1 1071.7 L1504.3 1071.1" fill="none" stroke="#ff0000" stroke-width="1.50" stroke-linejoin="round" stroke-linecap="round"/>
<path d="M1504.3 1071.1 L1504.5 1070.6 L1504.7 1070.1 L1504.9 1069.7 L1505.1 1069.2 L1505.3 1068.8 L1505.5 1068.4" fill="none" stroke="#ff0000" stroke-width="1.80" stroke-linejoin="round" stroke-linecap="round"/>
<path d="M1505.5 1068.4 L1505.8 1068.0 L1506.0 1067.6 L1506.2 1067.3 L1506.5 1066.9 L1506.7 1066.6 L1507.0 1066.3 L1507.3 1065.9 L1507.5 1065.6 L1507.8 1065.3 L1508.1 1065.0" fill="none" stroke="#ff0000" stroke-width="2.10" stroke-linejoin="round" stroke-linecap="round"/>
<path d="M1508.1 1065.0 L1508.4 1064.7 L1508.7 1064.4 L1509.0 1064.0 L1509.3 1063.7 L1509.6 1063.4 L1509.9 1063.1 L1510.2 1062.8 L1510.5 1062.5 L1510.8 1062.2 L1511.1 1061.8 L1511.5 1061.5" fill="none" stroke="#ff0000" stroke-width="2.40" stroke-linejoin="round" stroke-linecap="round"/>
<path d="M1511.5 1061.5 L1511.8 1061.2 L1512.2 1060.9 L1512.5 1060.5 L1512.9 1060.2 L1513.2 1059.8 L1513.6 1059.5 L1513.9 1059.1 L1514.3 1058.8 L1514.7 1058.4 L1515.0 1058.1 L1515.4 1057.7 L1515.8 1057.3 L1516.2 1057.0 L1516.6 1056.6 L1517.0 1056.2 L1517.4 1055.8 L1517.8 1055.4 L1518.2 1055.1 L1518.6 1054.7 L1519.0 1054.3 L1519.4 1053.9 L1519.8 1053.5 L1520.3 1053.0 L1520.7 1052.6 L1521.1 1052.2 L1521.6 1051.8 L1522.0 1051.4 L1522.4 1050.9 L1522.9 1050.5 L1523.3 1050.1 L1523.8 1049.6 L1524.3 1049.2" fill="none" stroke="#ff0000" stroke-width="2.70" stroke-linejoin="round" stroke-linecap="round"/>
<path d="M1524.3 1049.2 L1524.7 1048.7 L1525.2 1048.3 L1525.7 1047.8 L1526.1 1047.4 L1526.6 1046.9 L1527.1 1046.5 L1527.6 1046.0 L1528.1 1045.5" fill="none" stroke="#ff0000" stroke-width="2.40" stroke-linejoin="round" stroke-linecap="round"/>
<path d="M1528.1 1045.5 L1528.5 1045.1 L1529.0 1044.6 L1529.5 1044.1 L1530.0 1043.6 L1530.5 1043.1 L1531.0 1042.7" fill="none" stroke="#ff0000" stroke-width="2.70" stroke-linejoin="round" stroke-linecap="round"/>
<path d="M1531.0 1042.7 L1531.6 1042.2 L1532.1 1041.7 L1532.6 1041.2 L1533.1 1040.7 L1533.6 1040.2 L1534.2 1039.7" fill="none" stroke="#ff0000" stroke-width="3.00" stroke-linejoin="round" stroke-linecap="round"/>
<path d="M1534.2 1039.7 L1534.7 1039.2 L1535.2 1038.6 L1535.8 1038.1 L1536.3 1037.6" fill="none" stroke="#ff0000" stroke-width="3.30" stroke-linejoin="round" stroke-linecap="round"/>
<path d="M1536.3 1037.6 L1536.8 1038.4 L1537.4 1039.1 L1537.9 1039.9" fill="none" stroke="#ff0000" stroke-width="3.30" stroke-linejoin="round" stroke-linecap="round"/>
<path d="M1537.9 1039.9 L1538.4 1040.6 L1539.0 1041.4 L1539.5 1042.1" fill="none" stroke="#ff0000" stroke-width="3.00" stroke-linejoin="round" stroke-linecap="round"/>
<path d="M1539.5 1042.1 L1540.0 1042.8 L1540.5 1043.6 L1541.0 1044.3" fill="none" stroke="#ff0000" stroke-width="2.70" stroke-linejoin="round" stroke-linecap="round"/>
<path d="M1541.0 1044.3 L1541.5 1045.0 L1542.0 1045.7 L1542.5 1046.4 L1543.0 1047.0 L1543.4 1047.7 L1543.9 1048.4 L1544.4 1049.0 L1544.8 1049.7 L1545.3 1050.3 L1545.7 1051.0 L1546.2 1051.6 L1546.6 1052.2 L1547.0 1052.8 L1547.5 1053.4" fill="none" stroke="#ff0000" stroke-width="2.40" stroke-linejoin="round" stroke-linecap="round"/>
<path d="M1547.5 1053.4 L1547.9 1054.0 L1548.3 1054.6 L1548.7 1055.1 L1549.1 1055.7 L1549.5 1056.3 L1549.9 1056.8 L1550.3 1057.4 L1550.6 1057.9 L1551.0 1058.4 L1551.4 1058.9 L1551.7 1059.4 L1552.1 1059.9 L1552.4 1060.4 L1552.7 1060.9 L1553.1 1061.4 L1553.4 1061.8 L1553.7 1062.3 L1554.0 1062.8" fill="none" stroke="#ff0000" stroke-width="2.10" stroke-linejoin="round" stroke-linecap="round"/>
<path d="M1554.0 1062.8 L1554.3 1063.2 L1554.6 1063.7 L1554.9 1064.1 L1555.1 1064.6 L1555.4 1065.1 L1555.7 1065.6 L1555.9 1066.1 L1556.1 1066.7 L1556.4 1067.3" fill="none" stroke="#ff0000" stroke-width="1.80" stroke-linejoin="round" stroke-linecap="round"/>
<path d="M1556.4 1067.3 L1556.6 1067.9 L1556.8 1068.6 L1557.0 1069.3 L1557.2 1070.1 L1557.4 1070.9 L1557.6 1071.8 L1557.7 1072.7" fill="none" stroke="#ff0000" stroke-width="1.50" stroke-linejoin="round" stroke-linecap="round"/>
<path d="M1557.7 1072.7 L1557.9 1073.7 L1558.0 1074.7 L1558.1 1075.8 L1558.2 1076.8 L1558.3 1077.7 L1558.4 1078.5 L1558.5 1079.2 L1558.5 1079.5" fill="none" stroke="#ff0000" stroke-width="1.30" stroke-linejoin="round" stroke-linecap="round"/>
<path d="M1558.5 1079.5 L1558.5 1079.0 L1558.6 1078.0 L1558.7 1076.8 L1558.8 1075.4 L1558.9 1074.1 L1559.1 1072.8 L1559.3 1071.6" fill="none" stroke="#ff0000" stroke-width="1.30" stroke-linejoin="round" stroke-linecap="round"/>
<path d="M1559.3 1071.6 L1559.4 1070.4 L1559.6 1069.4 L1559.8 1068.5 L1560.1 1067.6 L1560.3 1066.9" fill="none" stroke="#ff0000" stroke-width="1.50" stroke-linejoin="round" stroke-linecap="round"/>
<path d="M1560.3 1066.9 L1560.5 1066.2 L1560.8 1065.5 L1561.1 1064.9 L1561.3 1064.2 L1561.6 1063.6 L1561.9 1063.0 L1562.2 1062.4 L1562.6 1061.8 L1562.9 1061.2" fill="none" stroke="#ff0000" stroke-width="1.80" stroke-linejoin="round" stroke-linecap="round"/>
<path d="M1562.9 1061.2 L1563.2 1060.5 L1563.6 1059.9 L1563.9 1059.2 L1564.3 1058.5 L1564.7 1057.8 L1565.1 1057.1 L1565.5 1056.4 L1565.9 1055.6 L1566.3 1054.9 L1566.7 1054.1 L1567.1 1053.3 L1567.6 1052.5 L1568.0 1051.7 L1568.5 1050.8 L1568.9 1050.0 L1569.4 1049.1 L1569.9 1048.2 L1570.3 1047.3 L1570.8 1046.4 L1571.3 1045.5 L1571.8 1044.6 L1572.3 1043.6" fill="none" stroke="#ff0000" stroke-width="2.10" stroke-linejoin="round" stroke-linecap="round"/>
<path d="M1572.3 1043.6 L1572.9 1042.7 L1573.4 1041.7 L1573.9 1040.7 L1574.5 1039.7 L1575.0 1038.7" fill="none" stroke="#ff0000" stroke-width="2.40" stroke-linejoin="round" stroke-linecap="round"/>
<path d="M1575.0 1038.7" fill="none" stroke="#ff0000" stroke-width="2.70" stroke-linejoin="round" stroke-linecap="round"/>
<path d="M1575.0 1038.7 L1575.5 1039.8" fill="none" stroke="#ff0000" stroke-width="2.70" stroke-linejoin="round" stroke-linecap="round"/>
<path d="M1575.5 1039.8 L1576.1 1040.8 L1576.6 1041.8 L1577.1 1042.8" fill="none" stroke="#ff0000" stroke-width="2.40" stroke-linejoin="round" stroke-linecap="round"/>
<path d="M1577.1 1042.8 L1577.6 1043.8 L1578.1 1044.8 L1578.6 1045.7 L1579.1 1046.7 L1579.6 1047.6 L1580.1 1048.5" fill="none" stroke="#ff0000" stroke-width="2.10" stroke-linejoin="round" stroke-linecap="round"/>
<path d="M1580.1 1048.5 L1580.5 1049.4 L1581.0 1050.2 L1581.4 1051.1 L1581.8 1051.9 L1582.2 1052.7 L1582.6 1053.5 L1583.0 1054.3 L1583.4 1055.1 L1583.8 1055.8 L1584.2 1056.5 L1584.5 1057.2 L1584.9 1057.9 L1585.2 1058.5 L1585.5 1059.2 L1585.8 1059.8 L1586.1 1060.4 L1586.4 1061.1 L1586.7 1061.7" fill="none" stroke="#ff0000" stroke-width="1.80" stroke-linejoin="round" stroke-linecap="round"/>
<path d="M1586.7 1061.7 L1587.0 1062.4 L1587.2 1063.1 L1587.4 1064.0 L1587.7 1064.9 L1587.9 1065.9 L1588.0 1067.0 L1588.2 1068.3" fill="none" stroke="#ff0000" stroke-width="1.50" stroke-linejoin="round" stroke-linecap="round"/>
<path d="M1588.2 1068.3 L1588.4 1069.6 L1588.5 1071.1 L1588.6 1072.4 L1588.7 1073.5 L1588.7 1074.1" fill="none" stroke="#ff0000" stroke-width="1.30" stroke-linejoin="round" stroke-linecap="round"/>
<path d="M1588.7 1074.1 L1588.7 1073.3 L1588.8 1071.9 L1588.9 1070.2 L1589.1 1068.5 L1589.2 1066.8 L1589.4 1065.3" fill="none" stroke="#ff0000" stroke-width="1.30" stroke-linejoin="round" stroke-linecap="round"/>
<path d="M1589.4 1065.3 L1589.6 1064.0 L1589.8 1062.8 L1590.0 1061.8 L1590.3 1060.9 L1590.6 1060.0 L1590.8 1059.2" fill="none" stroke="#ff0000" stroke-width="1.50" stroke-linejoin="round" stroke-linecap="round"/>
<path d="M1590.8 1059.2 L1591.1 1058.4 L1591.4 1057.7 L1591.7 1056.9 L1592.1 1056.1 L1592.4 1055.2 L1592.8 1054.4 L1593.1 1053.5 L1593.5 1052.6 L1593.9 1051.7 L1594.3 1050.8 L1594.7 1049.8 L1595.2 1048.8 L1595.6 1047.8 L1596.0 1046.7 L1596.5 1045.6 L1597.0 1044.5 L1597.4 1043.4 L1597.9 1042.3 L1598.4 1041.1 L1598.9 1039.9 L1599.4 1038.7" fill="none" stroke="#ff0000" stroke-width="1.80" stroke-linejoin="round" stroke-linecap="round"/>
<path d="M1599.4 1038.7 L1600.0 1037.4 L1600.5 1036.2 L1601.0 1034.9 L1601.6 1033.6" fill="none" stroke="#ff0000" stroke-width="2.10" stroke-linejoin="round" stroke-linecap="round"/>
<path d="M1601.6 1033.6" fill="none" stroke="#ff0000" stroke-width="2.40" stroke-linejoin="round" stroke-linecap="round"/>
<path d="M1601.6 1033.6 L1602.2 1035.4" fill="none" stroke="#ff0000" stroke-width="2.40" stroke-linejoin="round" stroke-linecap="round"/>
<path d="M1602.2 1035.4 L1602.7 1037.2 L1603.2 1038.9 L1603.7 1040.6" fill="none" stroke="#ff0000" stroke-width="2.10" stroke-linejoin="round" stroke-linecap="round"/>
<path d="M1603.7 1040.6 L1604.2 1042.3 L1604.7 1043.9 L1605.2 1045.5 L1605.7 1047.0 L1606.1 1048.5 L1606.6 1050.0 L1607.0 1051.4 L1607.4 1052.7 L1607.8 1054.0 L1608.2 1055.3 L1608.6 1056.5 L1608.9 1057.7 L1609.2 1058.8 L1609.6 1059.9" fill="none" stroke="#ff0000" stroke-width="1.80" stroke-linejoin="round" stroke-linecap="round"/>
<path d="M1609.6 1059.9 L1609.9 1061.0 L1610.1 1062.1 L1610.4 1063.3 L1610.7 1064.6 L1610.9 1066.1 L1611.1 1067.8 L1611.3 1069.9" fill="none" stroke="#ff0000" stroke-width="1.50" stroke-linejoin="round" stroke-linecap="round"/>
<path d="M1611.3 1069.9 L1611.4 1072.2 L1611.6 1074.6 L1611.7 1076.8 L1611.7 1078.0" fill="none" stroke="#ff0000" stroke-width="1.30" stroke-linejoin="round" stroke-linecap="round"/>
<path d="M1611.7 1078.0 L1611.7 1076.6 L1611.8 1074.3 L1612.0 1071.8 L1612.2 1069.5" fill="none" stroke="#ff0000" stroke-width="1.30" stroke-linejoin="round" stroke-linecap="round"/>
<path d="M1612.2 1069.5 L1612.3 1067.5 L1612.6 1065.9 L1612.8 1064.5 L1613.1 1063.2 L1613.3 1062.1 L1613.7 1060.9 L1614.0 1059.8" fill="none" stroke="#ff0000" stroke-width="1.50" stroke-linejoin="round" stroke-linecap="round"/>
<path d="M1614.0 1059.8 L1614.3 1058.6 L1614.7 1057.3 L1615.0 1056.0 L1615.4 1054.7 L1615.8 1053.3 L1616.3 1051.8 L1616.7 1050.3 L1617.1 1048.7 L1617.6 1047.1 L1618.1 1045.4 L1618.6 1043.7 L1619.1 1042.0 L1619.6 1040.2 L1620.2 1038.3" fill="none" stroke="#ff0000" stroke-width="1.80" stroke-linejoin="round" stroke-linecap="round"/>
<path d="M1620.2 1038.3 L1620.7 1036.4" fill="none" stroke="#ff0000" stroke-width="2.10" stroke-linejoin="round" stroke-linecap="round"/>
<path d="M1620.7 1036.4 L1621.3 1038.3 L1621.8 1040.2" fill="none" stroke="#ff0000" stroke-width="2.10" stroke-linejoin="round" stroke-linecap="round"/>
<path d="M1621.8 1040.2 L1622.3 1042.0 L1622.8 1043.7 L1623.3 1045.4 L1623.8 1047.1 L1624.3 1048.7 L1624.7 1050.2 L1625.1 1051.7 L1625.5 1053.1 L1625.9 1054.4 L1626.3 1055.7 L1626.7 1056.9" fill="none" stroke="#ff0000" stroke-width="1.80" stroke-linejoin="round" stroke-linecap="round"/>
<path d="M1626.7 1056.9 L1627.0 1058.1 L1627.3 1059.2 L1627.6 1060.4 L1627.9 1061.7 L1628.1 1063.1 L1628.3 1064.9 L1628.5 1067.1" fill="none" stroke="#ff0000" stroke-width="1.50" stroke-linejoin="round" stroke-linecap="round"/>
<path d="M1628.5 1067.1 L1628.6 1069.6 L1628.7 1072.0 L1628.8 1073.5" fill="none" stroke="#ff0000" stroke-width="1.30" stroke-linejoin="round" stroke-linecap="round"/>
<path d="M1628.8 1073.5 L1628.9 1071.6 L1629.0 1068.6 L1629.1 1065.6 L1629.3 1063.1" fill="none" stroke="#ff0000" stroke-width="1.30" stroke-linejoin="round" stroke-linecap="round"/>
<path d="M1629.3 1063.1 L1629.6 1061.1 L1629.8 1059.5 L1630.1 1058.0 L1630.4 1056.6 L1630.8 1055.1 L1631.1 1053.6 L1631.5 1052.1" fill="none" stroke="#ff0000" stroke-width="1.50" stroke-linejoin="round" stroke-linecap="round"/>
<path d="M1631.5 1052.1 L1631.9 1050.4 L1632.3 1048.7" fill="none" stroke="#ff0000" stroke-width="1.80" stroke-linejoin="round" stroke-linecap="round"/>
<path d="M1632.3 1048.7 L1632.8 1046.9 L1633.2 1045.0 L1633.7 1043.0 L1634.2 1040.9 L1634.7 1038.8" fill="none" stroke="#ff0000" stroke-width="1.50" stroke-linejoin="round" stroke-linecap="round"/>
<path d="M1634.7 1038.8 L1635.3 1036.6 L1635.8 1034.3 L1636.4 1032.0" fill="none" stroke="#ff0000" stroke-width="1.80" stroke-linejoin="round" stroke-linecap="round"/>
<path d="M1636.4 1032.0 L1637.0 1034.7 L1637.5 1037.2 L1638.1 1039.7" fill="none" stroke="#ff0000" stroke-width="1.80" stroke-linejoin="round" stroke-linecap="round"/>
<path d="M1638.1 1039.7 L1638.6 1042.1 L1639.1 1044.4 L1639.6 1046.6 L1640.0 1048.6 L1640.4 1050.6 L1640.8 1052.5 L1641.2 1054.2 L1641.5 1055.9 L1641.9 1057.5 L1642.1 1059.2 L1642.4 1061.1 L1642.6 1063.7 L1642.8 1066.9" fill="none" stroke="#ff0000" stroke-width="1.50" stroke-linejoin="round" stroke-linecap="round"/>
<path d="M1642.8 1066.9 L1642.9 1070.4 L1643.0 1072.7" fill="none" stroke="#ff0000" stroke-width="1.30" stroke-linejoin="round" stroke-linecap="round"/>
<path d="M1643.0 1072.7 L1643.1 1070.4 L1643.2 1066.8 L1643.4 1063.4" fill="none" stroke="#ff0000" stroke-width="1.30" stroke-linejoin="round" stroke-linecap="round"/>
<path d="M1643.4 1063.4 L1643.6 1060.7 L1643.8 1058.6 L1644.1 1056.8 L1644.4 1055.1 L1644.7 1053.4 L1645.1 1051.7 L1645.5 1049.8 L1645.9 1047.9 L1646.3 1045.8 L1646.8 1043.7 L1647.2 1041.4 L1647.7 1039.0 L1648.2 1036.6 L1648.8 1034.0" fill="none" stroke="#ff0000" stroke-width="1.50" stroke-linejoin="round" stroke-linecap="round"/>
<path d="M1648.8 1034.0 L1649.3 1031.3 L1649.9 1028.6" fill="none" stroke="#ff0000" stroke-width="1.80" stroke-linejoin="round" stroke-linecap="round"/>
<path d="M1649.9 1028.6 L1650.5 1032.0 L1651.0 1035.3" fill="none" stroke="#ff0000" stroke-width="1.80" stroke-linejoin="round" stroke-linecap="round"/>
<path d="M1651.0 1035.3 L1651.6 1038.4 L1652.1 1041.4 L1652.6 1044.2 L1653.0 1046.9 L1653.5 1049.4 L1653.8 1051.7 L1654.2 1053.9 L1654.5 1056.0 L1654.8 1058.2 L1655.1 1060.9 L1655.3 1064.6" fill="none" stroke="#ff0000" stroke-width="1.50" stroke-linejoin="round" stroke-linecap="round"/>
<path d="M1655.3 1064.6 L1655.4 1069.1 L1655.5 1072.3" fill="none" stroke="#ff0000" stroke-width="1.30" stroke-linejoin="round" stroke-linecap="round"/>
<path d="M1655.5 1072.3 L1655.6 1069.4 L1655.7 1065.1 L1655.9 1061.5" fill="none" stroke="#ff0000" stroke-width="1.30" stroke-linejoin="round" stroke-linecap="round"/>
<path d="M1655.9 1061.5 L1656.1 1058.8 L1656.4 1056.6 L1656.7 1054.7 L1657.0 1052.7 L1657.4 1050.6 L1657.8 1048.3 L1658.2 1045.9 L1658.6 1043.4 L1659.1 1040.7 L1659.6 1037.9 L1660.1 1034.9 L1660.6 1031.8" fill="none" stroke="#ff0000" stroke-width="1.50" stroke-linejoin="round" stroke-linecap="round"/>
<path d="M1660.6 1031.8 L1661.2 1028.6" fill="none" stroke="#ff0000" stroke-width="1.80" stroke-linejoin="round" stroke-linecap="round"/>
<path d="M1661.2 1028.6 L1661.8 1032.7 L1662.3 1036.6" fill="none" stroke="#ff0000" stroke-width="1.80" stroke-linejoin="round" stroke-linecap="round"/>
<path d="M1662.3 1036.6 L1662.8 1040.2 L1663.3 1043.5 L1663.7 1046.6 L1664.1 1049.4 L1664.5 1051.9 L1664.8 1054.5 L1665.0 1057.9 L1665.2 1062.9" fill="none" stroke="#ff0000" stroke-width="1.50" stroke-linejoin="round" stroke-linecap="round"/>
<path d="M1665.2 1062.9 L1665.3 1067.2" fill="none" stroke="#ff0000" stroke-width="1.30" stroke-linejoin="round" stroke-linecap="round"/>
<path d="M1665.3 1067.2 L1665.4 1063.8 L1665.5 1059.1 L1665.7 1055.4" fill="none" stroke="#ff0000" stroke-width="1.30" stroke-linejoin="round" stroke-linecap="round"/>
<path d="M1665.7 1055.4 L1666.0 1052.8 L1666.3 1050.5 L1666.6 1048.3 L1667.0 1046.0 L1667.4 1043.5 L1667.9 1040.8 L1668.3 1037.9 L1668.8 1034.8 L1669.4 1031.6 L1669.9 1028.2 L1670.5 1024.6" fill="none" stroke="#ff0000" stroke-width="1.50" stroke-linejoin="round" stroke-linecap="round"/>
<path d="M1670.5 1024.6" fill="none" stroke="#ff0000" stroke-width="1.80" stroke-linejoin="round" stroke-linecap="round"/>
<path d="M1670.5 1024.6 L1671.1 1028.8" fill="none" stroke="#ff0000" stroke-width="1.80" stroke-linejoin="round" stroke-linecap="round"/>
<path d="M1671.1 1028.8 L1671.7 1032.8 L1672.2 1036.5 L1672.7 1040.0 L1673.2 1043.2 L1673.6 1046.2 L1674.0 1048.9 L1674.3 1051.5 L1674.6 1054.3 L1674.8 1058.1" fill="none" stroke="#ff0000" stroke-width="1.50" stroke-linejoin="round" stroke-linecap="round"/>
<path d="M1674.8 1058.1 L1675.0 1063.3 L1675.1 1067.6" fill="none" stroke="#ff0000" stroke-width="1.30" stroke-linejoin="round" stroke-linecap="round"/>
<path d="M1675.1 1067.6 L1675.2 1062.9 L1675.4 1057.4" fill="none" stroke="#ff0000" stroke-width="1.30" stroke-linejoin="round" stroke-linecap="round"/>
<path d="M1675.4 1057.4 L1675.6 1053.7 L1675.9 1050.8 L1676.3 1048.0 L1676.7 1044.9 L1677.1 1041.6 L1677.6 1037.9 L1678.1 1033.9 L1678.6 1029.7 L1679.2 1025.2" fill="none" stroke="#ff0000" stroke-width="1.50" stroke-linejoin="round" stroke-linecap="round"/>
<path d="M1679.2 1025.2" fill="none" stroke="#ff0000" stroke-width="1.80" stroke-linejoin="round" stroke-linecap="round"/>
<path d="M1679.2 1025.2 L1679.8 1029.7" fill="none" stroke="#ff0000" stroke-width="1.80" stroke-linejoin="round" stroke-linecap="round"/>
<path d="M1679.8 1029.7 L1680.3 1033.9 L1680.9 1037.9 L1681.3 1041.4 L1681.7 1044.7 L1682.1 1047.6 L1682.4 1050.4 L1682.7 1053.9 L1682.9 1059.1" fill="none" stroke="#ff0000" stroke-width="1.50" stroke-linejoin="round" stroke-linecap="round"/>
<path d="M1682.9 1059.1 L1683.0 1064.0" fill="none" stroke="#ff0000" stroke-width="1.30" stroke-linejoin="round" stroke-linecap="round"/>
<path d="M1683.0 1064.0 L1683.1 1059.4 L1683.3 1054.1 L1683.5 1050.5" fill="none" stroke="#ff0000" stroke-width="1.30" stroke-linejoin="round" stroke-linecap="round"/>
<path d="M1683.5 1050.5 L1683.8 1047.8 L1684.1 1045.1 L1684.5 1042.1 L1684.9 1038.8 L1685.4 1035.3 L1685.9 1031.4 L1686.4 1027.3 L1687.0 1023.0" fill="none" stroke="#ff0000" stroke-width="1.50" stroke-linejoin="round" stroke-linecap="round"/>
<path d="M1687.0 1023.0 L1687.6 1028.2 L1688.1 1033.0 L1688.6 1037.5 L1689.1 1041.5 L1689.5 1045.0 L1689.8 1048.3 L1690.1 1051.9 L1690.3 1057.6" fill="none" stroke="#ff0000" stroke-width="1.50" stroke-linejoin="round" stroke-linecap="round"/>
<path d="M1690.3 1057.6 L1690.4 1063.4" fill="none" stroke="#ff0000" stroke-width="1.30" stroke-linejoin="round" stroke-linecap="round"/>
<path d="M1690.4 1063.4 L1690.5 1057.0 L1690.7 1050.8" fill="none" stroke="#ff0000" stroke-width="1.30" stroke-linejoin="round" stroke-linecap="round"/>
<path d="M1690.7 1050.8 L1691.0 1046.8 L1691.4 1043.2 L1691.8 1039.3 L1692.3 1034.9 L1692.8 1030.0 L1693.4 1024.7 L1694.0 1019.0" fill="none" stroke="#ff0000" stroke-width="1.50" stroke-linejoin="round" stroke-linecap="round"/>
<path d="M1694.0 1019.0 L1694.6 1024.8 L1695.1 1030.2 L1695.6 1035.1 L1696.1 1039.6 L1696.5 1043.6 L1696.8 1047.2 L1697.1 1051.2 L1697.3 1057.6" fill="none" stroke="#ff0000" stroke-width="1.50" stroke-linejoin="round" stroke-linecap="round"/>
<path d="M1697.3 1057.6 L1697.4 1064.0" fill="none" stroke="#ff0000" stroke-width="1.30" stroke-linejoin="round" stroke-linecap="round"/>
<path d="M1697.4 1064.0 L1697.5 1057.6 L1697.7 1051.4" fill="none" stroke="#ff0000" stroke-width="1.30" stroke-linejoin="round" stroke-linecap="round"/>
<path d="M1697.7 1051.4 L1697.9 1047.4 L1698.2 1043.8 L1698.6 1039.9 L1699.0 1035.5 L1699.5 1030.6 L1700.0 1025.3 L1700.5 1019.6" fill="none" stroke="#ff0000" stroke-width="1.50" stroke-linejoin="round" stroke-linecap="round"/>
<path d="M1700.5 1019.6 L1701.0 1024.6 L1701.5 1029.3 L1701.9 1033.6 L1702.3 1037.5 L1702.6 1041.0 L1702.9 1044.1 L1703.1 1047.7 L1703.3 1053.2" fill="none" stroke="#ff0000" stroke-width="1.50" stroke-linejoin="round" stroke-linecap="round"/>
<path d="M1703.3 1053.2 L1703.4 1058.8" fill="none" stroke="#ff0000" stroke-width="1.30" stroke-linejoin="round" stroke-linecap="round"/>
<path d="M1703.4 1058.8 L1703.5 1052.6 L1703.7 1046.5" fill="none" stroke="#ff0000" stroke-width="1.30" stroke-linejoin="round" stroke-linecap="round"/>
<path d="M1703.7 1046.5 L1703.9 1042.6 L1704.2 1039.2 L1704.6 1035.4 L1705.0 1031.1 L1705.5 1026.3 L1706.0 1021.2 L1706.5 1015.6" fill="none" stroke="#ff0000" stroke-width="1.50" stroke-linejoin="round" stroke-linecap="round"/>
<path d="M1706.5 1015.6 L1707.0 1021.2 L1707.4 1026.3 L1707.8 1031.1 L1708.2 1035.4 L1708.5 1039.2 L1708.8 1042.6 L1709.0 1046.5 L1709.2 1052.6" fill="none" stroke="#ff0000" stroke-width="1.50" stroke-linejoin="round" stroke-linecap="round"/>
<path d="M1709.2 1052.6 L1709.3 1058.8" fill="none" stroke="#ff0000" stroke-width="1.30" stroke-linejoin="round" stroke-linecap="round"/>
<path d="M1709.3 1058.8 L1709.4 1052.7 L1709.5 1046.7" fill="none" stroke="#ff0000" stroke-width="1.30" stroke-linejoin="round" stroke-linecap="round"/>
<path d="M1709.5 1046.7 L1709.8 1042.9 L1710.0 1039.4 L1710.4 1035.7 L1710.7 1031.4 L1711.1 1026.8 L1711.5 1021.7 L1712.0 1016.2" fill="none" stroke="#ff0000" stroke-width="1.50" stroke-linejoin="round" stroke-linecap="round"/>
<path d="M1712.0 1016.2 L1712.4 1021.3 L1712.8 1026.0 L1713.2 1030.3 L1713.5 1034.2 L1713.8 1037.6 L1714.1 1040.8 L1714.3 1044.3 L1714.4 1049.9" fill="none" stroke="#ff0000" stroke-width="1.50" stroke-linejoin="round" stroke-linecap="round"/>
<path d="M1714.4 1049.9 L1714.5 1055.5" fill="none" stroke="#ff0000" stroke-width="1.30" stroke-linejoin="round" stroke-linecap="round"/>
<path d="M1714.5 1055.5 L1714.6 1049.6 L1714.8 1043.7" fill="none" stroke="#ff0000" stroke-width="1.30" stroke-linejoin="round" stroke-linecap="round"/>
<path d="M1714.8 1043.7 L1715.0 1040.0 L1715.3 1036.6 L1715.6 1033.0 L1716.0 1028.9 L1716.4 1024.3 L1716.9 1019.3 L1717.4 1014.0" fill="none" stroke="#ff0000" stroke-width="1.50" stroke-linejoin="round" stroke-linecap="round"/>
<path d="M1717.4 1014.0 L1717.8 1019.2 L1718.1 1024.1 L1718.4 1028.5 L1718.7 1032.6 L1718.9 1036.2 L1719.1 1039.4 L1719.3 1043.1" fill="none" stroke="#ff0000" stroke-width="1.50" stroke-linejoin="round" stroke-linecap="round"/>
<path d="M1719.3 1043.1 L1719.4 1048.8 L1719.5 1054.6" fill="none" stroke="#ff0000" stroke-width="1.30" stroke-linejoin="round" stroke-linecap="round"/>
<path d="M1719.5 1054.6 L1719.6 1048.2 L1719.7 1041.9 L1720.0 1037.9" fill="none" stroke="#ff0000" stroke-width="1.30" stroke-linejoin="round" stroke-linecap="round"/>
<path d="M1720.0 1037.9 L1720.2 1034.3 L1720.6 1030.4 L1720.9 1026.0 L1721.3 1021.1 L1721.7 1015.7 L1722.2 1010.0" fill="none" stroke="#ff0000" stroke-width="1.50" stroke-linejoin="round" stroke-linecap="round"/>
<path d="M1722.2 1010.0 L1722.6 1015.9 L1723.0 1021.3 L1723.3 1026.3 L1723.7 1030.8 L1723.9 1034.9 L1724.2 1038.6 L1724.4 1042.7" fill="none" stroke="#ff0000" stroke-width="1.50" stroke-linejoin="round" stroke-linecap="round"/>
<path d="M1724.4 1042.7 L1724.5 1049.1 L1724.6 1055.6" fill="none" stroke="#ff0000" stroke-width="1.30" stroke-linejoin="round" stroke-linecap="round"/>
<path d="M1724.6 1055.6 L1724.7 1049.2 L1724.8 1042.8 L1725.0 1038.8" fill="none" stroke="#ff0000" stroke-width="1.30" stroke-linejoin="round" stroke-linecap="round"/>
<path d="M1725.0 1038.8 L1725.2 1035.2 L1725.4 1031.2 L1725.7 1026.7 L1726.0 1021.8 L1726.3 1016.4 L1726.7 1010.6" fill="none" stroke="#ff0000" stroke-width="1.50" stroke-linejoin="round" stroke-linecap="round"/>
<path d="M1726.7 1010.6 L1727.0 1015.6 L1727.3 1020.2 L1727.6 1024.5 L1727.9 1028.3 L1728.1 1031.8 L1728.3 1034.9 L1728.4 1038.4" fill="none" stroke="#ff0000" stroke-width="1.50" stroke-linejoin="round" stroke-linecap="round"/>
<path d="M1728.4 1038.4 L1728.5 1043.8 L1728.6 1049.4" fill="none" stroke="#ff0000" stroke-width="1.30" stroke-linejoin="round" stroke-linecap="round"/>
<path d="M1728.6 1049.4 L1728.7 1043.2 L1728.8 1037.1 L1729.0 1033.2" fill="none" stroke="#ff0000" stroke-width="1.30" stroke-linejoin="round" stroke-linecap="round"/>
<path d="M1729.0 1033.2 L1729.2 1029.7 L1729.5 1025.9 L1729.8 1021.6 L1730.1 1016.9 L1730.5 1011.7 L1730.9 1006.1" fill="none" stroke="#ff0000" stroke-width="1.50" stroke-linejoin="round" stroke-linecap="round"/>
<path d="M1730.9 1006.1 L1731.3 1012.0 L1731.6 1017.4 L1732.0 1022.4 L1732.2 1026.9 L1732.5 1030.9 L1732.7 1034.6 L1732.9 1038.7" fill="none" stroke="#ff0000" stroke-width="1.50" stroke-linejoin="round" stroke-linecap="round"/>
<path d="M1732.9 1038.7 L1733.0 1045.1 L1733.1 1051.6" fill="none" stroke="#ff0000" stroke-width="1.30" stroke-linejoin="round" stroke-linecap="round"/>
<path d="M1733.1 1051.6 L1733.2 1045.2 L1733.3 1039.0 L1733.4 1035.0" fill="none" stroke="#ff0000" stroke-width="1.30" stroke-linejoin="round" stroke-linecap="round"/>
<path d="M1733.4 1035.0 L1733.6 1031.4 L1733.8 1027.5 L1734.1 1023.1 L1734.4 1018.2 L1734.7 1012.9 L1735.0 1007.2" fill="none" stroke="#ff0000" stroke-width="1.50" stroke-linejoin="round" stroke-linecap="round"/>
<path d="M1735.0 1007.2 L1735.4 1012.3 L1735.7 1017.0 L1736.0 1021.3 L1736.3 1025.2 L1736.5 1028.7 L1736.7 1031.9 L1736.9 1035.4" fill="none" stroke="#ff0000" stroke-width="1.50" stroke-linejoin="round" stroke-linecap="round"/>
<path d="M1736.9 1035.4 L1737.0 1041.0 L1737.1 1046.6" fill="none" stroke="#ff0000" stroke-width="1.30" stroke-linejoin="round" stroke-linecap="round"/>
<path d="M1737.1 1046.6 L1737.2 1040.6 L1737.3 1034.8 L1737.4 1031.0" fill="none" stroke="#ff0000" stroke-width="1.30" stroke-linejoin="round" stroke-linecap="round"/>
<path d="M1737.4 1031.0 L1737.6 1027.7 L1737.8 1024.0 L1738.1 1019.9 L1738.4 1015.3 L1738.7 1010.4 L1739.0 1005.0" fill="none" stroke="#ff0000" stroke-width="1.50" stroke-linejoin="round" stroke-linecap="round"/>
<path d="M1739.0 1005.0 L1739.3 1010.5 L1739.7 1015.6 L1740.0 1020.3 L1740.2 1024.5 L1740.5 1028.3 L1740.7 1031.7 L1740.8 1035.6" fill="none" stroke="#ff0000" stroke-width="1.50" stroke-linejoin="round" stroke-linecap="round"/>
<path d="M1740.8 1035.6 L1740.9 1041.6 L1741.0 1047.7" fill="none" stroke="#ff0000" stroke-width="1.30" stroke-linejoin="round" stroke-linecap="round"/>
<path d="M1741.0 1047.7 L1741.1 1041.1 L1741.2 1034.6 L1741.3 1030.5" fill="none" stroke="#ff0000" stroke-width="1.30" stroke-linejoin="round" stroke-linecap="round"/>
<path d="M1741.3 1030.5 L1741.5 1026.8 L1741.7 1022.7 L1741.9 1018.1 L1742.1 1013.0 L1742.4 1007.5 L1742.7 1001.6" fill="none" stroke="#ff0000" stroke-width="1.50" stroke-linejoin="round" stroke-linecap="round"/>
<path d="M1742.7 1001.6 L1742.9 1004.2 L1743.2 1006.6 L1743.4 1008.8 L1743.6 1010.8 L1743.7 1012.6 L1743.9 1014.2 L1744.0 1016.1" fill="none" stroke="#ff0000" stroke-width="1.50" stroke-linejoin="round" stroke-linecap="round"/>
<path d="M1744.0 1016.1 L1744.1 1018.9 L1744.1 1021.8" fill="none" stroke="#ff0000" stroke-width="1.30" stroke-linejoin="round" stroke-linecap="round"/>
<path d="M1532.9 1040.0 L1533.6 1037.2 L1534.3 1040.0 L1534.9 1040.0 L1535.6 1035.7 L1536.3 1040.0 L1536.9 1040.0 L1537.6 1036.1 L1538.3 1040.0 L1538.9 1040.0 L1539.6 1037.8 L1540.3 1040.0" fill="none" stroke="#ff0000" stroke-width="1.00" stroke-linejoin="miter" stroke-linecap="round"/>
<path d="M1120.3 1078.1 L1120.4 1078.1 L1120.5 1078.1 L1120.6 1078.0 L1120.8 1078.0 L1120.9 1078.0 L1121.0 1078.0 L1121.1 1078.0 L1121.2 1078.0 L1121.3 1078.0 L1121.5 1078.0 L1121.6 1078.0 L1121.7 1078.0 L1121.8 1078.0 L1121.9 1078.0 L1122.0 1078.0 L1122.1 1078.0 L1122.3 1078.0 L1122.4 1078.0 L1122.5 1078.0 L1122.6 1078.0 L1122.7 1078.0 L1122.8 1078.0 L1123.0 1078.0 L1123.1 1078.0 L1123.2 1078.0 L1123.3 1078.0 L1123.4 1077.9 L1123.5 1077.9 L1123.6 1077.9 L1123.8 1077.9 L1123.9 1077.9 L1124.0 1077.9 L1124.1 1077.9 L1124.2 1077.9 L1124.3 1077.9 L1124.5 1077.9 L1124.6 1077.9 L1124.7 1077.9 L1124.8 1077.9 L1124.9 1077.9 L1125.0 1077.9 L1125.1 1077.9 L1125.3 1077.9 L1125.4 1077.9 L1125.5 1077.9 L1125.6 1077.9 L1125.7 1077.9 L1125.8 1077.9 L1126.0 1077.9 L1126.1 1077.9 L1126.2 1077.8 L1126.3 1077.8 L1126.4 1077.8 L1126.5 1077.8 L1126.6 1077.8 L1126.8 1077.8 L1126.9 1077.8 L1127.0 1077.8 L1127.1 1077.8 L1127.2 1077.8 L1127.3 1077.8 L1127.4 1077.8 L1127.6 1077.8 L1127.7 1077.8 L1127.8 1077.8 L1127.9 1077.8 L1128.0 1077.8 L1128.1 1077.8 L1128.3 1077.8 L1128.4 1077.8 L1128.5 1077.8 L1128.6 1077.8 L1128.7 1077.7 L1128.8 1077.7 L1128.9 1077.7 L1129.1 1077.7 L1129.2 1077.7 L1129.3 1077.7 L1129.4 1077.7 L1129.5 1077.7 L1129.6 1077.7 L1129.8 1077.7 L1129.9 1077.7 L1130.0 1077.7 L1130.1 1077.7 L1130.2 1077.7 L1130.3 1077.7 L1130.4 1077.7 L1130.6 1077.7 L1130.7 1077.7 L1130.8 1077.7 L1130.9 1077.7 L1131.0 1077.7 L1131.1 1077.7 L1131.3 1077.6 L1131.4 1077.6 L1131.5 1077.6 L1131.6 1077.6 L1131.7 1077.6 L1131.8 1077.6 L1131.9 1077.6 L1132.1 1077.6 L1132.2 1077.6 L1132.3 1077.6 L1132.4 1077.6 L1132.5 1077.6 L1132.6 1077.6 L1132.8 1077.6 L1132.9 1077.6 L1133.0 1077.6 L1133.1 1077.6 L1133.2 1077.6 L1133.3 1077.6 L1133.4 1077.6 L1133.6 1077.6 L1133.7 1077.5 L1133.8 1077.5 L1133.9 1077.5 L1134.0 1077.5 L1134.1 1077.5 L1134.3 1077.5 L1134.4 1077.5 L1134.5 1077.5 L1134.6 1077.5 L1134.7 1077.5 L1134.8 1077.5 L1134.9 1077.5 L1135.1 1077.5 L1135.2 1077.5 L1135.3 1077.5 L1135.4 1077.5 L1135.5 1077.5 L1135.6 1077.5 L1135.8 1077.5 L1135.9 1077.5 L1136.0 1077.4 L1136.1 1077.4 L1136.2 1077.4 L1136.3 1077.4 L1136.4 1077.4 L1136.6 1077.4 L1136.7 1077.4 L1136.8 1077.4 L1136.9 1077.4 L1137.0 1077.4 L1137.1 1077.4 L1137.3 1077.4 L1137.4 1077.4 L1137.5 1077.4 L1137.6 1077.4 L1137.7 1077.4 L1137.8 1077.4 L1137.9 1077.4 L1138.1 1077.4 L1138.2 1077.4 L1138.3 1077.3 L1138.4 1077.3 L1138.5 1077.3 L1138.6 1077.3 L1138.8 1077.3 L1138.9 1077.3 L1139.0 1077.3 L1139.1 1077.3 L1139.2 1077.3 L1139.3 1077.3 L1139.4 1077.3 L1139.6 1077.3 L1139.7 1077.3 L1139.8 1077.3 L1139.9 1077.3 L1140.0 1077.3 L1140.1 1077.3 L1140.2 1077.3 L1140.4 1077.3 L1140.5 1077.2 L1140.6 1077.2 L1140.7 1077.2 L1140.8 1077.2 L1140.9 1077.2 L1141.1 1077.2 L1141.2 1077.2 L1141.3 1077.2 L1141.4 1077.2 L1141.5 1077.2 L1141.6 1077.2 L1141.7 1077.2 L1141.9 1077.2 L1142.0 1077.2 L1142.1 1077.2 L1142.2 1077.2 L1142.3 1077.2 L1142.4 1077.2 L1142.6 1077.2 L1142.7 1077.1 L1142.8 1077.1 L1142.9 1077.1 L1143.0 1077.1 L1143.1 1077.1 L1143.2 1077.1 L1143.4 1077.1 L1143.5 1077.1 L1143.6 1077.1 L1143.7 1077.1 L1143.8 1077.1 L1143.9 1077.1 L1144.1 1077.1 L1144.2 1077.1 L1144.3 1077.1 L1144.4 1077.1 L1144.5 1077.1 L1144.6 1077.1 L1144.7 1077.0 L1144.9 1077.0 L1145.0 1077.0 L1145.1 1077.0 L1145.2 1077.0 L1145.3 1077.0 L1145.4 1077.0 L1145.6 1077.0 L1145.7 1077.0 L1145.8 1077.0 L1145.9 1077.0 L1146.0 1077.0 L1146.1 1077.0 L1146.2 1077.0 L1146.4 1077.0 L1146.5 1077.0 L1146.6 1077.0 L1146.7 1077.0 L1146.8 1076.9 L1146.9 1076.9 L1147.1 1076.9 L1147.2 1076.9 L1147.3 1076.9 L1147.4 1076.9 L1147.5 1076.9 L1147.6 1076.9 L1147.7 1076.9 L1147.9 1076.9 L1148.0 1076.9 L1148.1 1076.9 L1148.2 1076.9 L1148.3 1076.9 L1148.4 1076.9 L1148.6 1076.9 L1148.7 1076.9 L1148.8 1076.9 L1148.9 1076.8 L1149.0 1076.8 L1149.1 1076.8 L1149.2 1076.8 L1149.4 1076.8 L1149.5 1076.8 L1149.6 1076.8 L1149.7 1076.8 L1149.8 1076.8 L1149.9 1076.8 L1150.1 1076.8 L1150.2 1076.8 L1150.3 1076.8 L1150.4 1076.8 L1150.5 1076.8 L1150.6 1076.8 L1150.7 1076.8 L1150.9 1076.8 L1151.0 1076.7 L1151.1 1076.7 L1151.2 1076.7 L1151.3 1076.7 L1151.4 1076.7 L1151.5 1076.7 L1151.7 1076.7 L1151.8 1076.7 L1151.9 1076.7 L1152.0 1076.7 L1152.1 1076.7 L1152.2 1076.7 L1152.4 1076.7 L1152.5 1076.7 L1152.6 1076.7 L1152.7 1076.7 L1152.8 1076.7 L1152.9 1076.6 L1153.0 1076.6 L1153.2 1076.6 L1153.3 1076.6 L1153.4 1076.6 L1153.5 1076.6 L1153.6 1076.6 L1153.7 1076.6 L1153.9 1076.6 L1154.0 1076.6 L1154.1 1076.6 L1154.2 1076.6 L1154.3 1076.6 L1154.4 1076.6 L1154.5 1076.6 L1154.7 1076.6 L1154.8 1076.6 L1154.9 1076.5 L1155.0 1076.5 L1155.1 1076.5 L1155.2 1076.5 L1155.4 1076.5 L1155.5 1076.5 L1155.6 1076.5 L1155.7 1076.5 L1155.8 1076.5 L1155.9 1076.5 L1156.0 1076.5 L1156.2 1076.5 L1156.3 1076.5 L1156.4 1076.5 L1156.5 1076.5 L1156.6 1076.5 L1156.7 1076.5 L1156.9 1076.4 L1157.0 1076.4 L1157.1 1076.4 L1157.2 1076.4 L1157.3 1076.4 L1157.4 1076.4 L1157.5 1076.4 L1157.7 1076.4 L1157.8 1076.4 L1157.9 1076.4 L1158.0 1076.4 L1158.1 1076.4 L1158.2 1076.4 L1158.4 1076.4 L1158.5 1076.4 L1158.6 1076.4 L1158.7 1076.3 L1158.8 1076.3 L1158.9 1076.3 L1159.0 1076.3 L1159.2 1076.3 L1159.3 1076.3 L1159.4 1076.3 L1159.5 1076.3 L1159.6 1076.3 L1159.7 1076.3 L1159.9 1076.3 L1160.0 1076.3 L1160.1 1076.3 L1160.2 1076.3 L1160.3 1076.2 L1160.4 1076.2 L1160.5 1076.2 L1160.7 1076.2 L1160.8 1076.2 L1160.9 1076.2 L1161.0 1076.2 L1161.1 1076.2 L1161.2 1076.2 L1161.4 1076.2 L1161.5 1076.2 L1161.6 1076.2 L1161.7 1076.2 L1161.8 1076.2 L1161.9 1076.1 L1162.0 1076.1 L1162.2 1076.1 L1162.3 1076.1 L1162.4 1076.1 L1162.5 1076.1 L1162.6 1076.1 L1162.7 1076.1 L1162.9 1076.1 L1163.0 1076.1 L1163.1 1076.1 L1163.2 1076.1 L1163.3 1076.1 L1163.4 1076.0 L1163.5 1076.0 L1163.7 1076.0 L1163.8 1076.0 L1163.9 1076.0 L1164.0 1076.0 L1164.1 1076.0 L1164.2 1076.0 L1164.3 1076.0 L1164.5 1076.0 L1164.6 1076.0 L1164.7 1076.0 L1164.8 1076.0 L1164.9 1075.9 L1165.0 1075.9 L1165.2 1075.9 L1165.3 1075.9 L1165.4 1075.9 L1165.5 1075.9 L1165.6 1075.9 L1165.7 1075.9 L1165.8 1075.9 L1166.0 1075.9 L1166.1 1075.9 L1166.2 1075.9 L1166.3 1075.9 L1166.4 1075.9 L1166.5 1075.8 L1166.7 1075.8 L1166.8 1075.8 L1166.9 1075.8 L1167.0 1075.8 L1167.1 1075.8 L1167.2 1075.8 L1167.3 1075.8 L1167.5 1075.8 L1167.6 1075.8 L1167.7 1075.8 L1167.8 1075.8 L1167.9 1075.8 L1168.0 1075.8 L1168.2 1075.7 L1168.3 1075.7 L1168.4 1075.7 L1168.5 1075.7 L1168.6 1075.7 L1168.7 1075.7 L1168.8 1075.7 L1169.0 1075.7 L1169.1 1075.7 L1169.2 1075.7 L1169.3 1075.7 L1169.4 1075.7 L1169.5 1075.7 L1169.7 1075.7 L1169.8 1075.6 L1169.9 1075.6 L1170.0 1075.6 L1170.1 1075.6 L1170.2 1075.6 L1170.3 1075.6 L1170.5 1075.6 L1170.6 1075.6 L1170.7 1075.6 L1170.8 1075.6 L1170.9 1075.6 L1171.0 1075.6 L1171.2 1075.6 L1171.3 1075.6 L1171.4 1075.6 L1171.5 1075.6 L1171.6 1075.5 L1171.7 1075.5 L1171.8 1075.5 L1172.0 1075.5 L1172.1 1075.5 L1172.2 1075.5 L1172.3 1075.5 L1172.4 1075.5 L1172.5 1075.5 L1172.7 1075.5 L1172.8 1075.5 L1172.9 1075.5 L1173.0 1075.5 L1173.1 1075.5 L1173.2 1075.5 L1173.3 1075.5 L1173.5 1075.5 L1173.6 1075.5 L1173.7 1075.5 L1173.8 1075.4 L1173.9 1075.4 L1174.0 1075.4 L1174.2 1075.4 L1174.3 1075.4 L1174.4 1075.4 L1174.5 1075.4 L1174.6 1075.4 L1174.7 1075.4 L1174.8 1075.4 L1175.0 1075.4 L1175.1 1075.4 L1175.2 1075.4 L1175.3 1075.4 L1175.4 1075.4 L1175.5 1075.4 L1175.7 1075.4 L1175.8 1075.4 L1175.9 1075.4 L1176.0 1075.4 L1176.1 1075.4 L1176.2 1075.4 L1176.3 1075.4 L1176.5 1075.3 L1176.6 1075.3 L1176.7 1075.3 L1176.8 1075.3 L1176.9 1075.3 L1177.0 1075.3 L1177.1 1075.3 L1177.3 1075.3 L1177.4 1075.3 L1177.5 1075.3 L1177.6 1075.3 L1177.7 1075.3 L1177.8 1075.3 L1178.0 1075.3 L1178.1 1075.3 L1178.2 1075.3 L1178.3 1075.3 L1178.4 1075.3 L1178.5 1075.3 L1178.6 1075.3 L1178.8 1075.3 L1178.9 1075.3 L1179.0 1075.3 L1179.1 1075.3 L1179.2 1075.3 L1179.3 1075.3 L1179.5 1075.3 L1179.6 1075.3 L1179.7 1075.3 L1179.8 1075.2 L1179.9 1075.2 L1180.0 1075.2 L1180.1 1075.2 L1180.3 1075.2 L1180.4 1075.2 L1180.5 1075.2 L1180.6 1075.2 L1180.7 1075.2 L1180.8 1075.2 L1181.0 1075.2 L1181.1 1075.2 L1181.2 1075.2 L1181.3 1075.2 L1181.4 1075.2 L1181.5 1075.2 L1181.6 1075.2 L1181.8 1075.2 L1181.9 1075.2 L1182.0 1075.2 L1182.1 1075.2 L1182.2 1075.2 L1182.3 1075.2 L1182.5 1075.2 L1182.6 1075.2 L1182.7 1075.2 L1182.8 1075.2 L1182.9 1075.2 L1183.0 1075.2 L1183.1 1075.2 L1183.3 1075.2 L1183.4 1075.2 L1183.5 1075.2 L1183.6 1075.2 L1183.7 1075.2 L1183.8 1075.2 L1184.0 1075.1 L1184.1 1075.1 L1184.2 1075.1 L1184.3 1075.1 L1184.4 1075.1 L1184.5 1075.1 L1184.6 1075.1 L1184.8 1075.1 L1184.9 1075.1 L1185.0 1075.1 L1185.1 1075.1 L1185.2 1075.1 L1185.3 1075.1 L1185.5 1075.1 L1185.6 1075.1 L1185.7 1075.1 L1185.8 1075.1 L1185.9 1075.1 L1186.0 1075.1 L1186.1 1075.1 L1186.3 1075.1 L1186.4 1075.1 L1186.5 1075.1 L1186.6 1075.1 L1186.7 1075.1 L1186.8 1075.1 L1187.0 1075.1 L1187.1 1075.1 L1187.2 1075.1 L1187.3 1075.1 L1187.4 1075.1 L1187.5 1075.1 L1187.6 1075.1 L1187.8 1075.1 L1187.9 1075.1 L1188.0 1075.1 L1188.1 1075.1 L1188.2 1075.1 L1188.3 1075.1 L1188.5 1075.1 L1188.6 1075.0 L1188.7 1075.0 L1188.8 1075.0 L1188.9 1075.0 L1189.0 1075.0 L1189.1 1075.0 L1189.3 1075.0 L1189.4 1075.0 L1189.5 1075.0 L1189.6 1075.0 L1189.7 1075.0 L1189.8 1075.0 L1189.9 1075.0 L1190.1 1075.0 L1190.2 1075.0 L1190.3 1075.0 L1190.4 1075.0 L1190.5 1075.0 L1190.6 1075.0 L1190.8 1075.0 L1190.9 1075.0 L1191.0 1075.0 L1191.1 1075.0 L1191.2 1075.0 L1191.3 1075.0 L1191.4 1075.0 L1191.6 1075.0 L1191.7 1075.0 L1191.8 1075.0 L1191.9 1075.0 L1192.0 1075.0 L1192.1 1075.0 L1192.3 1075.0 L1192.4 1075.0 L1192.5 1075.0 L1192.6 1075.0 L1192.7 1074.9 L1192.8 1074.9 L1192.9 1074.9 L1193.1 1074.9 L1193.2 1074.9 L1193.3 1074.9 L1193.4 1074.9 L1193.5 1074.9 L1193.6 1074.9 L1193.8 1074.9 L1193.9 1074.9 L1194.0 1074.9 L1194.1 1074.9 L1194.2 1074.9 L1194.3 1074.9 L1194.4 1074.9 L1194.6 1074.9 L1194.7 1074.9 L1194.8 1074.9 L1194.9 1074.9 L1195.0 1074.9 L1195.1 1074.9 L1195.3 1074.9 L1195.4 1074.9 L1195.5 1074.9 L1195.6 1074.9 L1195.7 1074.9 L1195.8 1074.9 L1195.9 1074.9 L1196.1 1074.8 L1196.2 1074.8 L1196.3 1074.8 L1196.4 1074.8 L1196.5 1074.8 L1196.6 1074.8 L1196.8 1074.8 L1196.9 1074.8 L1197.0 1074.8 L1197.1 1074.8 L1197.2 1074.8 L1197.3 1074.8 L1197.4 1074.8 L1197.6 1074.8 L1197.7 1074.8 L1197.8 1074.8 L1197.9 1074.8 L1198.0 1074.8 L1198.1 1074.8 L1198.3 1074.8 L1198.4 1074.8 L1198.5 1074.8 L1198.6 1074.8 L1198.7 1074.8 L1198.8 1074.7 L1198.9 1074.7 L1199.1 1074.7 L1199.2 1074.7 L1199.3 1074.7 L1199.4 1074.7 L1199.5 1074.7 L1199.6 1074.7 L1199.8 1074.7 L1199.9 1074.7 L1200.0 1074.7 L1200.1 1074.7 L1200.2 1074.7 L1200.3 1074.7 L1200.4 1074.7 L1200.6 1074.7 L1200.7 1074.7 L1200.8 1074.7 L1200.9 1074.7 L1201.0 1074.6 L1201.1 1074.6 L1201.3 1074.6 L1201.4 1074.6 L1201.5 1074.6 L1201.6 1074.6 L1201.7 1074.6 L1201.8 1074.6 L1201.9 1074.6 L1202.1 1074.6 L1202.2 1074.6 L1202.3 1074.6 L1202.4 1074.6 L1202.5 1074.6 L1202.6 1074.5 L1202.7 1074.5 L1202.9 1074.5 L1203.0 1074.5 L1203.1 1074.5 L1203.2 1074.5 L1203.3 1074.5 L1203.4 1074.5 L1203.6 1074.5 L1203.7 1074.5 L1203.8 1074.5 L1203.9 1074.4 L1204.0 1074.4 L1204.1 1074.4 L1204.2 1074.4 L1204.4 1074.4 L1204.5 1074.4 L1204.6 1074.4 L1204.7 1074.4 L1204.8 1074.3 L1204.9 1074.3 L1205.1 1074.3 L1205.2 1074.3 L1205.3 1074.3 L1205.4 1074.3 L1205.5 1074.3 L1205.6 1074.3 L1205.7 1074.2 L1205.9 1074.2 L1206.0 1074.2 L1206.1 1074.2 L1206.2 1074.2 L1206.3 1074.2 L1206.4 1074.2 L1206.6 1074.1 L1206.7 1074.1 L1206.8 1074.1 L1206.9 1074.1 L1207.0 1074.1 L1207.1 1074.1 L1207.2 1074.1 L1207.4 1074.0 L1207.5 1074.0 L1207.6 1074.0 L1207.7 1074.0 L1207.8 1074.0 L1207.9 1074.0 L1208.1 1073.9 L1208.2 1073.9 L1208.3 1073.9 L1208.4 1073.9 L1208.5 1073.9 L1208.6 1073.9 L1208.7 1073.8 L1208.9 1073.8 L1209.0 1073.8 L1209.1 1073.8 L1209.2 1073.8 L1209.3 1073.8 L1209.4 1073.7 L1209.6 1073.7 L1209.7 1073.7 L1209.8 1073.7 L1209.9 1073.7 L1210.0 1073.6 L1210.1 1073.6 L1210.2 1073.6 L1210.4 1073.6 L1210.5 1073.6 L1210.6 1073.6 L1210.7 1073.5 L1210.8 1073.5 L1210.9 1073.5 L1211.1 1073.5 L1211.2 1073.5 L1211.3 1073.4 L1211.4 1073.4 L1211.5 1073.4 L1211.6 1073.4 L1211.7 1073.4 L1211.9 1073.3 L1212.0 1073.3 L1212.1 1073.3 L1212.2 1073.3 L1212.3 1073.3 L1212.4 1073.2 L1212.6 1073.2 L1212.7 1073.2 L1212.8 1073.2 L1212.9 1073.2 L1213.0 1073.1 L1213.1 1073.1 L1213.2 1073.1 L1213.4 1073.1 L1213.5 1073.1 L1213.6 1073.0 L1213.7 1073.0 L1213.8 1073.0 L1213.9 1073.0 L1214.0 1073.0 L1214.2 1073.0 L1214.3 1072.9 L1214.4 1072.9 L1214.5 1072.9 L1214.6 1072.9 L1214.7 1072.9 L1214.9 1072.8 L1215.0 1072.8 L1215.1 1072.8 L1215.2 1072.8 L1215.3 1072.8 L1215.4 1072.7 L1215.5 1072.7 L1215.7 1072.7 L1215.8 1072.7 L1215.9 1072.7 L1216.0 1072.6 L1216.1 1072.6 L1216.2 1072.6 L1216.4 1072.6 L1216.5 1072.6 L1216.6 1072.5 L1216.7 1072.5 L1216.8 1072.5 L1216.9 1072.5 L1217.0 1072.5 L1217.2 1072.4 L1217.3 1072.4 L1217.4 1072.4 L1217.5 1072.4 L1217.6 1072.4 L1217.7 1072.3 L1217.9 1072.3 L1218.0 1072.3 L1218.1 1072.3 L1218.2 1072.3 L1218.3 1072.3 L1218.4 1072.2 L1218.5 1072.2 L1218.7 1072.2 L1218.8 1072.2 L1218.9 1072.2 L1219.0 1072.1 L1219.1 1072.1 L1219.2 1072.1 L1219.4 1072.1 L1219.5 1072.1 L1219.6 1072.1 L1219.7 1072.0 L1219.8 1072.0 L1219.9 1072.0 L1220.0 1072.0 L1220.2 1072.0 L1220.3 1071.9 L1220.4 1071.9 L1220.5 1071.9 L1220.6 1071.9 L1220.7 1071.9 L1220.9 1071.9 L1221.0 1071.8 L1221.1 1071.8 L1221.2 1071.8 L1221.3 1071.8 L1221.4 1071.8 L1221.5 1071.8 L1221.7 1071.7 L1221.8 1071.7 L1221.9 1071.7 L1222.0 1071.7 L1222.1 1071.7 L1222.2 1071.7 L1222.4 1071.7 L1222.5 1071.6 L1222.6 1071.6 L1222.7 1071.6 L1222.8 1071.6 L1222.9 1071.6 L1223.0 1071.6 L1223.2 1071.6 L1223.3 1071.5 L1223.4 1071.5 L1223.5 1071.5 L1223.6 1071.5 L1223.7 1071.5 L1223.9 1071.5 L1224.0 1071.5 L1224.1 1071.5 L1224.2 1071.4 L1224.3 1071.4 L1224.4 1071.4 L1224.5 1071.4 L1224.7 1071.4 L1224.8 1071.4 L1224.9 1071.4 L1225.0 1071.4 L1225.1 1071.3 L1225.2 1071.3 L1225.4 1071.3 L1225.5 1071.3 L1225.6 1071.3 L1225.7 1071.3 L1225.8 1071.3 L1225.9 1071.3 L1226.0 1071.3 L1226.2 1071.3 L1226.3 1071.2 L1226.4 1071.2 L1226.5 1071.2 L1226.6 1071.2 L1226.7 1071.2 L1226.8 1071.2 L1227.0 1071.2 L1227.1 1071.2 L1227.2 1071.2 L1227.3 1071.2 L1227.4 1071.2 L1227.5 1071.2 L1227.7 1071.1 L1227.8 1071.1 L1227.9 1071.1 L1228.0 1071.1 L1228.1 1071.1 L1228.2 1071.1 L1228.3 1071.1 L1228.5 1071.1 L1228.6 1071.1 L1228.7 1071.1 L1228.8 1071.1 L1228.9 1071.1 L1229.0 1071.1 L1229.2 1071.0 L1229.3 1071.0 L1229.4 1071.0 L1229.5 1071.0 L1229.6 1071.0 L1229.7 1071.0 L1229.8 1071.0 L1230.0 1071.0 L1230.1 1071.0 L1230.2 1071.0 L1230.3 1071.0 L1230.4 1071.0 L1230.5 1071.0 L1230.7 1071.0 L1230.8 1070.9 L1230.9 1070.9 L1231.0 1070.9 L1231.1 1070.9 L1231.2 1070.9 L1231.3 1070.9 L1231.5 1070.9 L1231.6 1070.9 L1231.7 1070.9 L1231.8 1070.9 L1231.9 1070.9 L1232.0 1070.9 L1232.2 1070.9 L1232.3 1070.9 L1232.4 1070.8 L1232.5 1070.8 L1232.6 1070.8 L1232.7 1070.8 L1232.8 1070.8 L1233.0 1070.8 L1233.1 1070.8 L1233.2 1070.8 L1233.3 1070.8 L1233.4 1070.8 L1233.5 1070.8 L1233.7 1070.8 L1233.8 1070.8 L1233.9 1070.8 L1234.0 1070.8 L1234.1 1070.7 L1234.2 1070.7 L1234.3 1070.7 L1234.5 1070.7 L1234.6 1070.7 L1234.7 1070.7 L1234.8 1070.7 L1234.9 1070.7 L1235.0 1070.7 L1235.2 1070.7 L1235.3 1070.7 L1235.4 1070.7 L1235.5 1070.7 L1235.6 1070.7 L1235.7 1070.7 L1235.8 1070.7 L1236.0 1070.7 L1236.1 1070.6 L1236.2 1070.6 L1236.3 1070.6 L1236.4 1070.6 L1236.5 1070.6 L1236.7 1070.6 L1236.8 1070.6 L1236.9 1070.6 L1237.0 1070.6 L1237.1 1070.6 L1237.2 1070.6 L1237.3 1070.6 L1237.5 1070.6 L1237.6 1070.6 L1237.7 1070.6 L1237.8 1070.6 L1237.9 1070.6 L1238.0 1070.6 L1238.2 1070.5 L1238.3 1070.5 L1238.4 1070.5 L1238.5 1070.5 L1238.6 1070.5 L1238.7 1070.5 L1238.8 1070.5 L1239.0 1070.5 L1239.1 1070.5 L1239.2 1070.5 L1239.3 1070.5 L1239.4 1070.5 L1239.5 1070.5 L1239.6 1070.5 L1239.8 1070.5 L1239.9 1070.5 L1240.0 1070.5 L1240.1 1070.5 L1240.2 1070.5 L1240.3 1070.5 L1240.5 1070.5 L1240.6 1070.5 L1240.7 1070.5 L1240.8 1070.4 L1240.9 1070.4 L1241.0 1070.4 L1241.1 1070.4 L1241.3 1070.4 L1241.4 1070.4 L1241.5 1070.4 L1241.6 1070.4 L1241.7 1070.4 L1241.8 1070.4 L1242.0 1070.4 L1242.1 1070.4 L1242.2 1070.4 L1242.3 1070.4 L1242.4 1070.4 L1242.5 1070.4 L1242.6 1070.4 L1242.8 1070.4 L1242.9 1070.4 L1243.0 1070.4 L1243.1 1070.4 L1243.2 1070.4 L1243.3 1070.4 L1243.5 1070.4 L1243.6 1070.4 L1243.7 1070.4 L1243.8 1070.4 L1243.9 1070.4 L1244.0 1070.4 L1244.1 1070.4 L1244.3 1070.4 L1244.4 1070.4 L1244.5 1070.4 L1244.6 1070.4 L1244.7 1070.4 L1244.8 1070.4 L1245.0 1070.4 L1245.1 1070.4 L1245.2 1070.4 L1245.3 1070.4 L1245.4 1070.4 L1245.5 1070.4 L1245.6 1070.4 L1245.8 1070.4 L1245.9 1070.4 L1246.0 1070.4 L1246.1 1070.4 L1246.2 1070.4 L1246.3 1070.4 L1246.5 1070.4 L1246.6 1070.4 L1246.7 1070.4 L1246.8 1070.4 L1246.9 1070.4 L1247.0 1070.4 L1247.1 1070.4 L1247.3 1070.4 L1247.4 1070.4 L1247.5 1070.4 L1247.6 1070.4 L1247.7 1070.4 L1247.8 1070.4 L1248.0 1070.4 L1248.1 1070.4 L1248.2 1070.4 L1248.3 1070.4 L1248.4 1070.4 L1248.5 1070.4 L1248.6 1070.4 L1248.8 1070.4 L1248.9 1070.4 L1249.0 1070.4 L1249.1 1070.4 L1249.2 1070.4 L1249.3 1070.4 L1249.5 1070.4 L1249.6 1070.4 L1249.7 1070.5 L1249.8 1070.5 L1249.9 1070.5 L1250.0 1070.5 L1250.1 1070.5 L1250.3 1070.5 L1250.4 1070.5 L1250.5 1070.5 L1250.6 1070.5 L1250.7 1070.5 L1250.8 1070.5 L1251.0 1070.5 L1251.1 1070.5 L1251.2 1070.5 L1251.3 1070.5 L1251.4 1070.5 L1251.5 1070.5 L1251.6 1070.5 L1251.8 1070.6 L1251.9 1070.6 L1252.0 1070.6 L1252.1 1070.6 L1252.2 1070.6 L1252.3 1070.6 L1252.4 1070.6 L1252.6 1070.6 L1252.7 1070.6 L1252.8 1070.6 L1252.9 1070.6 L1253.0 1070.6 L1253.1 1070.7 L1253.3 1070.7 L1253.4 1070.7 L1253.5 1070.7 L1253.6 1070.7 L1253.7 1070.7 L1253.8 1070.7 L1253.9 1070.7 L1254.1 1070.7 L1254.2 1070.7 L1254.3 1070.8 L1254.4 1070.8 L1254.5 1070.8 L1254.6 1070.8 L1254.8 1070.8 L1254.9 1070.8 L1255.0 1070.8 L1255.1 1070.8 L1255.2 1070.9 L1255.3 1070.9 L1255.4 1070.9 L1255.6 1070.9 L1255.7 1070.9 L1255.8 1070.9 L1255.9 1070.9 L1256.0 1071.0 L1256.1 1071.0 L1256.3 1071.0 L1256.4 1071.0 L1256.5 1071.0 L1256.6 1071.0 L1256.7 1071.1 L1256.8 1071.1 L1256.9 1071.1 L1257.1 1071.1 L1257.2 1071.1 L1257.3 1071.2 L1257.4 1071.2 L1257.5 1071.2 L1257.6 1071.2 L1257.8 1071.2 L1257.9 1071.3 L1258.0 1071.3 L1258.1 1071.3 L1258.2 1071.3 L1258.3 1071.4 L1258.4 1071.4 L1258.6 1071.4 L1258.7 1071.5 L1258.8 1071.5 L1258.9 1071.5 L1259.0 1071.6 L1259.1 1071.6 L1259.3 1071.6 L1259.4 1071.5 L1259.5 1071.5 L1259.6 1071.4 L1259.7 1071.4 L1259.8 1071.3 L1259.9 1071.3 L1260.1 1071.2 L1260.2 1071.2 L1260.3 1071.2 L1260.4 1071.1 L1260.5 1071.1 L1260.6 1071.0 L1260.8 1071.0 L1260.9 1071.0 L1261.0 1070.9 L1261.1 1070.9 L1261.2 1070.9 L1261.3 1070.8 L1261.4 1070.8 L1261.6 1070.8 L1261.7 1070.7 L1261.8 1070.7 L1261.9 1070.7 L1262.0 1070.6 L1262.1 1070.6 L1262.3 1070.6 L1262.4 1070.5 L1262.5 1070.5 L1262.6 1070.5 L1262.7 1070.4 L1262.8 1070.4 L1262.9 1070.4 L1263.1 1070.3 L1263.2 1070.3 L1263.3 1070.3 L1263.4 1070.2 L1263.5 1070.2 L1263.6 1070.2 L1263.8 1070.1 L1263.9 1070.1 L1264.0 1070.1 L1264.1 1070.1 L1264.2 1070.0 L1264.3 1070.0 L1264.4 1070.0 L1264.6 1069.9 L1264.7 1069.9 L1264.8 1069.9 L1264.9 1069.8 L1265.0 1069.8 L1265.1 1069.8 L1265.2 1069.8 L1265.4 1069.7 L1265.5 1069.7 L1265.6 1069.7 L1265.7 1069.6 L1265.8 1069.6 L1265.9 1069.6 L1266.1 1069.5 L1266.2 1069.5 L1266.3 1069.5 L1266.4 1069.5 L1266.5 1069.4 L1266.6 1069.4 L1266.7 1069.4 L1266.9 1069.3 L1267.0 1069.3 L1267.1 1069.3 L1267.2 1069.2 L1267.3 1069.2 L1267.4 1069.2 L1267.6 1069.2 L1267.7 1069.1 L1267.8 1069.1 L1267.9 1069.1 L1268.0 1069.0 L1268.1 1069.0 L1268.2 1069.0 L1268.4 1069.0 L1268.5 1068.9 L1268.6 1068.9 L1268.7 1068.9 L1268.8 1068.8 L1268.9 1068.8 L1269.1 1068.8 L1269.2 1068.8 L1269.3 1068.7 L1269.4 1068.7 L1269.5 1068.7 L1269.6 1068.7 L1269.7 1068.6 L1269.9 1068.6 L1270.0 1068.6 L1270.1 1068.5 L1270.2 1068.5 L1270.3 1068.5 L1270.4 1068.5 L1270.6 1068.4 L1270.7 1068.4 L1270.8 1068.4 L1270.9 1068.4 L1271.0 1068.3 L1271.1 1068.3 L1271.2 1068.3 L1271.4 1068.3 L1271.5 1068.2 L1271.6 1068.2 L1271.7 1068.2 L1271.8 1068.2 L1271.9 1068.1 L1272.1 1068.1 L1272.2 1068.1 L1272.3 1068.1 L1272.4 1068.0 L1272.5 1068.0 L1272.6 1068.0 L1272.7 1068.0 L1272.9 1067.9 L1273.0 1067.9 L1273.1 1067.9 L1273.2 1067.9 L1273.3 1067.9 L1273.4 1067.8 L1273.6 1067.8 L1273.7 1067.8 L1273.8 1067.8 L1273.9 1067.7 L1274.0 1067.7 L1274.1 1067.7 L1274.2 1067.7 L1274.4 1067.7 L1274.5 1067.6 L1274.6 1067.6 L1274.7 1067.6 L1274.8 1067.6 L1274.9 1067.6 L1275.1 1067.5 L1275.2 1067.5 L1275.3 1067.5 L1275.4 1067.5 L1275.5 1067.5 L1275.6 1067.4 L1275.7 1067.4 L1275.9 1067.4 L1276.0 1067.4 L1276.1 1067.4 L1276.2 1067.4 L1276.3 1067.3 L1276.4 1067.3 L1276.5 1067.3 L1276.7 1067.3 L1276.8 1067.3 L1276.9 1067.3 L1277.0 1067.2 L1277.1 1067.2 L1277.2 1067.2 L1277.4 1067.2 L1277.5 1067.2 L1277.6 1067.2 L1277.7 1067.2 L1277.8 1067.1 L1277.9 1067.1 L1278.0 1067.1 L1278.2 1067.1 L1278.3 1067.1 L1278.4 1067.1 L1278.5 1067.1 L1278.6 1067.1 L1278.7 1067.1 L1278.9 1067.0 L1279.0 1067.0 L1279.1 1067.0 L1279.2 1067.0 L1279.3 1067.0 L1279.4 1067.0 L1279.5 1067.0 L1279.7 1067.0 L1279.8 1067.0 L1279.9 1067.0 L1280.0 1067.0 L1280.1 1067.0 L1280.2 1066.9 L1280.4 1066.9 L1280.5 1066.9 L1280.6 1066.9 L1280.7 1066.9 L1280.8 1066.9 L1280.9 1066.9 L1281.0 1066.9 L1281.2 1066.9 L1281.3 1066.9 L1281.4 1066.9 L1281.5 1066.9 L1281.6 1066.9 L1281.7 1066.9 L1281.9 1066.9 L1282.0 1066.9 L1282.1 1066.9 L1282.2 1066.9 L1282.3 1066.9 L1282.4 1066.9 L1282.5 1066.9 L1282.7 1066.9 L1282.8 1066.9 L1282.9 1066.9 L1283.0 1066.9 L1283.1 1066.9 L1283.2 1066.9 L1283.4 1066.9 L1283.5 1066.9 L1283.6 1066.9 L1283.7 1066.9 L1283.8 1066.9 L1283.9 1066.9 L1284.0 1066.9 L1284.2 1066.9 L1284.3 1066.9 L1284.4 1066.9 L1284.5 1066.9 L1284.6 1066.9 L1284.7 1066.9 L1284.9 1066.9 L1285.0 1066.9 L1285.1 1067.0 L1285.2 1067.0 L1285.3 1067.0 L1285.4 1067.0 L1285.5 1067.0 L1285.7 1067.0 L1285.8 1067.0 L1285.9 1067.0 L1286.0 1067.0 L1286.1 1067.0 L1286.2 1067.0 L1286.4 1067.1 L1286.5 1067.1 L1286.6 1067.1 L1286.7 1067.1 L1286.8 1067.1 L1286.9 1067.1 L1287.0 1067.1 L1287.2 1067.1 L1287.3 1067.2 L1287.4 1067.2 L1287.5 1067.2 L1287.6 1067.2 L1287.7 1067.2 L1287.9 1067.2 L1288.0 1067.2 L1288.1 1067.3 L1288.2 1067.3 L1288.3 1067.3 L1288.4 1067.3 L1288.5 1067.3 L1288.7 1067.4 L1288.8 1067.4 L1288.9 1067.4 L1289.0 1067.4 L1289.1 1067.4 L1289.2 1067.5 L1289.3 1067.5 L1289.5 1067.5 L1289.6 1067.5 L1289.7 1067.6 L1289.8 1067.6 L1289.9 1067.6 L1290.0 1067.6 L1290.2 1067.7 L1290.3 1067.7 L1290.4 1067.7 L1290.5 1067.8 L1290.6 1067.8 L1290.7 1067.8 L1290.8 1067.9 L1291.0 1067.9 L1291.1 1068.0 L1291.2 1068.0 L1291.3 1068.0 L1291.4 1068.1 L1291.5 1068.2 L1291.7 1068.2 L1291.8 1068.3 L1291.9 1068.2 L1292.0 1068.1 L1292.1 1068.0 L1292.2 1067.9 L1292.3 1067.9 L1292.5 1067.8 L1292.6 1067.7 L1292.7 1067.7 L1292.8 1067.6 L1292.9 1067.6 L1293.0 1067.5 L1293.2 1067.5 L1293.3 1067.4 L1293.4 1067.3 L1293.5 1067.3 L1293.6 1067.2 L1293.7 1067.2 L1293.8 1067.1 L1294.0 1067.1 L1294.1 1067.1 L1294.2 1067.0 L1294.3 1067.0 L1294.4 1066.9 L1294.5 1066.9 L1294.7 1066.8 L1294.8 1066.8 L1294.9 1066.7 L1295.0 1066.7 L1295.1 1066.6 L1295.2 1066.6 L1295.3 1066.6 L1295.5 1066.5 L1295.6 1066.5 L1295.7 1066.4 L1295.8 1066.4 L1295.9 1066.4 L1296.0 1066.3 L1296.2 1066.3 L1296.3 1066.2 L1296.4 1066.2 L1296.5 1066.2 L1296.6 1066.1 L1296.7 1066.1 L1296.8 1066.1 L1297.0 1066.0 L1297.1 1066.0 L1297.2 1065.9 L1297.3 1065.9 L1297.4 1065.9 L1297.5 1065.8 L1297.7 1065.8 L1297.8 1065.8 L1297.9 1065.7 L1298.0 1065.7 L1298.1 1065.7 L1298.2 1065.6 L1298.3 1065.6 L1298.5 1065.6 L1298.6 1065.5 L1298.7 1065.5 L1298.8 1065.5 L1298.9 1065.5 L1299.0 1065.4 L1299.2 1065.4 L1299.3 1065.4 L1299.4 1065.3 L1299.5 1065.3 L1299.6 1065.3 L1299.7 1065.3 L1299.8 1065.2 L1300.0 1065.2 L1300.1 1065.2 L1300.2 1065.2 L1300.3 1065.1 L1300.4 1065.1 L1300.5 1065.1 L1300.7 1065.1 L1300.8 1065.0 L1300.9 1065.0 L1301.0 1065.0 L1301.1 1065.0 L1301.2 1064.9 L1301.3 1064.9 L1301.5 1064.9 L1301.6 1064.9 L1301.7 1064.9 L1301.8 1064.8 L1301.9 1064.8 L1302.0 1064.8 L1302.1 1064.8 L1302.3 1064.8 L1302.4 1064.8 L1302.5 1064.7 L1302.6 1064.7 L1302.7 1064.7 L1302.8 1064.7 L1303.0 1064.7 L1303.1 1064.7 L1303.2 1064.6 L1303.3 1064.6 L1303.4 1064.6 L1303.5 1064.6 L1303.6 1064.6 L1303.8 1064.6 L1303.9 1064.6 L1304.0 1064.6 L1304.1 1064.6 L1304.2 1064.6 L1304.3 1064.5 L1304.5 1064.5 L1304.6 1064.5 L1304.7 1064.5 L1304.8 1064.5 L1304.9 1064.5 L1305.0 1064.5 L1305.1 1064.5 L1305.3 1064.5 L1305.4 1064.5 L1305.5 1064.5 L1305.6 1064.5 L1305.7 1064.5 L1305.8 1064.5 L1306.0 1064.5 L1306.1 1064.5 L1306.2 1064.5 L1306.3 1064.5 L1306.4 1064.5 L1306.5 1064.5 L1306.6 1064.5 L1306.8 1064.5 L1306.9 1064.5 L1307.0 1064.5 L1307.1 1064.5 L1307.2 1064.5 L1307.3 1064.5 L1307.5 1064.5 L1307.6 1064.5 L1307.7 1064.5 L1307.8 1064.5 L1307.9 1064.5 L1308.0 1064.6 L1308.1 1064.6 L1308.3 1064.6 L1308.4 1064.6 L1308.5 1064.6 L1308.6 1064.6 L1308.7 1064.6 L1308.8 1064.6 L1309.0 1064.6 L1309.1 1064.7 L1309.2 1064.7 L1309.3 1064.7 L1309.4 1064.7 L1309.5 1064.7 L1309.6 1064.7 L1309.8 1064.8 L1309.9 1064.8 L1310.0 1064.8 L1310.1 1064.8 L1310.2 1064.8 L1310.3 1064.9 L1310.5 1064.9 L1310.6 1064.9 L1310.7 1064.9 L1310.8 1065.0 L1310.9 1065.0 L1311.0 1065.0 L1311.1 1065.0 L1311.3 1065.1 L1311.4 1065.1 L1311.5 1065.1 L1311.6 1065.2 L1311.7 1065.2 L1311.8 1065.2 L1312.0 1065.2 L1312.1 1065.3 L1312.2 1065.3 L1312.3 1065.3 L1312.4 1065.4 L1312.5 1065.4 L1312.6 1065.5 L1312.8 1065.5 L1312.9 1065.5 L1313.0 1065.6 L1313.1 1065.6 L1313.2 1065.7 L1313.3 1065.7 L1313.5 1065.8 L1313.6 1065.8 L1313.7 1065.9 L1313.8 1065.9 L1313.9 1066.0 L1314.0 1066.0 L1314.1 1066.1 L1314.3 1066.2 L1314.4 1066.2 L1314.5 1066.3 L1314.6 1066.5 L1314.7 1066.4 L1314.8 1066.3 L1314.9 1066.2 L1315.1 1066.1 L1315.2 1066.0 L1315.3 1065.9 L1315.4 1065.8 L1315.5 1065.8 L1315.6 1065.7 L1315.8 1065.6 L1315.9 1065.6 L1316.0 1065.5 L1316.1 1065.4 L1316.2 1065.4 L1316.3 1065.3 L1316.4 1065.2 L1316.6 1065.2 L1316.7 1065.1 L1316.8 1065.1 L1316.9 1065.0 L1317.0 1065.0 L1317.1 1064.9 L1317.3 1064.9 L1317.4 1064.8 L1317.5 1064.7 L1317.6 1064.7 L1317.7 1064.6 L1317.8 1064.6 L1317.9 1064.5 L1318.1 1064.5 L1318.2 1064.5 L1318.3 1064.4 L1318.4 1064.4 L1318.5 1064.3 L1318.6 1064.3 L1318.8 1064.2 L1318.9 1064.2 L1319.0 1064.1 L1319.1 1064.1 L1319.2 1064.1 L1319.3 1064.0 L1319.4 1064.0 L1319.6 1063.9 L1319.7 1063.9 L1319.8 1063.9 L1319.9 1063.8 L1320.0 1063.8 L1320.1 1063.8 L1320.3 1063.7 L1320.4 1063.7 L1320.5 1063.7 L1320.6 1063.6 L1320.7 1063.6 L1320.8 1063.6 L1320.9 1063.5 L1321.1 1063.5 L1321.2 1063.5 L1321.3 1063.4 L1321.4 1063.4 L1321.5 1063.4 L1321.6 1063.4 L1321.8 1063.3 L1321.9 1063.3 L1322.0 1063.3 L1322.1 1063.3 L1322.2 1063.2 L1322.3 1063.2 L1322.4 1063.2 L1322.6 1063.2 L1322.7 1063.2 L1322.8 1063.1 L1322.9 1063.1 L1323.0 1063.1 L1323.1 1063.1 L1323.3 1063.1 L1323.4 1063.1 L1323.5 1063.0 L1323.6 1063.0 L1323.7 1063.0 L1323.8 1063.0 L1323.9 1063.0 L1324.1 1063.0 L1324.2 1063.0 L1324.3 1063.0 L1324.4 1063.0 L1324.5 1063.0 L1324.6 1063.0 L1324.8 1062.9 L1324.9 1062.9 L1325.0 1062.9 L1325.1 1062.9 L1325.2 1062.9 L1325.3 1062.9 L1325.4 1062.9 L1325.6 1062.9 L1325.7 1062.9 L1325.8 1062.9 L1325.9 1062.9 L1326.0 1063.0 L1326.1 1063.0 L1326.3 1063.0 L1326.4 1063.0 L1326.5 1063.0 L1326.6 1063.0 L1326.7 1063.0 L1326.8 1063.0 L1326.9 1063.0 L1327.1 1063.0 L1327.2 1063.0 L1327.3 1063.1 L1327.4 1063.1 L1327.5 1063.1 L1327.6 1063.1 L1327.7 1063.1 L1327.9 1063.1 L1328.0 1063.2 L1328.1 1063.2 L1328.2 1063.2 L1328.3 1063.2 L1328.4 1063.3 L1328.6 1063.3 L1328.7 1063.3 L1328.8 1063.3 L1328.9 1063.4 L1329.0 1063.4 L1329.1 1063.4 L1329.2 1063.5 L1329.4 1063.5 L1329.5 1063.5 L1329.6 1063.6 L1329.7 1063.6 L1329.8 1063.6 L1329.9 1063.7 L1330.1 1063.7 L1330.2 1063.8 L1330.3 1063.8 L1330.4 1063.8 L1330.5 1063.9 L1330.6 1063.9 L1330.7 1064.0 L1330.9 1064.0 L1331.0 1064.1 L1331.1 1064.1 L1331.2 1064.2 L1331.3 1064.3 L1331.4 1064.3 L1331.6 1064.4 L1331.7 1064.5 L1331.8 1064.5 L1331.9 1064.6 L1332.0 1064.7 L1332.1 1064.8 L1332.2 1064.9 L1332.4 1065.0 L1332.5 1064.8 L1332.6 1064.7 L1332.7 1064.5 L1332.8 1064.4 L1332.9 1064.3 L1333.1 1064.2 L1333.2 1064.1 L1333.3 1064.1 L1333.4 1064.0 L1333.5 1063.9 L1333.6 1063.8 L1333.7 1063.7 L1333.9 1063.6 L1334.0 1063.6 L1334.1 1063.5 L1334.2 1063.4 L1334.3 1063.4 L1334.4 1063.3 L1334.6 1063.2 L1334.7 1063.1 L1334.8 1063.1 L1334.9 1063.0 L1335.0 1063.0 L1335.1 1062.9 L1335.2 1062.8 L1335.4 1062.8 L1335.5 1062.7 L1335.6 1062.6 L1335.7 1062.6 L1335.8 1062.5 L1335.9 1062.5 L1336.1 1062.4 L1336.2 1062.4 L1336.3 1062.3 L1336.4 1062.3 L1336.5 1062.2 L1336.6 1062.2 L1336.7 1062.1 L1336.9 1062.1 L1337.0 1062.0 L1337.1 1062.0 L1337.2 1061.9 L1337.3 1061.9 L1337.4 1061.9 L1337.6 1061.8 L1337.7 1061.8 L1337.8 1061.7 L1337.9 1061.7 L1338.0 1061.7 L1338.1 1061.6 L1338.2 1061.6 L1338.4 1061.6 L1338.5 1061.5 L1338.6 1061.5 L1338.7 1061.5 L1338.8 1061.5 L1338.9 1061.4 L1339.0 1061.4 L1339.2 1061.4 L1339.3 1061.4 L1339.4 1061.4 L1339.5 1061.3 L1339.6 1061.3 L1339.7 1061.3 L1339.9 1061.3 L1340.0 1061.3 L1340.1 1061.3 L1340.2 1061.2 L1340.3 1061.2 L1340.4 1061.2 L1340.5 1061.2 L1340.7 1061.2 L1340.8 1061.2 L1340.9 1061.2 L1341.0 1061.2 L1341.1 1061.2 L1341.2 1061.2 L1341.4 1061.2 L1341.5 1061.2 L1341.6 1061.2 L1341.7 1061.2 L1341.8 1061.2 L1341.9 1061.2 L1342.0 1061.2 L1342.2 1061.2 L1342.3 1061.3 L1342.4 1061.3 L1342.5 1061.3 L1342.6 1061.3 L1342.7 1061.3 L1342.9 1061.3 L1343.0 1061.4 L1343.1 1061.4 L1343.2 1061.4 L1343.3 1061.4 L1343.4 1061.5 L1343.5 1061.5 L1343.7 1061.5 L1343.8 1061.5 L1343.9 1061.6 L1344.0 1061.6 L1344.1 1061.7 L1344.2 1061.7 L1344.4 1061.7 L1344.5 1061.8 L1344.6 1061.8 L1344.7 1061.9 L1344.8 1061.9 L1344.9 1062.0 L1345.0 1062.0 L1345.2 1062.1 L1345.3 1062.1 L1345.4 1062.2 L1345.5 1062.2 L1345.6 1062.3 L1345.7 1062.4 L1345.9 1062.4 L1346.0 1062.5 L1346.1 1062.6 L1346.2 1062.7 L1346.3 1062.8 L1346.4 1062.9 L1346.5 1063.0 L1346.7 1063.1 L1346.8 1063.1 L1346.9 1062.9 L1347.0 1062.8 L1347.1 1062.7 L1347.2 1062.5 L1347.4 1062.4 L1347.5 1062.3 L1347.6 1062.2 L1347.7 1062.1 L1347.8 1062.0 L1347.9 1061.9 L1348.0 1061.8 L1348.2 1061.7 L1348.3 1061.6 L1348.4 1061.5 L1348.5 1061.4 L1348.6 1061.3 L1348.7 1061.3 L1348.9 1061.2 L1349.0 1061.1 L1349.1 1061.0 L1349.2 1060.9 L1349.3 1060.9 L1349.4 1060.8 L1349.5 1060.7 L1349.7 1060.7 L1349.8 1060.6 L1349.9 1060.5 L1350.0 1060.5 L1350.1 1060.4 L1350.2 1060.3 L1350.4 1060.3 L1350.5 1060.2 L1350.6 1060.2 L1350.7 1060.1 L1350.8 1060.1 L1350.9 1060.0 L1351.0 1060.0 L1351.2 1059.9 L1351.3 1059.9 L1351.4 1059.8 L1351.5 1059.8 L1351.6 1059.7 L1351.7 1059.7 L1351.8 1059.7 L1352.0 1059.6 L1352.1 1059.6 L1352.2 1059.6 L1352.3 1059.5 L1352.4 1059.5 L1352.5 1059.5 L1352.7 1059.4 L1352.8 1059.4 L1352.9 1059.4 L1353.0 1059.4 L1353.1 1059.4 L1353.2 1059.3 L1353.3 1059.3 L1353.5 1059.3 L1353.6 1059.3 L1353.7 1059.3 L1353.8 1059.3 L1353.9 1059.3 L1354.0 1059.3 L1354.2 1059.3 L1354.3 1059.3 L1354.4 1059.3 L1354.5 1059.3 L1354.6 1059.3 L1354.7 1059.3 L1354.8 1059.3 L1355.0 1059.3 L1355.1 1059.3 L1355.2 1059.4 L1355.3 1059.4 L1355.4 1059.4 L1355.5 1059.4 L1355.7 1059.5 L1355.8 1059.5 L1355.9 1059.5 L1356.0 1059.5 L1356.1 1059.6 L1356.2 1059.6 L1356.3 1059.6 L1356.5 1059.7 L1356.6 1059.7 L1356.7 1059.8 L1356.8 1059.8 L1356.9 1059.9 L1357.0 1059.9 L1357.2 1060.0 L1357.3 1060.0 L1357.4 1060.1 L1357.5 1060.2 L1357.6 1060.2 L1357.7 1060.3 L1357.8 1060.4 L1358.0 1060.4 L1358.1 1060.5 L1358.2 1060.6 L1358.3 1060.7 L1358.4 1060.8 L1358.5 1060.9 L1358.7 1061.1 L1358.8 1061.2 L1358.9 1061.4 L1359.0 1061.1 L1359.1 1060.9 L1359.2 1060.8 L1359.3 1060.6 L1359.5 1060.5 L1359.6 1060.4 L1359.7 1060.2 L1359.8 1060.1 L1359.9 1060.0 L1360.0 1059.9 L1360.2 1059.8 L1360.3 1059.7 L1360.4 1059.6 L1360.5 1059.5 L1360.6 1059.4 L1360.7 1059.3 L1360.8 1059.2 L1361.0 1059.1 L1361.1 1059.0 L1361.2 1058.9 L1361.3 1058.8 L1361.4 1058.8 L1361.5 1058.7 L1361.7 1058.6 L1361.8 1058.5 L1361.9 1058.5 L1362.0 1058.4 L1362.1 1058.3 L1362.2 1058.3 L1362.3 1058.2 L1362.5 1058.1 L1362.6 1058.1 L1362.7 1058.0 L1362.8 1058.0 L1362.9 1057.9 L1363.0 1057.9 L1363.2 1057.8 L1363.3 1057.8 L1363.4 1057.7 L1363.5 1057.7 L1363.6 1057.7 L1363.7 1057.6 L1363.8 1057.6 L1364.0 1057.6 L1364.1 1057.6 L1364.2 1057.5 L1364.3 1057.5 L1364.4 1057.5 L1364.5 1057.5 L1364.6 1057.5 L1364.8 1057.5 L1364.9 1057.4 L1365.0 1057.4 L1365.1 1057.4 L1365.2 1057.4 L1365.3 1057.4 L1365.5 1057.4 L1365.6 1057.4 L1365.7 1057.5 L1365.8 1057.5 L1365.9 1057.5 L1366.0 1057.5 L1366.1 1057.5 L1366.3 1057.5 L1366.4 1057.6 L1366.5 1057.6 L1366.6 1057.6 L1366.7 1057.7 L1366.8 1057.7 L1367.0 1057.7 L1367.1 1057.8 L1367.2 1057.8 L1367.3 1057.9 L1367.4 1057.9 L1367.5 1058.0 L1367.6 1058.1 L1367.8 1058.1 L1367.9 1058.2 L1368.0 1058.3 L1368.1 1058.3 L1368.2 1058.4 L1368.3 1058.5 L1368.5 1058.6 L1368.6 1058.7 L1368.7 1058.8 L1368.8 1058.9 L1368.9 1059.0 L1369.0 1059.1 L1369.1 1059.2 L1369.3 1059.4 L1369.4 1059.7 L1369.5 1059.4 L1369.6 1059.2 L1369.7 1059.0 L1369.8 1058.8 L1370.0 1058.7 L1370.1 1058.5 L1370.2 1058.4 L1370.3 1058.2 L1370.4 1058.1 L1370.5 1058.0 L1370.6 1057.9 L1370.8 1057.8 L1370.9 1057.6 L1371.0 1057.5 L1371.1 1057.4 L1371.2 1057.3 L1371.3 1057.2 L1371.5 1057.1 L1371.6 1057.0 L1371.7 1057.0 L1371.8 1056.9 L1371.9 1056.8 L1372.0 1056.7 L1372.1 1056.6 L1372.3 1056.6 L1372.4 1056.5 L1372.5 1056.4 L1372.6 1056.4 L1372.7 1056.3 L1372.8 1056.2 L1373.0 1056.2 L1373.1 1056.1 L1373.2 1056.1 L1373.3 1056.0 L1373.4 1056.0 L1373.5 1056.0 L1373.6 1055.9 L1373.8 1055.9 L1373.9 1055.9 L1374.0 1055.8 L1374.1 1055.8 L1374.2 1055.8 L1374.3 1055.8 L1374.5 1055.8 L1374.6 1055.7 L1374.7 1055.7 L1374.8 1055.7 L1374.9 1055.7 L1375.0 1055.7 L1375.1 1055.7 L1375.3 1055.8 L1375.4 1055.8 L1375.5 1055.8 L1375.6 1055.8 L1375.7 1055.8 L1375.8 1055.9 L1376.0 1055.9 L1376.1 1055.9 L1376.2 1056.0 L1376.3 1056.0 L1376.4 1056.1 L1376.5 1056.1 L1376.6 1056.2 L1376.8 1056.2 L1376.9 1056.3 L1377.0 1056.3 L1377.1 1056.4 L1377.2 1056.5 L1377.3 1056.6 L1377.4 1056.7 L1377.6 1056.7 L1377.7 1056.8 L1377.8 1056.9 L1377.9 1057.0 L1378.0 1057.2 L1378.1 1057.3 L1378.3 1057.4 L1378.4 1057.6 L1378.5 1057.7 L1378.6 1058.0 L1378.7 1057.9 L1378.8 1057.6 L1378.9 1057.4 L1379.1 1057.2 L1379.2 1057.0 L1379.3 1056.9 L1379.4 1056.7 L1379.5 1056.6 L1379.6 1056.4 L1379.8 1056.3 L1379.9 1056.2 L1380.0 1056.1 L1380.1 1055.9 L1380.2 1055.8 L1380.3 1055.7 L1380.4 1055.6 L1380.6 1055.5 L1380.7 1055.4 L1380.8 1055.3 L1380.9 1055.2 L1381.0 1055.1 L1381.1 1055.0 L1381.3 1055.0 L1381.4 1054.9 L1381.5 1054.8 L1381.6 1054.7 L1381.7 1054.7 L1381.8 1054.6 L1381.9 1054.6 L1382.1 1054.5 L1382.2 1054.5 L1382.3 1054.4 L1382.4 1054.4 L1382.5 1054.3 L1382.6 1054.3 L1382.8 1054.3 L1382.9 1054.3 L1383.0 1054.3 L1383.1 1054.2 L1383.2 1054.2 L1383.3 1054.2 L1383.4 1054.2 L1383.6 1054.2 L1383.7 1054.2 L1383.8 1054.2 L1383.9 1054.3 L1384.0 1054.3 L1384.1 1054.3 L1384.3 1054.3 L1384.4 1054.4 L1384.5 1054.4 L1384.6 1054.4 L1384.7 1054.5 L1384.8 1054.5 L1384.9 1054.6 L1385.1 1054.7 L1385.2 1054.7 L1385.3 1054.8 L1385.4 1054.9 L1385.5 1055.0 L1385.6 1055.0 L1385.8 1055.1 L1385.9 1055.2 L1386.0 1055.3 L1386.1 1055.4 L1386.2 1055.6 L1386.3 1055.7 L1386.4 1055.8 L1386.6 1056.0 L1386.7 1056.2 L1386.8 1056.4 L1386.9 1056.7 L1387.0 1056.4 L1387.1 1056.1 L1387.3 1055.9 L1387.4 1055.7 L1387.5 1055.5 L1387.6 1055.3 L1387.7 1055.2 L1387.8 1055.0 L1387.9 1054.9 L1388.1 1054.7 L1388.2 1054.6 L1388.3 1054.5 L1388.4 1054.4 L1388.5 1054.2 L1388.6 1054.1 L1388.8 1054.0 L1388.9 1053.9 L1389.0 1053.8 L1389.1 1053.7 L1389.2 1053.6 L1389.3 1053.5 L1389.4 1053.5 L1389.6 1053.4 L1389.7 1053.3 L1389.8 1053.3 L1389.9 1053.2 L1390.0 1053.1 L1390.1 1053.1 L1390.2 1053.1 L1390.4 1053.0 L1390.5 1053.0 L1390.6 1053.0 L1390.7 1052.9 L1390.8 1052.9 L1390.9 1052.9 L1391.1 1052.9 L1391.2 1052.9 L1391.3 1052.9 L1391.4 1052.9 L1391.5 1052.9 L1391.6 1052.9 L1391.7 1053.0 L1391.9 1053.0 L1392.0 1053.0 L1392.1 1053.1 L1392.2 1053.1 L1392.3 1053.2 L1392.4 1053.2 L1392.6 1053.3 L1392.7 1053.4 L1392.8 1053.4 L1392.9 1053.5 L1393.0 1053.6 L1393.1 1053.7 L1393.2 1053.8 L1393.4 1053.9 L1393.5 1054.0 L1393.6 1054.2 L1393.7 1054.3 L1393.8 1054.5 L1393.9 1054.6 L1394.1 1054.8 L1394.2 1055.0 L1394.3 1055.2 L1394.4 1055.6 L1394.5 1055.2 L1394.6 1054.9 L1394.7 1054.7 L1394.9 1054.5 L1395.0 1054.3 L1395.1 1054.1 L1395.2 1053.9 L1395.3 1053.7 L1395.4 1053.6 L1395.6 1053.4 L1395.7 1053.3 L1395.8 1053.1 L1395.9 1053.0 L1396.0 1052.9 L1396.1 1052.8 L1396.2 1052.7 L1396.4 1052.6 L1396.5 1052.5 L1396.6 1052.4 L1396.7 1052.3 L1396.8 1052.2 L1396.9 1052.1 L1397.1 1052.0 L1397.2 1052.0 L1397.3 1051.9 L1397.4 1051.9 L1397.5 1051.8 L1397.6 1051.8 L1397.7 1051.8 L1397.9 1051.7 L1398.0 1051.7 L1398.1 1051.7 L1398.2 1051.7 L1398.3 1051.7 L1398.4 1051.7 L1398.6 1051.7 L1398.7 1051.8 L1398.8 1051.8 L1398.9 1051.8 L1399.0 1051.9 L1399.1 1051.9 L1399.2 1052.0 L1399.4 1052.1 L1399.5 1052.1 L1399.6 1052.2 L1399.7 1052.3 L1399.8 1052.4 L1399.9 1052.5 L1400.1 1052.6 L1400.2 1052.7 L1400.3 1052.9 L1400.4 1053.0 L1400.5 1053.2 L1400.6 1053.3 L1400.7 1053.5 L1400.9 1053.7 L1401.0 1053.9 L1401.1 1054.2 L1401.2 1054.5 L1401.3 1054.2 L1401.4 1053.9 L1401.5 1053.6 L1401.7 1053.4 L1401.8 1053.2 L1401.9 1053.0 L1402.0 1052.8 L1402.1 1052.6 L1402.2 1052.4 L1402.4 1052.3 L1402.5 1052.1 L1402.6 1052.0 L1402.7 1051.8 L1402.8 1051.7 L1402.9 1051.6 L1403.0 1051.4 L1403.2 1051.3 L1403.3 1051.2 L1403.4 1051.1 L1403.5 1051.1 L1403.6 1051.0 L1403.7 1050.9 L1403.9 1050.8 L1404.0 1050.8 L1404.1 1050.7 L1404.2 1050.7 L1404.3 1050.7 L1404.4 1050.6 L1404.5 1050.6 L1404.7 1050.6 L1404.8 1050.6 L1404.9 1050.6 L1405.0 1050.7 L1405.1 1050.7 L1405.2 1050.7 L1405.4 1050.8 L1405.5 1050.8 L1405.6 1050.9 L1405.7 1050.9 L1405.8 1051.0 L1405.9 1051.1 L1406.0 1051.2 L1406.2 1051.3 L1406.3 1051.4 L1406.4 1051.6 L1406.5 1051.7 L1406.6 1051.8 L1406.7 1052.0 L1406.9 1052.2 L1407.0 1052.4 L1407.1 1052.6 L1407.2 1052.8 L1407.3 1053.1 L1407.4 1053.4 L1407.5 1053.4 L1407.7 1053.1 L1407.8 1052.7 L1407.9 1052.5 L1408.0 1052.2 L1408.1 1052.0 L1408.2 1051.8 L1408.4 1051.6 L1408.5 1051.4 L1408.6 1051.2 L1408.7 1051.0 L1408.8 1050.9 L1408.9 1050.7 L1409.0 1050.6 L1409.2 1050.4 L1409.3 1050.3 L1409.4 1050.2 L1409.5 1050.1 L1409.6 1050.0 L1409.7 1049.9 L1409.9 1049.8 L1410.0 1049.7 L1410.1 1049.7 L1410.2 1049.6 L1410.3 1049.6 L1410.4 1049.6 L1410.5 1049.6 L1410.7 1049.5 L1410.8 1049.5 L1410.9 1049.6 L1411.0 1049.6 L1411.1 1049.6 L1411.2 1049.7 L1411.4 1049.7 L1411.5 1049.8 L1411.6 1049.9 L1411.7 1049.9 L1411.8 1050.0 L1411.9 1050.1 L1412.0 1050.3 L1412.2 1050.4 L1412.3 1050.5 L1412.4 1050.7 L1412.5 1050.9 L1412.6 1051.0 L1412.7 1051.2 L1412.9 1051.5 L1413.0 1051.7 L1413.1 1052.0 L1413.2 1052.3 L1413.3 1052.7 L1413.4 1052.2 L1413.5 1051.8 L1413.7 1051.5 L1413.8 1051.2 L1413.9 1051.0 L1414.0 1050.7 L1414.1 1050.5 L1414.2 1050.3 L1414.3 1050.1 L1414.5 1049.9 L1414.6 1049.7 L1414.7 1049.6 L1414.8 1049.4 L1414.9 1049.3 L1415.0 1049.1 L1415.2 1049.0 L1415.3 1048.9 L1415.4 1048.8 L1415.5 1048.7 L1415.6 1048.7 L1415.7 1048.6 L1415.8 1048.5 L1416.0 1048.5 L1416.1 1048.5 L1416.2 1048.5 L1416.3 1048.5 L1416.4 1048.5 L1416.5 1048.5 L1416.7 1048.5 L1416.8 1048.6 L1416.9 1048.6 L1417.0 1048.7 L1417.1 1048.8 L1417.2 1048.9 L1417.3 1049.0 L1417.5 1049.1 L1417.6 1049.3 L1417.7 1049.4 L1417.8 1049.6 L1417.9 1049.8 L1418.0 1050.0 L1418.2 1050.2 L1418.3 1050.4 L1418.4 1050.7 L1418.5 1051.0 L1418.6 1051.3 L1418.7 1051.6 L1418.8 1051.1 L1419.0 1050.7 L1419.1 1050.4 L1419.2 1050.1 L1419.3 1049.8 L1419.4 1049.6 L1419.5 1049.3 L1419.7 1049.1 L1419.8 1048.9 L1419.9 1048.7 L1420.0 1048.5" fill="none" stroke="#000" stroke-width="1.15" stroke-linejoin="round" stroke-linecap="round"/>
<path d="M1420.0 1048.5 L1420.0 1048.5 L1422.5 1046.5 L1424.2 1050.5 L1425.6 1047.7 L1427.3 1049.3 L1428.5 1046.0 L1430.2 1046.2 L1432.1 1042.0 L1433.5 1047.7 L1435.0 1046.5 L1436.1 1047.4 L1437.5 1043.7 L1438.9 1044.8 L1440.9 1038.6 L1442.3 1044.3 L1443.7 1046.5 L1445.1 1042.6 L1446.2 1045.7 L1448.5 1037.5 L1450.8 1046.0 L1451.9 1042.6 L1453.0 1046.2 L1454.4 1043.7 L1455.6 1040.3 L1456.7 1043.7 L1458.1 1044.0 L1459.8 1047.4 L1461.8 1042.9 L1462.9 1045.7 L1464.6 1046.2" fill="none" stroke="#000" stroke-width="1.40" stroke-linejoin="round" stroke-linecap="round"/>
<path d="M1464.6 1046.2 L1464.9 1046.7" fill="none" stroke="#000" stroke-width="1.50" stroke-linejoin="round" stroke-linecap="round"/>
<path d="M1464.9 1046.7 L1465.3 1047.1" fill="none" stroke="#000" stroke-width="2.10" stroke-linejoin="round" stroke-linecap="round"/>
<path d="M1465.3 1047.1 L1465.6 1047.6" fill="none" stroke="#000" stroke-width="2.40" stroke-linejoin="round" stroke-linecap="round"/>
<path d="M1465.6 1047.6 L1466.0 1047.9 L1466.5 1048.1 L1466.9 1048.4" fill="none" stroke="#000" stroke-width="2.70" stroke-linejoin="round" stroke-linecap="round"/>
<path d="M1466.9 1048.4 L1467.3 1048.7 L1467.8 1048.9 L1468.2 1049.2 L1468.6 1049.5 L1469.1 1049.7 L1469.5 1050.0 L1469.9 1050.3 L1470.4 1050.5 L1470.8 1050.8 L1471.2 1051.1 L1471.6 1051.4 L1472.1 1051.6" fill="none" stroke="#000" stroke-width="3.00" stroke-linejoin="round" stroke-linecap="round"/>
<path d="M1472.1 1051.6 L1472.5 1051.9 L1472.9 1052.2 L1473.4 1052.4 L1473.8 1052.7 L1474.2 1053.0 L1474.7 1053.2 L1475.1 1053.5 L1475.5 1053.8 L1476.0 1054.0 L1476.4 1054.3 L1476.8 1054.6 L1477.3 1054.8 L1477.7 1055.1 L1478.1 1055.4 L1478.6 1055.7 L1479.0 1055.9 L1479.4 1056.2 L1479.9 1056.5 L1480.3 1056.8 L1480.7 1057.0 L1481.2 1057.3 L1481.6 1057.6 L1482.1 1057.8 L1482.5 1058.1 L1482.9 1058.4 L1483.4 1058.7 L1483.8 1058.9 L1484.2 1059.2 L1484.7 1059.5 L1485.1 1059.8 L1485.5 1060.0 L1486.0 1060.3 L1486.4 1060.6 L1486.8 1060.9 L1487.3 1061.1 L1487.7 1061.4 L1488.1 1061.7 L1488.5 1062.0 L1488.9 1062.3 L1489.3 1062.6 L1489.7 1062.9 L1490.1 1063.2" fill="none" stroke="#000" stroke-width="3.30" stroke-linejoin="round" stroke-linecap="round"/>
<path d="M1490.1 1063.2 L1490.6 1063.4 L1491.0 1063.7 L1491.4 1064.0 L1491.8 1064.3 L1492.2 1064.6 L1492.6 1064.9" fill="none" stroke="#000" stroke-width="3.00" stroke-linejoin="round" stroke-linecap="round"/>
<path d="M1492.6 1064.9 L1493.0 1065.2 L1493.3 1065.6 L1493.5 1066.1 L1493.8 1066.5 L1494.0 1066.9" fill="none" stroke="#000" stroke-width="2.70" stroke-linejoin="round" stroke-linecap="round"/>
<path d="M1494.0 1066.9 L1494.3 1067.3 L1494.6 1067.8 L1494.8 1068.2" fill="none" stroke="#000" stroke-width="2.40" stroke-linejoin="round" stroke-linecap="round"/>
<path d="M1494.8 1068.2 L1495.1 1068.6 L1495.3 1069.1 L1495.6 1069.5 L1495.8 1070.0" fill="none" stroke="#000" stroke-width="2.10" stroke-linejoin="round" stroke-linecap="round"/>
<path d="M1495.8 1070.0 L1495.9 1070.5 L1496.1 1071.0 L1496.3 1071.5 L1496.4 1072.0 L1496.6 1072.5 L1496.8 1073.0" fill="none" stroke="#000" stroke-width="1.80" stroke-linejoin="round" stroke-linecap="round"/>
<path d="M1496.8 1073.0 L1496.9 1073.5 L1497.1 1074.0 L1497.2 1074.5 L1497.3 1075.0 L1497.4 1075.5 L1497.5 1076.0 L1497.6 1076.6 L1497.7 1077.1 L1497.8 1077.6" fill="none" stroke="#000" stroke-width="1.50" stroke-linejoin="round" stroke-linecap="round"/>
<path d="M1497.8 1077.6 L1497.9 1078.1" fill="none" stroke="#000" stroke-width="1.20" stroke-linejoin="round" stroke-linecap="round"/>
<path d="M1567.7 1033.1 L1568.2 1032.1 L1568.8 1031.2 L1569.3 1030.3 L1569.8 1029.3 L1570.3 1028.4 L1570.9 1027.4 L1571.4 1026.4 L1571.4 1026.4 L1571.8 1027.2 L1572.3 1028.1 L1572.7 1028.9 L1573.1 1029.7 L1573.5 1030.5 L1573.9 1031.3 L1574.3 1032.1 L1574.7 1032.9Z" fill="#000" stroke="#000" stroke-width="0.8" stroke-linejoin="round"/>
<path d="M1596.8 1034.5 L1597.1 1033.8 L1597.3 1033.0 L1597.6 1032.3 L1597.9 1031.6 L1598.2 1030.8 L1598.2 1030.8 L1598.5 1031.6 L1598.7 1032.4 L1599.0 1033.1 L1599.3 1033.9Z" fill="#000" stroke="#000" stroke-width="0.8" stroke-linejoin="round"/>
<path d="M1617.7 1026.4 L1617.9 1025.5 L1618.2 1024.6 L1618.2 1024.6 L1618.4 1025.3 L1618.6 1026.0 L1618.8 1026.7Z" fill="#000" stroke="#000" stroke-width="0.8" stroke-linejoin="round"/>
<path d="M1633.8 1015.4 L1634.0 1014.5 L1634.0 1014.5 L1634.2 1015.1 L1634.3 1015.6 L1634.5 1016.2Z" fill="#000" stroke="#000" stroke-width="0.8" stroke-linejoin="round"/>
<path d="M1647.5 1009.0 L1647.7 1008.3 L1647.7 1008.3 L1647.9 1009.1Z" fill="#000" stroke="#000" stroke-width="0.8" stroke-linejoin="round"/>
<path d="M1660.1 998.8 L1660.1 998.8 L1660.2 999.4Z" fill="#000" stroke="#000" stroke-width="0.8" stroke-linejoin="round"/>
<path d="M1497.9 1078.1 L1497.9 1077.9 L1498.0 1077.6 L1498.0 1077.2 L1498.1 1076.7 L1498.2 1076.1 L1498.3 1075.5 L1498.4 1074.8 L1498.5 1074.2 L1498.6 1073.5 L1498.8 1072.8 L1498.9 1072.2 L1499.0 1071.5 L1499.2 1070.9" fill="none" stroke="#000" stroke-width="1.30" stroke-linejoin="round" stroke-linecap="round"/>
<path d="M1499.2 1070.9 L1499.4 1070.3 L1499.5 1069.7 L1499.7 1069.2 L1499.9 1068.6" fill="none" stroke="#000" stroke-width="1.50" stroke-linejoin="round" stroke-linecap="round"/>
<path d="M1499.9 1068.6 L1500.1 1068.1 L1500.3 1067.6 L1500.5 1067.2 L1500.7 1066.7 L1500.9 1066.3 L1501.1 1065.9" fill="none" stroke="#000" stroke-width="1.80" stroke-linejoin="round" stroke-linecap="round"/>
<path d="M1501.1 1065.9 L1501.4 1065.5 L1501.6 1065.2 L1501.8 1064.8 L1502.1 1064.5 L1502.3 1064.1 L1502.6 1063.8 L1502.8 1063.5 L1503.1 1063.2 L1503.4 1062.9" fill="none" stroke="#000" stroke-width="2.10" stroke-linejoin="round" stroke-linecap="round"/>
<path d="M1503.4 1062.9 L1503.7 1062.6 L1503.9 1062.3 L1504.2 1062.0 L1504.5 1061.7 L1504.8 1061.4 L1505.1 1061.1 L1505.4 1060.8 L1505.7 1060.5 L1506.0 1060.2 L1506.4 1059.9" fill="none" stroke="#000" stroke-width="2.40" stroke-linejoin="round" stroke-linecap="round"/>
<path d="M1506.4 1059.9 L1506.7 1059.6 L1507.0 1059.2 L1507.3 1058.9 L1507.7 1058.6 L1508.0 1058.3 L1508.4 1058.0 L1508.7 1057.6 L1509.1 1057.3 L1509.4 1057.0 L1509.8 1056.6 L1510.2 1056.3 L1510.5 1056.0 L1510.9 1055.6 L1511.3 1055.3 L1511.7 1054.9 L1512.1 1054.5 L1512.5 1054.2 L1512.9 1053.8 L1513.3 1053.4 L1513.7 1053.1 L1514.1 1052.7 L1514.5 1052.3 L1514.9 1051.9 L1515.3 1051.5 L1515.8 1051.1 L1516.2 1050.7 L1516.6 1050.3 L1517.1 1049.9 L1517.5 1049.5 L1517.9 1049.1 L1518.4 1048.7 L1518.8 1048.3 L1519.3 1047.9 L1519.8 1047.4 L1520.2 1047.0 L1520.7 1046.6 L1521.1 1046.1 L1521.6 1045.7 L1522.1 1045.3 L1522.6 1044.8 L1523.1 1044.4 L1523.5 1043.9 L1524.0 1043.5 L1524.5 1043.0 L1525.0 1042.6 L1525.5 1042.1" fill="none" stroke="#000" stroke-width="2.70" stroke-linejoin="round" stroke-linecap="round"/>
<path d="M1525.5 1042.1 L1526.0 1041.6 L1526.5 1041.2 L1527.1 1040.7 L1527.6 1040.2 L1528.1 1039.7 L1528.6 1039.3" fill="none" stroke="#000" stroke-width="3.00" stroke-linejoin="round" stroke-linecap="round"/>
<path d="M1528.6 1039.3 L1529.1 1038.8 L1529.7 1038.3 L1530.2 1037.8 L1530.7 1037.3 L1531.3 1036.8 L1531.8 1036.3" fill="none" stroke="#000" stroke-width="3.30" stroke-linejoin="round" stroke-linecap="round"/>
<path d="M1531.8 1036.3" fill="none" stroke="#000" stroke-width="3.60" stroke-linejoin="round" stroke-linecap="round"/>
<path d="M1531.8 1036.3 L1532.3 1037.1" fill="none" stroke="#000" stroke-width="3.60" stroke-linejoin="round" stroke-linecap="round"/>
<path d="M1532.3 1037.1 L1532.9 1037.9 L1533.4 1038.7" fill="none" stroke="#000" stroke-width="3.30" stroke-linejoin="round" stroke-linecap="round"/>
<path d="M1533.4 1038.7 L1534.0 1039.5 L1534.5 1040.3 L1535.0 1041.0" fill="none" stroke="#000" stroke-width="3.00" stroke-linejoin="round" stroke-linecap="round"/>
<path d="M1535.0 1041.0 L1535.5 1041.8 L1536.0 1042.5 L1536.5 1043.3" fill="none" stroke="#000" stroke-width="2.70" stroke-linejoin="round" stroke-linecap="round"/>
<path d="M1536.5 1043.3 L1537.0 1044.0 L1537.5 1044.7 L1538.0 1045.4 L1538.4 1046.1 L1538.9 1046.8 L1539.4 1047.5 L1539.8 1048.2 L1540.3 1048.9 L1540.7 1049.5 L1541.2 1050.2 L1541.6 1050.8 L1542.0 1051.4 L1542.4 1052.0 L1542.8 1052.6 L1543.2 1053.2 L1543.6 1053.8 L1544.0 1054.4 L1544.4 1054.9 L1544.8 1055.5 L1545.1 1056.0" fill="none" stroke="#000" stroke-width="2.40" stroke-linejoin="round" stroke-linecap="round"/>
<path d="M1545.1 1056.0 L1545.5 1056.6 L1545.8 1057.1 L1546.2 1057.6 L1546.5 1058.1 L1546.8 1058.6 L1547.1 1059.1 L1547.4 1059.6 L1547.7 1060.0" fill="none" stroke="#000" stroke-width="2.10" stroke-linejoin="round" stroke-linecap="round"/>
<path d="M1547.7 1060.0 L1548.0 1060.5 L1548.3 1061.0 L1548.6 1061.5 L1548.8 1062.1 L1549.1 1062.6 L1549.3 1063.2 L1549.6 1063.8 L1549.8 1064.5" fill="none" stroke="#000" stroke-width="1.80" stroke-linejoin="round" stroke-linecap="round"/>
<path d="M1549.8 1064.5 L1550.0 1065.2 L1550.2 1066.0 L1550.4 1066.8 L1550.6 1067.8 L1550.7 1068.8" fill="none" stroke="#000" stroke-width="1.50" stroke-linejoin="round" stroke-linecap="round"/>
<path d="M1550.7 1068.8 L1550.9 1069.8 L1551.0 1070.9 L1551.1 1072.0 L1551.2 1073.0 L1551.3 1073.9 L1551.4 1074.6 L1551.4 1075.0" fill="none" stroke="#000" stroke-width="1.30" stroke-linejoin="round" stroke-linecap="round"/>
<path d="M1551.4 1075.0 L1551.4 1074.6 L1551.5 1073.7 L1551.6 1072.6 L1551.7 1071.4 L1551.8 1070.1 L1551.9 1068.8 L1552.1 1067.5 L1552.2 1066.3" fill="none" stroke="#000" stroke-width="1.30" stroke-linejoin="round" stroke-linecap="round"/>
<path d="M1552.2 1066.3 L1552.4 1065.1 L1552.6 1064.0 L1552.8 1063.0 L1553.0 1062.1 L1553.2 1061.3 L1553.4 1060.5" fill="none" stroke="#000" stroke-width="1.50" stroke-linejoin="round" stroke-linecap="round"/>
<path d="M1553.4 1060.5 L1553.6 1059.8 L1553.9 1059.1 L1554.1 1058.5 L1554.4 1057.8 L1554.7 1057.2 L1554.9 1056.6 L1555.2 1056.0 L1555.5 1055.5 L1555.8 1054.9 L1556.1 1054.3" fill="none" stroke="#000" stroke-width="1.80" stroke-linejoin="round" stroke-linecap="round"/>
<path d="M1556.1 1054.3 L1556.5 1053.7 L1556.8 1053.1 L1557.1 1052.4 L1557.5 1051.8 L1557.8 1051.2 L1558.2 1050.5 L1558.5 1049.8 L1558.9 1049.2 L1559.3 1048.5 L1559.7 1047.8 L1560.1 1047.0 L1560.5 1046.3 L1560.9 1045.6 L1561.3 1044.8 L1561.7 1044.1 L1562.1 1043.3 L1562.6 1042.5 L1563.0 1041.7 L1563.5 1040.9 L1563.9 1040.1 L1564.4 1039.2 L1564.8 1038.4 L1565.3 1037.5 L1565.8 1036.6 L1566.3 1035.8 L1566.7 1034.9 L1567.2 1034.0 L1567.7 1033.1" fill="none" stroke="#000" stroke-width="2.10" stroke-linejoin="round" stroke-linecap="round"/>
<path d="M1567.7 1033.1 L1568.2 1032.1 L1568.8 1031.2 L1569.3 1030.3 L1569.8 1029.3 L1570.3 1028.4 L1570.9 1027.4" fill="none" stroke="#000" stroke-width="2.40" stroke-linejoin="round" stroke-linecap="round"/>
<path d="M1570.9 1027.4 L1571.4 1026.4" fill="none" stroke="#000" stroke-width="2.70" stroke-linejoin="round" stroke-linecap="round"/>
<path d="M1571.4 1026.4 L1571.9 1027.5 L1572.5 1028.5" fill="none" stroke="#000" stroke-width="2.70" stroke-linejoin="round" stroke-linecap="round"/>
<path d="M1572.5 1028.5 L1573.0 1029.5 L1573.5 1030.5 L1574.1 1031.5" fill="none" stroke="#000" stroke-width="2.40" stroke-linejoin="round" stroke-linecap="round"/>
<path d="M1574.1 1031.5 L1574.6 1032.5 L1575.1 1033.5 L1575.6 1034.4 L1576.0 1035.4 L1576.5 1036.3 L1577.0 1037.2 L1577.5 1038.1 L1577.9 1039.0 L1578.4 1039.8 L1578.8 1040.7 L1579.2 1041.5 L1579.7 1042.3 L1580.1 1043.2" fill="none" stroke="#000" stroke-width="2.10" stroke-linejoin="round" stroke-linecap="round"/>
<path d="M1580.1 1043.2 L1580.5 1043.9 L1580.9 1044.7 L1581.3 1045.5 L1581.6 1046.2 L1582.0 1046.9 L1582.4 1047.6 L1582.7 1048.3 L1583.1 1049.0 L1583.4 1049.6 L1583.7 1050.3 L1584.0 1050.9 L1584.3 1051.5 L1584.6 1052.2 L1584.9 1052.8 L1585.2 1053.5" fill="none" stroke="#000" stroke-width="1.80" stroke-linejoin="round" stroke-linecap="round"/>
<path d="M1585.2 1053.5 L1585.4 1054.1 L1585.7 1054.9 L1585.9 1055.7 L1586.1 1056.5 L1586.4 1057.5 L1586.6 1058.5 L1586.7 1059.7 L1586.9 1060.9" fill="none" stroke="#000" stroke-width="1.50" stroke-linejoin="round" stroke-linecap="round"/>
<path d="M1586.9 1060.9 L1587.1 1062.3 L1587.2 1063.7 L1587.3 1065.0 L1587.4 1066.3 L1587.5 1067.4 L1587.5 1067.9" fill="none" stroke="#000" stroke-width="1.30" stroke-linejoin="round" stroke-linecap="round"/>
<path d="M1587.5 1067.9 L1587.5 1067.0 L1587.6 1065.3 L1587.8 1063.4 L1587.9 1061.6 L1588.1 1059.9" fill="none" stroke="#000" stroke-width="1.30" stroke-linejoin="round" stroke-linecap="round"/>
<path d="M1588.1 1059.9 L1588.3 1058.5 L1588.5 1057.2 L1588.7 1056.2 L1589.0 1055.2 L1589.3 1054.3" fill="none" stroke="#000" stroke-width="1.50" stroke-linejoin="round" stroke-linecap="round"/>
<path d="M1589.3 1054.3 L1589.5 1053.5 L1589.8 1052.6 L1590.2 1051.7 L1590.5 1050.8 L1590.8 1049.9 L1591.2 1049.0 L1591.6 1048.0 L1592.0 1047.0 L1592.4 1045.9 L1592.8 1044.8 L1593.2 1043.7 L1593.7 1042.6 L1594.1 1041.4 L1594.6 1040.1 L1595.1 1038.9 L1595.6 1037.6 L1596.1 1036.3" fill="none" stroke="#000" stroke-width="1.80" stroke-linejoin="round" stroke-linecap="round"/>
<path d="M1596.1 1036.3 L1596.6 1035.0 L1597.1 1033.6 L1597.7 1032.2 L1598.2 1030.8" fill="none" stroke="#000" stroke-width="2.10" stroke-linejoin="round" stroke-linecap="round"/>
<path d="M1598.2 1030.8" fill="none" stroke="#000" stroke-width="2.40" stroke-linejoin="round" stroke-linecap="round"/>
<path d="M1598.2 1030.8 L1598.8 1032.4" fill="none" stroke="#000" stroke-width="2.40" stroke-linejoin="round" stroke-linecap="round"/>
<path d="M1598.8 1032.4 L1599.3 1034.1 L1599.8 1035.6 L1600.4 1037.2" fill="none" stroke="#000" stroke-width="2.10" stroke-linejoin="round" stroke-linecap="round"/>
<path d="M1600.4 1037.2 L1600.9 1038.7 L1601.4 1040.1 L1601.9 1041.5 L1602.3 1042.9 L1602.8 1044.3 L1603.2 1045.5 L1603.6 1046.8 L1604.1 1048.0 L1604.5 1049.2 L1604.8 1050.3 L1605.2 1051.4 L1605.5 1052.4 L1605.9 1053.4 L1606.2 1054.4" fill="none" stroke="#000" stroke-width="1.80" stroke-linejoin="round" stroke-linecap="round"/>
<path d="M1606.2 1054.4 L1606.5 1055.4 L1606.8 1056.5 L1607.0 1057.6 L1607.3 1058.9 L1607.5 1060.4 L1607.7 1062.2 L1607.8 1064.3" fill="none" stroke="#000" stroke-width="1.50" stroke-linejoin="round" stroke-linecap="round"/>
<path d="M1607.8 1064.3 L1608.0 1066.5 L1608.1 1068.5 L1608.1 1069.6" fill="none" stroke="#000" stroke-width="1.30" stroke-linejoin="round" stroke-linecap="round"/>
<path d="M1608.1 1069.6 L1608.1 1068.4 L1608.2 1066.1 L1608.4 1063.7 L1608.5 1061.4 L1608.7 1059.3" fill="none" stroke="#000" stroke-width="1.30" stroke-linejoin="round" stroke-linecap="round"/>
<path d="M1608.7 1059.3 L1608.9 1057.5 L1609.1 1056.0 L1609.4 1054.7 L1609.7 1053.5 L1609.9 1052.4 L1610.2 1051.3 L1610.6 1050.2" fill="none" stroke="#000" stroke-width="1.50" stroke-linejoin="round" stroke-linecap="round"/>
<path d="M1610.6 1050.2 L1610.9 1049.0 L1611.2 1047.8 L1611.6 1046.6 L1612.0 1045.3 L1612.4 1044.0 L1612.8 1042.6 L1613.2 1041.2 L1613.7 1039.7 L1614.1 1038.2 L1614.6 1036.7 L1615.1 1035.1 L1615.6 1033.4 L1616.1 1031.7 L1616.6 1030.0 L1617.1 1028.2 L1617.6 1026.4" fill="none" stroke="#000" stroke-width="1.80" stroke-linejoin="round" stroke-linecap="round"/>
<path d="M1617.6 1026.4 L1618.2 1024.6" fill="none" stroke="#000" stroke-width="2.10" stroke-linejoin="round" stroke-linecap="round"/>
<path d="M1618.2 1024.6 L1618.8 1026.7 L1619.3 1028.7" fill="none" stroke="#000" stroke-width="2.10" stroke-linejoin="round" stroke-linecap="round"/>
<path d="M1619.3 1028.7 L1619.8 1030.6 L1620.4 1032.5 L1620.9 1034.3 L1621.3 1036.0 L1621.8 1037.6 L1622.2 1039.2 L1622.6 1040.7 L1623.0 1042.1 L1623.4 1043.5" fill="none" stroke="#000" stroke-width="1.80" stroke-linejoin="round" stroke-linecap="round"/>
<path d="M1623.4 1043.5 L1623.7 1044.8 L1624.1 1046.0 L1624.4 1047.3 L1624.6 1048.7 L1624.9 1050.4 L1625.1 1052.5 L1625.2 1055.1" fill="none" stroke="#000" stroke-width="1.50" stroke-linejoin="round" stroke-linecap="round"/>
<path d="M1625.2 1055.1 L1625.3 1057.8 L1625.4 1059.5" fill="none" stroke="#000" stroke-width="1.30" stroke-linejoin="round" stroke-linecap="round"/>
<path d="M1625.4 1059.5 L1625.5 1057.8 L1625.6 1055.0 L1625.7 1052.1 L1625.9 1049.5" fill="none" stroke="#000" stroke-width="1.30" stroke-linejoin="round" stroke-linecap="round"/>
<path d="M1625.9 1049.5 L1626.1 1047.4 L1626.3 1045.6 L1626.6 1044.1 L1626.9 1042.7 L1627.2 1041.3 L1627.5 1040.0 L1627.9 1038.6 L1628.2 1037.1" fill="none" stroke="#000" stroke-width="1.50" stroke-linejoin="round" stroke-linecap="round"/>
<path d="M1628.2 1037.1 L1628.6 1035.6 L1629.0 1034.0 L1629.5 1032.3 L1629.9 1030.6 L1630.4 1028.8 L1630.8 1027.0 L1631.3 1025.0 L1631.8 1023.0 L1632.3 1021.0 L1632.9 1018.9 L1633.4 1016.7 L1634.0 1014.5" fill="none" stroke="#000" stroke-width="1.80" stroke-linejoin="round" stroke-linecap="round"/>
<path d="M1634.0 1014.5" fill="none" stroke="#000" stroke-width="2.10" stroke-linejoin="round" stroke-linecap="round"/>
<path d="M1634.0 1014.5 L1634.6 1016.3" fill="none" stroke="#000" stroke-width="2.10" stroke-linejoin="round" stroke-linecap="round"/>
<path d="M1634.6 1016.3 L1635.1 1018.1 L1635.6 1019.7 L1636.1 1021.4" fill="none" stroke="#000" stroke-width="1.80" stroke-linejoin="round" stroke-linecap="round"/>
<path d="M1636.1 1021.4 L1636.6 1022.9 L1637.1 1024.4 L1637.5 1025.8 L1637.9 1027.1 L1638.3 1028.4 L1638.7 1029.6 L1639.0 1030.7 L1639.3 1031.8 L1639.6 1032.9 L1639.8 1034.3 L1640.0 1036.0 L1640.2 1038.1" fill="none" stroke="#000" stroke-width="1.50" stroke-linejoin="round" stroke-linecap="round"/>
<path d="M1640.2 1038.1 L1640.3 1040.5 L1640.4 1042.1" fill="none" stroke="#000" stroke-width="1.30" stroke-linejoin="round" stroke-linecap="round"/>
<path d="M1640.4 1042.1 L1640.5 1040.5 L1640.6 1037.8 L1640.8 1035.3 L1641.0 1033.3" fill="none" stroke="#000" stroke-width="1.30" stroke-linejoin="round" stroke-linecap="round"/>
<path d="M1641.0 1033.3 L1641.2 1031.6 L1641.5 1030.3 L1641.8 1029.1 L1642.1 1027.8 L1642.4 1026.6 L1642.8 1025.3 L1643.2 1023.9 L1643.6 1022.5 L1644.1 1020.9 L1644.5 1019.3 L1645.0 1017.7 L1645.5 1015.9 L1646.0 1014.1 L1646.6 1012.2" fill="none" stroke="#000" stroke-width="1.50" stroke-linejoin="round" stroke-linecap="round"/>
<path d="M1646.6 1012.2 L1647.1 1010.3 L1647.7 1008.3" fill="none" stroke="#000" stroke-width="1.80" stroke-linejoin="round" stroke-linecap="round"/>
<path d="M1647.7 1008.3 L1648.3 1011.0 L1648.8 1013.6 L1649.4 1016.1" fill="none" stroke="#000" stroke-width="1.80" stroke-linejoin="round" stroke-linecap="round"/>
<path d="M1649.4 1016.1 L1649.9 1018.5 L1650.3 1020.7 L1650.8 1022.9 L1651.2 1025.0 L1651.7 1026.9 L1652.0 1028.7 L1652.4 1030.4 L1652.7 1032.0 L1653.0 1033.7 L1653.3 1035.6 L1653.5 1038.0 L1653.7 1041.2" fill="none" stroke="#000" stroke-width="1.50" stroke-linejoin="round" stroke-linecap="round"/>
<path d="M1653.7 1041.2 L1653.8 1044.7 L1653.9 1047.1" fill="none" stroke="#000" stroke-width="1.30" stroke-linejoin="round" stroke-linecap="round"/>
<path d="M1653.9 1047.1 L1654.0 1044.1 L1654.1 1039.7 L1654.3 1035.8" fill="none" stroke="#000" stroke-width="1.30" stroke-linejoin="round" stroke-linecap="round"/>
<path d="M1654.3 1035.8 L1654.5 1032.8 L1654.8 1030.4 L1655.1 1028.4 L1655.4 1026.3 L1655.8 1024.2 L1656.1 1021.9 L1656.6 1019.5 L1657.0 1017.0 L1657.5 1014.3 L1657.9 1011.4 L1658.4 1008.5 L1659.0 1005.4 L1659.5 1002.1" fill="none" stroke="#000" stroke-width="1.50" stroke-linejoin="round" stroke-linecap="round"/>
<path d="M1659.5 1002.1 L1660.1 998.8" fill="none" stroke="#000" stroke-width="1.80" stroke-linejoin="round" stroke-linecap="round"/>
<path d="M1660.1 998.8 L1660.7 1001.5 L1661.2 1004.0" fill="none" stroke="#000" stroke-width="1.80" stroke-linejoin="round" stroke-linecap="round"/>
<path d="M1661.2 1004.0 L1661.8 1006.4 L1662.2 1008.6 L1662.7 1010.7 L1663.1 1012.6 L1663.5 1014.4 L1663.8 1016.0 L1664.1 1017.8 L1664.3 1020.2" fill="none" stroke="#000" stroke-width="1.50" stroke-linejoin="round" stroke-linecap="round"/>
<path d="M1664.3 1020.2 L1664.5 1023.6 L1664.6 1026.3" fill="none" stroke="#000" stroke-width="1.30" stroke-linejoin="round" stroke-linecap="round"/>
<path d="M1664.6 1026.3 L1664.7 1024.1 L1664.8 1020.6 L1664.9 1017.2 L1665.1 1014.4" fill="none" stroke="#000" stroke-width="1.30" stroke-linejoin="round" stroke-linecap="round"/>
<path d="M1665.1 1014.4 L1665.4 1012.2 L1665.6 1010.4 L1665.9 1008.7 L1666.3 1007.1 L1666.6 1005.4 L1667.0 1003.7 L1667.4 1001.8 L1667.8 999.9 L1668.2 997.8 L1668.7 995.6 L1669.1 993.4 L1669.6 991.0 L1670.2 988.6 L1670.7 986.1 L1671.2 983.5" fill="none" stroke="#000" stroke-width="1.50" stroke-linejoin="round" stroke-linecap="round"/>
<path d="M1671.2 983.5 L1671.8 980.8" fill="none" stroke="#000" stroke-width="1.80" stroke-linejoin="round" stroke-linecap="round"/>
<path d="M1671.8 980.8 L1672.4 985.2" fill="none" stroke="#000" stroke-width="1.80" stroke-linejoin="round" stroke-linecap="round"/>
<path d="M1672.4 985.2 L1673.0 989.4 L1673.5 993.3 L1674.0 996.8 L1674.4 1000.0 L1674.8 1002.9 L1675.1 1005.7 L1675.4 1009.0 L1675.6 1014.2" fill="none" stroke="#000" stroke-width="1.50" stroke-linejoin="round" stroke-linecap="round"/>
<path d="M1675.6 1014.2 L1675.7 1019.0" fill="none" stroke="#000" stroke-width="1.30" stroke-linejoin="round" stroke-linecap="round"/>
<path d="M1675.7 1019.0 L1682.3 944.3 L1684.8 937.9 L1690.7 890.9 L1695.3 931.5 L1698.3 904.8 L1700.9 932.8 L1705.7 885.3 L1708.5 930.3 L1712.0 878.1 L1714.6 917.6 L1720.4 832.4 L1725.0 766.3 L1727.8 799.3 L1729.6 767.5 L1732.1 807.5 L1734.7 758.1 L1736.7 799.3 L1739.0 744.7 L1741.0 770.9 L1743.8 721.0 L1744.8 730.7" fill="none" stroke="#000" stroke-width="1.30" stroke-linejoin="miter" stroke-linecap="round"/>
<path d="M1527.1 1039.0 L1527.8 1036.6 L1528.5 1039.0 L1528.8 1039.0 L1529.5 1035.4 L1530.2 1039.0 L1530.5 1039.0 L1531.2 1033.0 L1531.9 1039.0 L1532.1 1039.0 L1532.8 1033.5 L1533.5 1039.0 L1533.8 1039.0 L1534.5 1035.6 L1535.2 1039.0 L1535.5 1039.0 L1536.2 1036.2 L1536.9 1039.0" fill="none" stroke="#000" stroke-width="1.00" stroke-linejoin="miter" stroke-linecap="round"/>
</svg>
</body></html>
